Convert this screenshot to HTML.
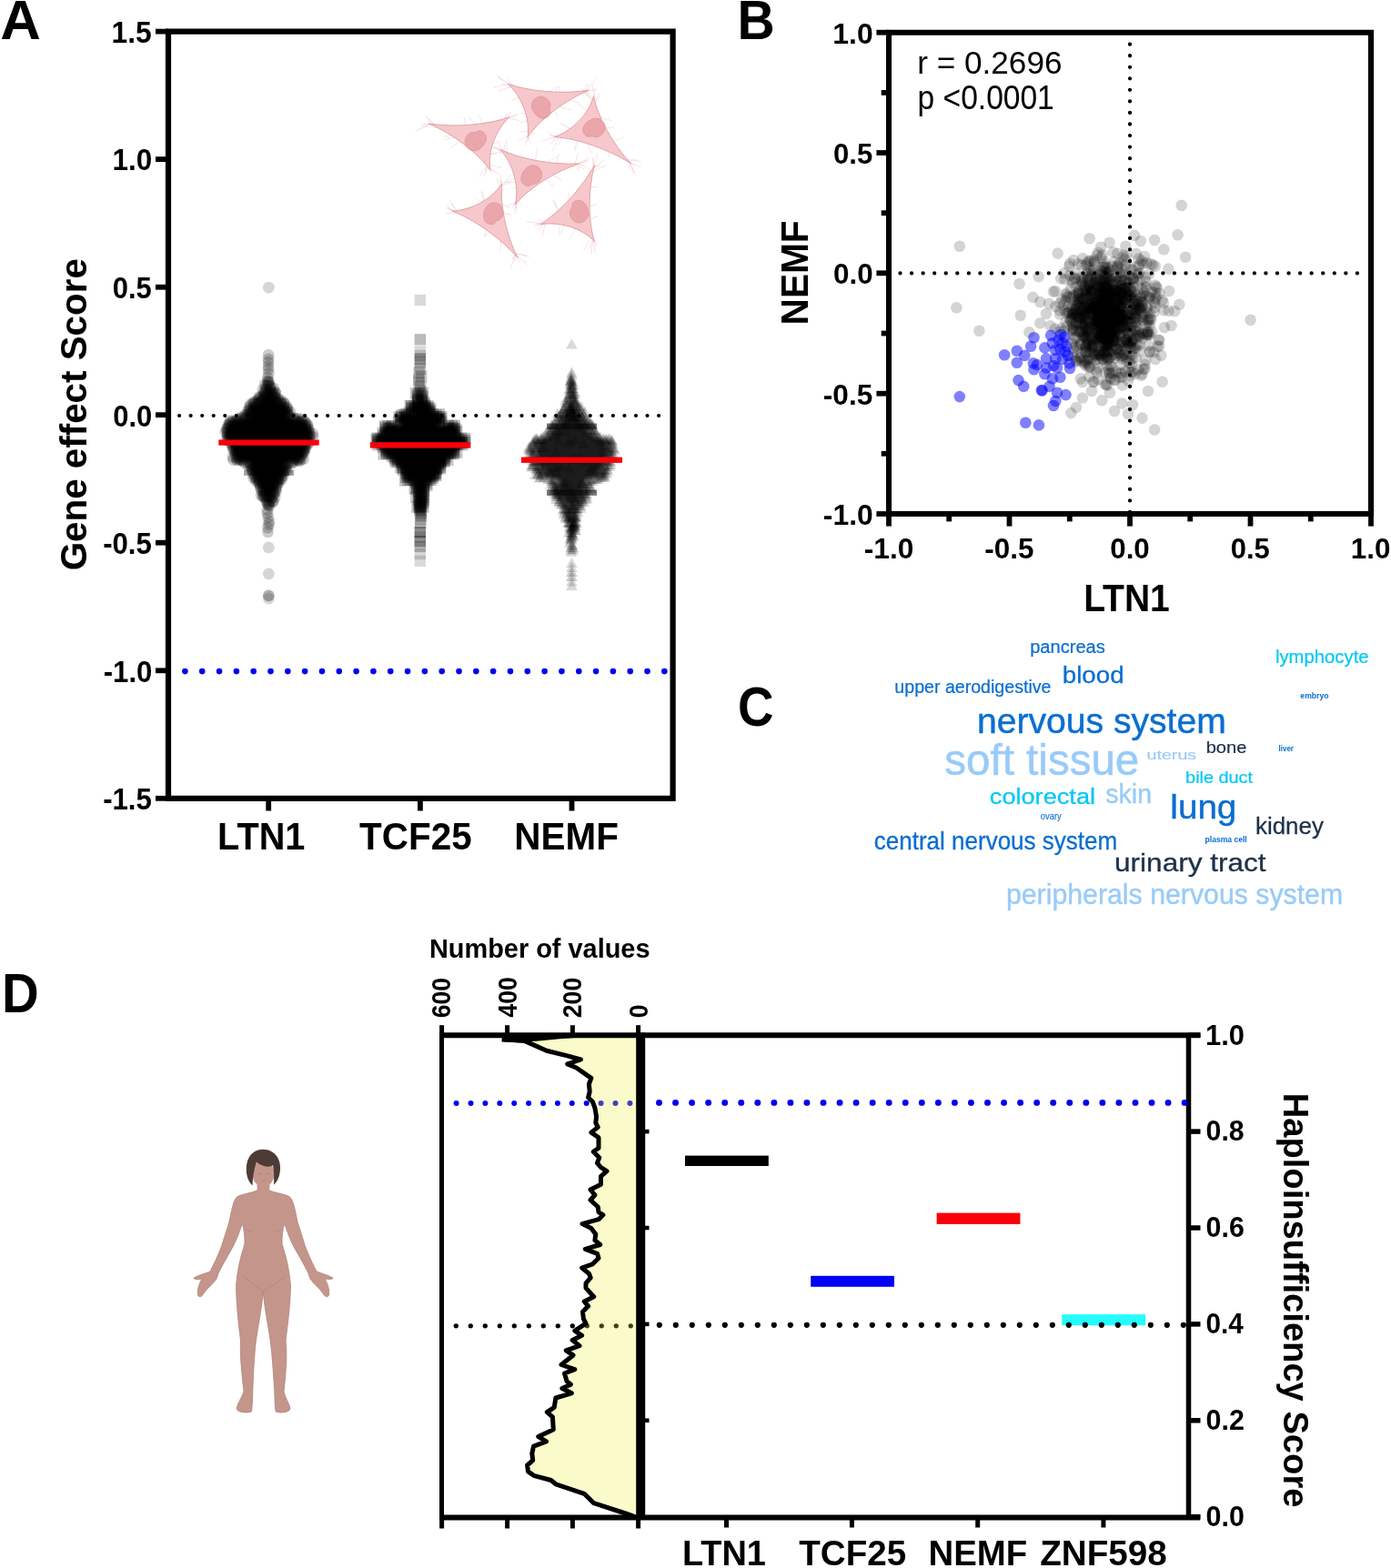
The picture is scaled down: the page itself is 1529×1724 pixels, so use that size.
<!DOCTYPE html>
<html><head><meta charset="utf-8"><title>Figure</title>
<style>html,body{margin:0;padding:0;background:#fff;overflow:hidden}svg{display:block}</style>
</head><body>
<svg width="1529" height="1724" viewBox="0 0 1529 1724" font-family="'Liberation Sans', Arial, sans-serif">
<g>
<path d="M558.3 92.1L547.0 85.4M558.7 92.4L542.1 96.4M563.4 95.2L546.7 100.0M563.8 95.4L552.0 92.4M564.9 96.0L557.2 95.7M565.1 96.2L557.7 86.6M559.9 93.0L545.6 82.4M643.6 100.3L655.3 98.4M639.3 101.5L648.1 100.8M642.5 100.6L649.0 104.4M638.4 101.7L643.4 96.9M640.5 101.1L647.6 97.9M644.9 99.9L655.0 86.4M643.7 100.2L645.9 92.1M582.7 144.1L577.4 160.2M580.7 149.1L580.5 155.3M582.7 144.2L571.2 145.2M583.3 142.8L586.9 148.1M581.3 147.7L576.0 155.8M580.2 150.4L584.2 157.4M580.6 149.4L570.1 154.3M611.3 101.1L611.5 94.6M605.1 100.6L609.8 96.5M614.2 101.3L614.4 94.6M625.1 109.8L636.4 113.2M609.2 122.0L613.6 128.4M615.1 117.5L628.5 120.8M570.7 106.5L562.3 110.8M577.6 124.9L571.3 124.8M580.3 132.1L573.0 135.2M477.5 137.7L468.8 128.6M480.0 138.4L468.2 128.5M472.5 136.3L460.6 142.7M479.7 138.3L464.4 136.0M474.6 136.9L470.3 132.1M472.5 136.3L456.4 144.4M471.7 136.1L461.8 139.0M558.6 129.4L571.8 133.1M554.8 131.7L560.7 128.1M559.0 129.2L561.8 123.3M557.2 130.3L569.7 124.7M558.9 129.3L568.8 127.0M552.2 133.3L558.5 124.6M555.2 131.5L556.5 124.6M536.2 180.8L526.4 194.5M536.2 180.9L551.5 184.3M538.7 186.7L549.4 191.1M535.8 179.8L532.0 193.9M535.8 179.9L534.2 189.0M537.4 183.6L543.6 188.0M536.5 181.6L540.3 190.3M522.1 136.5L514.9 128.2M511.2 137.4L510.2 129.1M530.8 135.7L525.7 126.6M541.1 161.1L548.8 163.5M537.9 170.1L546.3 168.3M542.4 157.5L549.3 155.4M499.4 151.1L488.6 153.3M496.0 148.5L487.8 150.4M504.7 155.1L495.7 163.1M652.4 112.6L641.2 100.5M652.4 113.5L659.1 102.7M652.5 106.3L651.2 93.6M652.4 112.8L654.5 97.1M652.4 114.5L659.9 105.2M652.4 109.4L640.1 98.5M652.4 110.2L642.0 101.7M610.8 150.4L595.2 154.9M614.6 150.0L603.8 148.5M614.5 150.0L606.9 150.9M609.5 150.6L603.2 145.6M619.1 149.4L613.6 159.5M614.7 149.9L607.0 166.1M611.5 150.3L605.1 159.4M691.5 178.1L696.5 189.5M687.8 175.0L704.0 177.5M688.0 175.2L697.3 180.9M692.5 178.9L691.4 185.8M693.1 179.4L704.3 184.0M690.7 177.4L699.0 175.0M693.5 179.7L698.1 192.2M646.0 122.2L635.5 114.6M627.2 141.8L615.9 135.2M626.9 142.1L616.9 135.6M646.0 158.3L650.1 168.1M634.2 154.2L631.6 166.4M669.1 166.4L669.5 173.3M659.5 128.5L672.5 132.9M665.9 140.0L674.8 140.7M674.3 155.2L685.3 150.9M553.5 167.0L547.6 156.5M553.8 167.2L554.6 159.2M553.8 167.2L536.7 169.2M554.7 167.8L546.9 165.7M550.2 164.5L543.3 161.5M554.1 167.4L542.1 162.4M557.4 169.8L556.5 152.9M631.8 180.9L642.2 186.2M636.5 180.0L646.4 175.7M636.6 180.0L644.6 184.0M632.6 180.7L646.7 177.0M635.3 180.2L647.6 173.7M631.7 180.9L635.7 168.4M629.2 181.3L638.1 187.7M569.1 219.5L572.6 224.7M567.0 223.7L567.9 230.4M569.0 219.8L567.0 229.6M567.2 223.2L557.2 225.7M568.2 221.4L564.5 226.2M566.6 224.3L565.9 235.0M569.8 218.1L562.3 229.3M611.0 180.1L614.4 169.3M588.6 176.0L590.3 163.0M601.8 178.4L612.5 171.7M582.6 208.6L588.6 209.7M608.0 192.4L617.9 198.2M599.5 197.8L609.1 205.1M568.3 206.3L561.9 206.1M566.8 200.9L555.4 200.0M565.5 196.2L554.0 201.5M551.6 202.1L545.8 195.3M548.6 211.1L554.9 207.1M549.8 207.4L546.9 198.2M551.4 202.9L550.3 192.4M551.0 204.0L551.5 197.7M550.8 204.5L559.7 201.3M550.8 204.7L561.7 192.2M504.6 233.4L490.1 235.0M498.6 232.4L491.1 229.1M505.6 233.6L494.9 223.9M498.1 232.3L490.3 224.5M502.5 233.0L495.0 220.8M500.2 232.7L491.2 227.0M503.8 233.3L492.6 229.4M566.9 280.2L561.2 295.3M566.9 280.1L580.0 291.1M566.6 279.7L566.1 286.8M564.2 276.1L572.5 289.4M565.6 278.2L578.7 281.0M566.0 278.8L581.7 282.2M566.2 279.0L562.8 286.6M532.8 219.9L528.4 210.0M527.6 222.7L520.4 215.8M531.5 220.6L530.3 211.0M533.6 252.5L533.3 260.5M550.9 264.7L549.6 277.6M537.9 255.5L532.2 260.1M551.3 223.8L560.6 228.8M553.3 233.3L562.0 237.3M553.9 236.3L560.0 235.3M652.4 184.2L657.8 168.2M650.1 190.0L665.8 181.6M652.8 183.2L660.6 181.9M653.0 182.8L650.8 172.7M649.9 190.4L647.6 184.6M651.7 185.9L652.7 172.4M652.0 185.3L664.4 175.7M596.5 245.7L589.6 247.7M596.8 245.5L591.4 253.6M596.8 245.5L587.1 247.6M593.8 246.7L588.1 244.5M599.7 244.4L596.1 260.4M595.8 245.9L578.5 243.7M598.6 244.8L591.0 240.1M652.1 263.0L654.2 278.4M651.9 262.6L655.5 268.1M650.5 260.1L642.0 274.6M651.7 262.2L650.0 279.0M652.6 263.7L646.9 273.6M649.9 259.1L655.8 270.9M650.2 259.6L651.2 266.0M613.5 232.1L609.1 219.1M625.7 218.8L624.6 211.8M614.3 231.3L606.9 220.6M620.7 248.1L614.3 259.1M632.4 251.7L625.5 263.6M613.8 245.9L614.8 256.3M648.4 206.4L656.8 205.1M648.4 241.7L657.4 237.6M648.4 226.7L656.4 224.8" stroke="#efcfd1" stroke-width="0.6" fill="none"/>
<path d="M558.1 92.0C582.1 100.8 617.6 103.7 647.0 99.3C620.3 110.7 593.5 131.3 580.1 150.6C582.8 130.4 574.0 106.9 558.1 92.0Z" fill="#f6c8cb" stroke="#e2a2a7" stroke-width="1" stroke-linejoin="round"/>
<path d="M-12 0C-12 -8 -5 -11 1 -10C7 -9 6 -4 10 -3C13 -2 13 5 10 8C5 12 -3 11 -8 8C-11 5 -12 3 -12 0Z" transform="translate(595.7 117.6) rotate(46)" fill="#eaa6aa" stroke="#e09aa0" stroke-width="0.8"/>
<path d="M471.1 135.9C500.6 140.3 536.1 137.4 560.0 128.6C544.3 143.5 535.8 167.0 538.9 187.2C525.2 167.9 498.0 147.3 471.1 135.9Z" fill="#f6c8cb" stroke="#e2a2a7" stroke-width="1" stroke-linejoin="round"/>
<path d="M-12 0C-12 -8 -5 -11 1 -10C7 -9 6 -4 10 -3C13 -2 13 5 10 8C5 12 -3 11 -8 8C-11 5 -12 3 -12 0Z" transform="translate(522.4 154.2) rotate(304)" fill="#eaa6aa" stroke="#e09aa0" stroke-width="0.8"/>
<path d="M652.5 105.7C647.1 125.4 629.9 143.3 609.4 150.6C634.8 152.2 668.5 164.0 693.7 179.9C673.7 158.6 657.2 128.9 652.5 105.7Z" fill="#f6c8cb" stroke="#e2a2a7" stroke-width="1" stroke-linejoin="round"/>
<path d="M-12 0C-12 -8 -5 -11 1 -10C7 -9 6 -4 10 -3C13 -2 13 5 10 8C5 12 -3 11 -8 8C-11 5 -12 3 -12 0Z" transform="translate(653.4 141.4) rotate(139)" fill="#eaa6aa" stroke="#e09aa0" stroke-width="0.8"/>
<path d="M549.9 164.3C572.8 175.3 607.6 181.5 636.9 179.9C609.5 188.8 581.3 206.8 566.4 224.8C570.9 204.9 564.3 180.7 549.9 164.3Z" fill="#f6c8cb" stroke="#e2a2a7" stroke-width="1" stroke-linejoin="round"/>
<path d="M-12 0C-12 -8 -5 -11 1 -10C7 -9 6 -4 10 -3C13 -2 13 5 10 8C5 12 -3 11 -8 8C-11 5 -12 3 -12 0Z" transform="translate(584.7 193.6) rotate(117)" fill="#eaa6aa" stroke="#e09aa0" stroke-width="0.8"/>
<path d="M551.7 201.9C540.6 218.9 518.7 231.0 496.8 232.1C520.7 240.8 549.7 261.3 569.1 283.4C556.2 257.7 549.3 225.1 551.7 201.9Z" fill="#f6c8cb" stroke="#e2a2a7" stroke-width="1" stroke-linejoin="round"/>
<path d="M-12 0C-12 -8 -5 -11 1 -10C7 -9 6 -4 10 -3C13 -2 13 5 10 8C5 12 -3 11 -8 8C-11 5 -12 3 -12 0Z" transform="translate(542.6 234.8) rotate(99)" fill="#eaa6aa" stroke="#e09aa0" stroke-width="0.8"/>
<path d="M653.4 181.7C639.1 207.3 615.3 233.3 593.8 246.7C615.3 243.3 639.1 250.7 653.4 265.1C646.2 242.9 646.2 209.5 653.4 181.7Z" fill="#f6c8cb" stroke="#e2a2a7" stroke-width="1" stroke-linejoin="round"/>
<path d="M-12 0C-12 -8 -5 -11 1 -10C7 -9 6 -4 10 -3C13 -2 13 5 10 8C5 12 -3 11 -8 8C-11 5 -12 3 -12 0Z" transform="translate(636.0 233.0) rotate(244)" fill="#eaa6aa" stroke="#e09aa0" stroke-width="0.8"/>
</g>
<text x="0.26" y="42.80" font-size="60.58" font-weight="bold" textLength="44.62" lengthAdjust="spacingAndGlyphs" fill="#000">A</text>
<path d="M185.0 34.6H739.6V877.8H185.0Z" fill="none" stroke="#000" stroke-width="6.2"/>
<path d="M171 34.6H185.0" stroke="#000" stroke-width="5.8"/>
<text x="122.59" y="46.90" font-size="33.91" font-weight="bold" textLength="44.21" lengthAdjust="spacingAndGlyphs" fill="#000">1.5</text>
<path d="M171 175.1H185.0" stroke="#000" stroke-width="5.8"/>
<text x="123.62" y="187.43" font-size="33.43" font-weight="bold" textLength="43.64" lengthAdjust="spacingAndGlyphs" fill="#000">1.0</text>
<path d="M171 315.7H185.0" stroke="#000" stroke-width="5.8"/>
<text x="123.76" y="327.97" font-size="33.43" font-weight="bold" textLength="43.02" lengthAdjust="spacingAndGlyphs" fill="#000">0.5</text>
<path d="M171 456.2H185.0" stroke="#000" stroke-width="5.8"/>
<text x="124.26" y="468.50" font-size="33.43" font-weight="bold" textLength="42.98" lengthAdjust="spacingAndGlyphs" fill="#000">0.0</text>
<path d="M171 596.7H185.0" stroke="#000" stroke-width="5.8"/>
<text x="113.15" y="609.03" font-size="33.43" font-weight="bold" textLength="53.73" lengthAdjust="spacingAndGlyphs" fill="#000">-0.5</text>
<path d="M171 737.3H185.0" stroke="#000" stroke-width="5.8"/>
<text x="113.76" y="749.57" font-size="33.43" font-weight="bold" textLength="53.59" lengthAdjust="spacingAndGlyphs" fill="#000">-1.0</text>
<path d="M171 877.8H185.0" stroke="#000" stroke-width="5.8"/>
<text x="113.15" y="890.10" font-size="33.91" font-weight="bold" textLength="53.73" lengthAdjust="spacingAndGlyphs" fill="#000">-1.5</text>
<path d="M295.2 877.8V891.5" stroke="#000" stroke-width="5.8"/>
<path d="M461.9 877.8V891.5" stroke="#000" stroke-width="5.8"/>
<path d="M628.5 877.8V891.5" stroke="#000" stroke-width="5.8"/>
<text x="239.12" y="933.80" font-size="42.17" font-weight="bold" textLength="96.31" lengthAdjust="spacingAndGlyphs" fill="#000">LTN1</text>
<text x="395.10" y="933.80" font-size="41.86" font-weight="bold" textLength="123.57" lengthAdjust="spacingAndGlyphs" fill="#000">TCF25</text>
<text x="565.37" y="933.80" font-size="42.17" font-weight="bold" textLength="114.57" lengthAdjust="spacingAndGlyphs" fill="#000">NEMF</text>
<text x="93.49" y="625.70" font-size="40.97" font-weight="bold" textLength="343.17" lengthAdjust="spacingAndGlyphs" fill="#000" transform="rotate(-90 95.10 625.70)">Gene effect Score</text>
<path d="M197.1 457H736.5" stroke="#000" stroke-width="4.2" stroke-linecap="round" stroke-dasharray="0 12.547"/>
<path d="M203.4 738.1H731" stroke="#0000f0" stroke-width="6.6" stroke-linecap="round" stroke-dasharray="0 18.82"/>
<defs><filter id="blur2" x="-20%" y="-20%" width="140%" height="140%"><feGaussianBlur stdDeviation="2.2"/></filter></defs>
<g>
<path d="M295.4 430.7 L295.7 431.2 L296.1 431.7 L296.4 432.2 L296.8 432.7 L297.1 433.2 L297.5 433.7 L297.8 434.2 L298.1 434.7 L298.5 435.2 L298.8 435.7 L299.2 436.2 L299.5 436.7 L299.9 437.2 L300.2 437.7 L300.6 438.2 L300.9 438.7 L301.3 439.2 L301.8 439.7 L302.3 440.2 L302.9 440.7 L303.6 441.2 L304.3 441.7 L305.0 442.2 L305.7 442.7 L306.3 443.2 L307.0 443.7 L307.7 444.2 L308.4 444.7 L309.1 445.2 L309.7 445.7 L310.4 446.2 L311.0 446.7 L311.7 447.2 L311.8 447.7 L311.8 448.2 L311.9 448.7 L312.0 449.2 L312.0 449.7 L312.1 450.2 L312.1 450.7 L312.2 451.2 L312.3 451.7 L312.3 452.2 L312.4 452.7 L312.5 453.2 L312.7 453.7 L312.9 454.2 L313.1 454.7 L313.3 455.2 L313.5 455.7 L314.0 456.2 L314.5 456.7 L315.2 457.2 L316.1 457.7 L317.4 458.2 L319.0 458.7 L320.5 459.2 L322.1 459.7 L323.7 460.2 L325.3 460.7 L326.8 461.2 L328.4 461.7 L329.5 462.2 L329.9 462.7 L330.4 463.2 L330.8 463.7 L331.3 464.2 L331.8 464.7 L332.2 465.2 L332.7 465.7 L333.1 466.2 L333.6 466.7 L334.0 467.2 L334.5 467.7 L334.9 468.2 L335.0 468.7 L335.2 469.2 L335.3 469.7 L335.4 470.2 L335.6 470.7 L335.7 471.2 L335.8 471.7 L336.0 472.2 L336.1 472.7 L336.2 473.2 L336.4 473.7 L336.5 474.2 L336.6 474.7 L336.7 475.2 L336.8 475.7 L336.8 476.2 L336.9 476.7 L337.0 477.2 L337.0 477.7 L337.1 478.2 L337.2 478.7 L337.2 479.2 L337.3 479.7 L337.4 480.2 L337.2 480.7 L336.8 481.2 L336.5 481.7 L336.1 482.2 L335.7 482.7 L335.4 483.2 L335.0 483.7 L334.7 484.2 L334.3 484.7 L334.0 485.2 L333.6 485.7 L333.3 486.2 L332.9 486.7 L332.5 487.2 L332.2 487.7 L332.0 488.2 L331.7 488.7 L331.5 489.2 L331.4 489.7 L331.2 490.2 L331.0 490.7 L330.9 491.2 L330.7 491.7 L330.5 492.2 L330.4 492.7 L330.2 493.2 L330.0 493.7 L329.9 494.2 L329.7 494.7 L329.5 495.2 L329.4 495.7 L329.2 496.2 L329.0 496.7 L328.9 497.2 L328.7 497.7 L328.6 498.2 L328.4 498.7 L328.2 499.2 L328.1 499.7 L327.9 500.2 L327.8 500.7 L327.6 501.2 L327.5 501.7 L327.3 502.2 L327.1 502.7 L327.0 503.2 L326.8 503.7 L326.7 504.2 L326.5 504.7 L326.4 505.2 L326.2 505.7 L326.1 506.2 L325.9 506.7 L325.4 507.2 L322.6 507.7 L319.5 508.2 L316.3 508.7 L314.0 509.2 L313.2 509.7 L312.6 510.2 L311.9 510.7 L311.4 511.2 L311.0 511.7 L310.6 512.2 L310.4 512.7 L310.2 513.2 L310.0 513.7 L309.9 514.2 L309.8 514.7 L309.7 515.2 L309.6 515.7 L309.5 516.2 L309.4 516.7 L309.3 517.2 L309.2 517.7 L309.1 518.2 L309.0 518.7 L308.9 519.2 L308.8 519.7 L308.6 520.2 L308.2 520.7 L307.9 521.2 L307.5 521.7 L307.2 522.2 L306.8 522.7 L306.5 523.2 L306.1 523.7 L305.8 524.2 L305.4 524.7 L305.1 525.2 L304.7 525.7 L304.3 526.2 L304.0 526.7 L303.6 527.2 L303.3 527.7 L303.1 528.2 L302.8 528.7 L302.6 529.2 L302.4 529.7 L302.2 530.2 L302.0 530.7 L301.8 531.2 L301.6 531.7 L301.4 532.2 L301.2 532.7 L301.0 533.2 L300.8 533.7 L300.6 534.2 L300.4 534.7 L300.2 535.2 L300.0 535.7 L299.8 536.2 L299.6 536.7 L299.4 537.2 L299.2 537.7 L298.9 538.2 L298.7 538.7 L298.5 539.2 L298.3 539.7 L298.0 540.2 L297.8 540.7 L297.6 541.2 L297.4 541.7 L297.2 542.2 L296.9 542.7 L296.7 543.2 L296.5 543.7 L296.3 544.2 L296.0 544.7 L295.8 545.2 L295.6 545.7 L295.4 546.2 L295.2 546.7 L295.0 546.7 L294.8 546.2 L294.6 545.7 L294.4 545.2 L294.2 544.7 L293.9 544.2 L293.7 543.7 L293.5 543.2 L293.3 542.7 L293.0 542.2 L292.8 541.7 L292.6 541.2 L292.4 540.7 L292.2 540.2 L291.9 539.7 L291.7 539.2 L291.5 538.7 L291.3 538.2 L291.0 537.7 L290.8 537.2 L290.6 536.7 L290.4 536.2 L290.2 535.7 L290.0 535.2 L289.8 534.7 L289.6 534.2 L289.4 533.7 L289.2 533.2 L289.0 532.7 L288.8 532.2 L288.6 531.7 L288.4 531.2 L288.2 530.7 L288.0 530.2 L287.8 529.7 L287.6 529.2 L287.4 528.7 L287.1 528.2 L286.9 527.7 L286.6 527.2 L286.2 526.7 L285.9 526.2 L285.5 525.7 L285.1 525.2 L284.8 524.7 L284.4 524.2 L284.1 523.7 L283.7 523.2 L283.4 522.7 L283.0 522.2 L282.7 521.7 L282.3 521.2 L282.0 520.7 L281.6 520.2 L281.4 519.7 L281.3 519.2 L281.2 518.7 L281.1 518.2 L281.0 517.7 L280.9 517.2 L280.8 516.7 L280.7 516.2 L280.6 515.7 L280.5 515.2 L280.4 514.7 L280.3 514.2 L280.2 513.7 L280.0 513.2 L279.8 512.7 L279.6 512.2 L279.2 511.7 L278.8 511.2 L278.3 510.7 L277.6 510.2 L277.0 509.7 L276.2 509.2 L273.9 508.7 L270.7 508.2 L267.6 507.7 L264.8 507.2 L264.3 506.7 L264.1 506.2 L264.0 505.7 L263.8 505.2 L263.7 504.7 L263.5 504.2 L263.4 503.7 L263.2 503.2 L263.1 502.7 L262.9 502.2 L262.7 501.7 L262.6 501.2 L262.4 500.7 L262.3 500.2 L262.1 499.7 L262.0 499.2 L261.8 498.7 L261.6 498.2 L261.5 497.7 L261.3 497.2 L261.2 496.7 L261.0 496.2 L260.8 495.7 L260.7 495.2 L260.5 494.7 L260.3 494.2 L260.2 493.7 L260.0 493.2 L259.8 492.7 L259.7 492.2 L259.5 491.7 L259.3 491.2 L259.2 490.7 L259.0 490.2 L258.8 489.7 L258.7 489.2 L258.5 488.7 L258.2 488.2 L258.0 487.7 L257.7 487.2 L257.3 486.7 L256.9 486.2 L256.6 485.7 L256.2 485.2 L255.9 484.7 L255.5 484.2 L255.2 483.7 L254.8 483.2 L254.5 482.7 L254.1 482.2 L253.7 481.7 L253.4 481.2 L253.0 480.7 L252.8 480.2 L252.9 479.7 L253.0 479.2 L253.0 478.7 L253.1 478.2 L253.2 477.7 L253.2 477.2 L253.3 476.7 L253.4 476.2 L253.4 475.7 L253.5 475.2 L253.6 474.7 L253.7 474.2 L253.8 473.7 L254.0 473.2 L254.1 472.7 L254.2 472.2 L254.4 471.7 L254.5 471.2 L254.6 470.7 L254.8 470.2 L254.9 469.7 L255.0 469.2 L255.2 468.7 L255.3 468.2 L255.7 467.7 L256.2 467.2 L256.6 466.7 L257.1 466.2 L257.5 465.7 L258.0 465.2 L258.4 464.7 L258.9 464.2 L259.4 463.7 L259.8 463.2 L260.3 462.7 L260.7 462.2 L261.8 461.7 L263.4 461.2 L264.9 460.7 L266.5 460.2 L268.1 459.7 L269.7 459.2 L271.2 458.7 L272.8 458.2 L274.1 457.7 L275.0 457.2 L275.7 456.7 L276.2 456.2 L276.7 455.7 L276.9 455.2 L277.1 454.7 L277.3 454.2 L277.5 453.7 L277.7 453.2 L277.8 452.7 L277.9 452.2 L277.9 451.7 L278.0 451.2 L278.1 450.7 L278.1 450.2 L278.2 449.7 L278.2 449.2 L278.3 448.7 L278.4 448.2 L278.4 447.7 L278.5 447.2 L279.2 446.7 L279.8 446.2 L280.5 445.7 L281.1 445.2 L281.8 444.7 L282.5 444.2 L283.2 443.7 L283.9 443.2 L284.5 442.7 L285.2 442.2 L285.9 441.7 L286.6 441.2 L287.3 440.7 L287.9 440.2 L288.4 439.7 L288.9 439.2 L289.3 438.7 L289.6 438.2 L290.0 437.7 L290.3 437.2 L290.7 436.7 L291.0 436.2 L291.4 435.7 L291.7 435.2 L292.1 434.7 L292.4 434.2 L292.7 433.7 L293.1 433.2 L293.4 432.7 L293.8 432.2 L294.1 431.7 L294.5 431.2 L294.8 430.7Z" fill="#050505" filter="url(#blur2)"/>
<circle cx="295.1" cy="390.2" r="6.4" fill-opacity="0.2"/>
<circle cx="295.1" cy="395.0" r="6.4" fill-opacity="0.2"/>
<circle cx="295.1" cy="398.2" r="6.4" fill-opacity="0.2"/>
<circle cx="295.0" cy="402.6" r="6.4" fill-opacity="0.2"/>
<circle cx="295.0" cy="406.2" r="6.4" fill-opacity="0.2"/>
<circle cx="295.3" cy="410.6" r="6.4" fill-opacity="0.2"/>
<circle cx="294.3" cy="415.2" r="6.4" fill-opacity="0.2"/>
<circle cx="294.0" cy="418.9" r="6.4" fill-opacity="0.2"/>
<circle cx="295.0" cy="419.9" r="6.4" fill-opacity="0.2"/>
<circle cx="295.7" cy="420.0" r="6.4" fill-opacity="0.2"/>
<circle cx="291.0" cy="422.9" r="6.4" fill-opacity="0.2"/>
<circle cx="294.8" cy="423.2" r="6.4" fill-opacity="0.2"/>
<circle cx="295.6" cy="423.1" r="6.4" fill-opacity="0.2"/>
<circle cx="293.0" cy="424.1" r="6.4" fill-opacity="0.2"/>
<circle cx="297.1" cy="424.6" r="6.4" fill-opacity="0.2"/>
<circle cx="292.4" cy="427.4" r="6.4" fill-opacity="0.2"/>
<circle cx="300.7" cy="426.9" r="6.4" fill-opacity="0.2"/>
<circle cx="297.3" cy="426.7" r="6.4" fill-opacity="0.2"/>
<circle cx="288.8" cy="428.7" r="6.4" fill-opacity="0.2"/>
<circle cx="292.1" cy="428.8" r="6.4" fill-opacity="0.2"/>
<circle cx="297.4" cy="428.6" r="6.4" fill-opacity="0.2"/>
<circle cx="291.1" cy="431.4" r="6.4" fill-opacity="0.2"/>
<circle cx="294.9" cy="431.3" r="6.4" fill-opacity="0.2"/>
<circle cx="302.6" cy="431.1" r="6.4" fill-opacity="0.2"/>
<circle cx="299.2" cy="431.4" r="6.4" fill-opacity="0.2"/>
<circle cx="296.3" cy="431.3" r="6.4" fill-opacity="0.2"/>
<circle cx="290.5" cy="431.8" r="6.4" fill-opacity="0.2"/>
<circle cx="293.5" cy="432.5" r="6.4" fill-opacity="0.2"/>
<circle cx="302.7" cy="432.1" r="6.4" fill-opacity="0.2"/>
<circle cx="301.0" cy="432.6" r="6.4" fill-opacity="0.2"/>
<circle cx="297.6" cy="431.8" r="6.4" fill-opacity="0.2"/>
<circle cx="289.2" cy="434.9" r="6.4" fill-opacity="0.2"/>
<circle cx="291.8" cy="434.8" r="6.4" fill-opacity="0.2"/>
<circle cx="302.1" cy="434.7" r="6.4" fill-opacity="0.2"/>
<circle cx="298.7" cy="434.4" r="6.4" fill-opacity="0.2"/>
<circle cx="284.4" cy="436.7" r="6.4" fill-opacity="0.2"/>
<circle cx="286.5" cy="436.6" r="6.4" fill-opacity="0.2"/>
<circle cx="291.1" cy="436.7" r="6.4" fill-opacity="0.2"/>
<circle cx="293.9" cy="436.9" r="6.4" fill-opacity="0.2"/>
<circle cx="303.0" cy="437.1" r="6.4" fill-opacity="0.2"/>
<circle cx="299.8" cy="436.5" r="6.4" fill-opacity="0.2"/>
<circle cx="296.5" cy="436.6" r="6.4" fill-opacity="0.2"/>
<circle cx="284.9" cy="438.2" r="6.4" fill-opacity="0.2"/>
<circle cx="288.4" cy="438.6" r="6.4" fill-opacity="0.2"/>
<circle cx="291.4" cy="438.4" r="6.4" fill-opacity="0.2"/>
<circle cx="305.1" cy="437.9" r="6.4" fill-opacity="0.2"/>
<circle cx="301.3" cy="438.0" r="6.4" fill-opacity="0.2"/>
<circle cx="297.7" cy="438.3" r="6.4" fill-opacity="0.2"/>
<circle cx="283.5" cy="440.1" r="6.4" fill-opacity="0.2"/>
<circle cx="286.9" cy="440.3" r="6.4" fill-opacity="0.2"/>
<circle cx="289.6" cy="440.0" r="6.4" fill-opacity="0.2"/>
<circle cx="309.3" cy="440.4" r="6.4" fill-opacity="0.2"/>
<circle cx="306.9" cy="440.3" r="6.4" fill-opacity="0.2"/>
<circle cx="302.8" cy="440.9" r="6.4" fill-opacity="0.2"/>
<circle cx="299.7" cy="440.1" r="6.4" fill-opacity="0.2"/>
<circle cx="278.7" cy="442.4" r="6.4" fill-opacity="0.2"/>
<circle cx="280.1" cy="442.0" r="6.4" fill-opacity="0.2"/>
<circle cx="284.2" cy="442.6" r="6.4" fill-opacity="0.2"/>
<circle cx="286.6" cy="442.9" r="6.4" fill-opacity="0.2"/>
<circle cx="312.1" cy="442.8" r="6.4" fill-opacity="0.2"/>
<circle cx="308.5" cy="442.5" r="6.4" fill-opacity="0.2"/>
<circle cx="305.5" cy="442.7" r="6.4" fill-opacity="0.2"/>
<circle cx="303.7" cy="442.4" r="6.4" fill-opacity="0.2"/>
<circle cx="275.6" cy="444.4" r="6.4" fill-opacity="0.2"/>
<circle cx="278.6" cy="444.2" r="6.4" fill-opacity="0.2"/>
<circle cx="281.5" cy="443.8" r="6.4" fill-opacity="0.2"/>
<circle cx="284.2" cy="443.9" r="6.4" fill-opacity="0.2"/>
<circle cx="312.5" cy="444.1" r="6.4" fill-opacity="0.2"/>
<circle cx="309.3" cy="444.1" r="6.4" fill-opacity="0.2"/>
<circle cx="305.0" cy="444.0" r="6.4" fill-opacity="0.2"/>
<circle cx="274.7" cy="446.6" r="6.4" fill-opacity="0.2"/>
<circle cx="279.0" cy="447.4" r="6.4" fill-opacity="0.2"/>
<circle cx="281.6" cy="447.2" r="6.4" fill-opacity="0.2"/>
<circle cx="315.4" cy="447.3" r="6.4" fill-opacity="0.2"/>
<circle cx="311.6" cy="447.2" r="6.4" fill-opacity="0.2"/>
<circle cx="308.6" cy="446.9" r="6.4" fill-opacity="0.2"/>
<circle cx="274.1" cy="448.9" r="6.4" fill-opacity="0.2"/>
<circle cx="278.7" cy="448.9" r="6.4" fill-opacity="0.2"/>
<circle cx="280.4" cy="449.0" r="6.4" fill-opacity="0.2"/>
<circle cx="315.4" cy="448.7" r="6.4" fill-opacity="0.2"/>
<circle cx="312.7" cy="448.5" r="6.4" fill-opacity="0.2"/>
<circle cx="309.8" cy="449.2" r="6.4" fill-opacity="0.2"/>
<circle cx="272.4" cy="451.6" r="6.4" fill-opacity="0.2"/>
<circle cx="274.6" cy="451.0" r="6.4" fill-opacity="0.2"/>
<circle cx="277.8" cy="451.4" r="6.4" fill-opacity="0.2"/>
<circle cx="281.4" cy="451.2" r="6.4" fill-opacity="0.2"/>
<circle cx="316.2" cy="450.7" r="6.4" fill-opacity="0.2"/>
<circle cx="313.2" cy="451.2" r="6.4" fill-opacity="0.2"/>
<circle cx="309.3" cy="451.3" r="6.4" fill-opacity="0.2"/>
<circle cx="274.7" cy="452.4" r="6.4" fill-opacity="0.2"/>
<circle cx="278.0" cy="452.5" r="6.4" fill-opacity="0.2"/>
<circle cx="279.8" cy="452.8" r="6.4" fill-opacity="0.2"/>
<circle cx="319.0" cy="452.8" r="6.4" fill-opacity="0.2"/>
<circle cx="315.5" cy="452.3" r="6.4" fill-opacity="0.2"/>
<circle cx="313.2" cy="452.6" r="6.4" fill-opacity="0.2"/>
<circle cx="309.6" cy="452.5" r="6.4" fill-opacity="0.2"/>
<circle cx="273.2" cy="455.0" r="6.4" fill-opacity="0.2"/>
<circle cx="276.3" cy="454.9" r="6.4" fill-opacity="0.2"/>
<circle cx="280.2" cy="454.8" r="6.4" fill-opacity="0.2"/>
<circle cx="316.2" cy="454.5" r="6.4" fill-opacity="0.2"/>
<circle cx="312.6" cy="455.2" r="6.4" fill-opacity="0.2"/>
<circle cx="311.2" cy="454.6" r="6.4" fill-opacity="0.2"/>
<circle cx="269.2" cy="456.4" r="6.4" fill-opacity="0.2"/>
<circle cx="271.5" cy="456.1" r="6.4" fill-opacity="0.2"/>
<circle cx="274.6" cy="456.4" r="6.4" fill-opacity="0.2"/>
<circle cx="277.9" cy="456.7" r="6.4" fill-opacity="0.2"/>
<circle cx="318.1" cy="456.5" r="6.4" fill-opacity="0.2"/>
<circle cx="315.0" cy="456.1" r="6.4" fill-opacity="0.2"/>
<circle cx="311.7" cy="456.8" r="6.4" fill-opacity="0.2"/>
<circle cx="264.6" cy="459.0" r="6.4" fill-opacity="0.2"/>
<circle cx="268.2" cy="458.8" r="6.4" fill-opacity="0.2"/>
<circle cx="270.3" cy="459.6" r="6.4" fill-opacity="0.2"/>
<circle cx="274.0" cy="459.0" r="6.4" fill-opacity="0.2"/>
<circle cx="323.2" cy="459.4" r="6.4" fill-opacity="0.2"/>
<circle cx="318.6" cy="458.9" r="6.4" fill-opacity="0.2"/>
<circle cx="316.9" cy="459.2" r="6.4" fill-opacity="0.2"/>
<circle cx="261.0" cy="461.1" r="6.4" fill-opacity="0.2"/>
<circle cx="264.4" cy="460.6" r="6.4" fill-opacity="0.2"/>
<circle cx="268.2" cy="461.4" r="6.4" fill-opacity="0.2"/>
<circle cx="332.0" cy="461.2" r="6.4" fill-opacity="0.2"/>
<circle cx="328.4" cy="460.4" r="6.4" fill-opacity="0.2"/>
<circle cx="325.5" cy="460.7" r="6.4" fill-opacity="0.2"/>
<circle cx="322.4" cy="460.8" r="6.4" fill-opacity="0.2"/>
<circle cx="253.1" cy="462.7" r="6.4" fill-opacity="0.2"/>
<circle cx="255.8" cy="463.0" r="6.4" fill-opacity="0.2"/>
<circle cx="259.4" cy="462.7" r="6.4" fill-opacity="0.2"/>
<circle cx="263.1" cy="463.4" r="6.4" fill-opacity="0.2"/>
<circle cx="334.1" cy="462.9" r="6.4" fill-opacity="0.2"/>
<circle cx="330.2" cy="463.3" r="6.4" fill-opacity="0.2"/>
<circle cx="326.3" cy="463.5" r="6.4" fill-opacity="0.2"/>
<circle cx="252.6" cy="464.7" r="6.4" fill-opacity="0.2"/>
<circle cx="255.6" cy="464.3" r="6.4" fill-opacity="0.2"/>
<circle cx="258.4" cy="464.3" r="6.4" fill-opacity="0.2"/>
<circle cx="260.8" cy="464.7" r="6.4" fill-opacity="0.2"/>
<circle cx="335.8" cy="464.4" r="6.4" fill-opacity="0.2"/>
<circle cx="331.9" cy="464.2" r="6.4" fill-opacity="0.2"/>
<circle cx="328.5" cy="464.7" r="6.4" fill-opacity="0.2"/>
<circle cx="250.6" cy="467.3" r="6.4" fill-opacity="0.2"/>
<circle cx="252.2" cy="466.5" r="6.4" fill-opacity="0.2"/>
<circle cx="257.0" cy="467.2" r="6.4" fill-opacity="0.2"/>
<circle cx="259.4" cy="466.9" r="6.4" fill-opacity="0.2"/>
<circle cx="337.7" cy="466.5" r="6.4" fill-opacity="0.2"/>
<circle cx="334.8" cy="467.4" r="6.4" fill-opacity="0.2"/>
<circle cx="330.7" cy="466.9" r="6.4" fill-opacity="0.2"/>
<circle cx="252.1" cy="468.4" r="6.4" fill-opacity="0.2"/>
<circle cx="254.0" cy="468.4" r="6.4" fill-opacity="0.2"/>
<circle cx="257.3" cy="468.1" r="6.4" fill-opacity="0.2"/>
<circle cx="338.0" cy="468.1" r="6.4" fill-opacity="0.2"/>
<circle cx="335.9" cy="468.2" r="6.4" fill-opacity="0.2"/>
<circle cx="331.6" cy="468.0" r="6.4" fill-opacity="0.2"/>
<circle cx="249.1" cy="471.5" r="6.4" fill-opacity="0.2"/>
<circle cx="250.5" cy="470.9" r="6.4" fill-opacity="0.2"/>
<circle cx="254.7" cy="471.4" r="6.4" fill-opacity="0.2"/>
<circle cx="256.9" cy="471.2" r="6.4" fill-opacity="0.2"/>
<circle cx="339.3" cy="471.5" r="6.4" fill-opacity="0.2"/>
<circle cx="336.0" cy="470.6" r="6.4" fill-opacity="0.2"/>
<circle cx="332.0" cy="471.1" r="6.4" fill-opacity="0.2"/>
<circle cx="250.0" cy="472.7" r="6.4" fill-opacity="0.2"/>
<circle cx="253.9" cy="472.7" r="6.4" fill-opacity="0.2"/>
<circle cx="257.1" cy="472.7" r="6.4" fill-opacity="0.2"/>
<circle cx="339.1" cy="472.7" r="6.4" fill-opacity="0.2"/>
<circle cx="336.9" cy="472.8" r="6.4" fill-opacity="0.2"/>
<circle cx="333.1" cy="473.4" r="6.4" fill-opacity="0.2"/>
<circle cx="247.8" cy="475.1" r="6.4" fill-opacity="0.2"/>
<circle cx="249.8" cy="475.0" r="6.4" fill-opacity="0.2"/>
<circle cx="252.9" cy="475.3" r="6.4" fill-opacity="0.2"/>
<circle cx="255.7" cy="474.9" r="6.4" fill-opacity="0.2"/>
<circle cx="339.5" cy="474.7" r="6.4" fill-opacity="0.2"/>
<circle cx="336.3" cy="474.8" r="6.4" fill-opacity="0.2"/>
<circle cx="334.4" cy="475.0" r="6.4" fill-opacity="0.2"/>
<circle cx="250.2" cy="476.2" r="6.4" fill-opacity="0.2"/>
<circle cx="253.4" cy="477.0" r="6.4" fill-opacity="0.2"/>
<circle cx="256.3" cy="476.6" r="6.4" fill-opacity="0.2"/>
<circle cx="343.7" cy="476.9" r="6.4" fill-opacity="0.2"/>
<circle cx="340.4" cy="476.7" r="6.4" fill-opacity="0.2"/>
<circle cx="337.2" cy="476.7" r="6.4" fill-opacity="0.2"/>
<circle cx="334.3" cy="476.7" r="6.4" fill-opacity="0.2"/>
<circle cx="250.2" cy="479.0" r="6.4" fill-opacity="0.2"/>
<circle cx="253.4" cy="479.0" r="6.4" fill-opacity="0.2"/>
<circle cx="255.2" cy="479.3" r="6.4" fill-opacity="0.2"/>
<circle cx="340.1" cy="479.5" r="6.4" fill-opacity="0.2"/>
<circle cx="337.8" cy="479.0" r="6.4" fill-opacity="0.2"/>
<circle cx="334.9" cy="478.7" r="6.4" fill-opacity="0.2"/>
<circle cx="250.2" cy="479.9" r="6.4" fill-opacity="0.2"/>
<circle cx="252.6" cy="480.5" r="6.4" fill-opacity="0.2"/>
<circle cx="255.6" cy="479.8" r="6.4" fill-opacity="0.2"/>
<circle cx="343.9" cy="480.1" r="6.4" fill-opacity="0.2"/>
<circle cx="340.3" cy="479.8" r="6.4" fill-opacity="0.2"/>
<circle cx="337.2" cy="480.7" r="6.4" fill-opacity="0.2"/>
<circle cx="333.6" cy="480.3" r="6.4" fill-opacity="0.2"/>
<circle cx="251.2" cy="483.3" r="6.4" fill-opacity="0.2"/>
<circle cx="254.7" cy="483.2" r="6.4" fill-opacity="0.2"/>
<circle cx="257.6" cy="483.5" r="6.4" fill-opacity="0.2"/>
<circle cx="339.9" cy="483.0" r="6.4" fill-opacity="0.2"/>
<circle cx="336.7" cy="483.6" r="6.4" fill-opacity="0.2"/>
<circle cx="332.8" cy="483.2" r="6.4" fill-opacity="0.2"/>
<circle cx="249.1" cy="483.8" r="6.4" fill-opacity="0.2"/>
<circle cx="252.0" cy="483.9" r="6.4" fill-opacity="0.2"/>
<circle cx="255.1" cy="484.5" r="6.4" fill-opacity="0.2"/>
<circle cx="257.8" cy="484.2" r="6.4" fill-opacity="0.2"/>
<circle cx="337.8" cy="484.5" r="6.4" fill-opacity="0.2"/>
<circle cx="335.3" cy="483.9" r="6.4" fill-opacity="0.2"/>
<circle cx="331.3" cy="483.8" r="6.4" fill-opacity="0.2"/>
<circle cx="252.9" cy="486.8" r="6.4" fill-opacity="0.2"/>
<circle cx="257.6" cy="486.3" r="6.4" fill-opacity="0.2"/>
<circle cx="259.4" cy="486.4" r="6.4" fill-opacity="0.2"/>
<circle cx="339.8" cy="486.7" r="6.4" fill-opacity="0.2"/>
<circle cx="335.9" cy="486.4" r="6.4" fill-opacity="0.2"/>
<circle cx="332.7" cy="486.0" r="6.4" fill-opacity="0.2"/>
<circle cx="330.2" cy="486.1" r="6.4" fill-opacity="0.2"/>
<circle cx="255.4" cy="489.2" r="6.4" fill-opacity="0.2"/>
<circle cx="258.5" cy="488.6" r="6.4" fill-opacity="0.2"/>
<circle cx="260.3" cy="488.7" r="6.4" fill-opacity="0.2"/>
<circle cx="338.0" cy="488.5" r="6.4" fill-opacity="0.2"/>
<circle cx="335.9" cy="488.6" r="6.4" fill-opacity="0.2"/>
<circle cx="331.3" cy="489.5" r="6.4" fill-opacity="0.2"/>
<circle cx="329.0" cy="489.5" r="6.4" fill-opacity="0.2"/>
<circle cx="256.4" cy="491.3" r="6.4" fill-opacity="0.2"/>
<circle cx="259.5" cy="490.7" r="6.4" fill-opacity="0.2"/>
<circle cx="261.3" cy="491.0" r="6.4" fill-opacity="0.2"/>
<circle cx="334.7" cy="491.4" r="6.4" fill-opacity="0.2"/>
<circle cx="331.7" cy="491.6" r="6.4" fill-opacity="0.2"/>
<circle cx="328.2" cy="491.5" r="6.4" fill-opacity="0.2"/>
<circle cx="256.2" cy="493.0" r="6.4" fill-opacity="0.2"/>
<circle cx="259.1" cy="492.8" r="6.4" fill-opacity="0.2"/>
<circle cx="262.7" cy="493.2" r="6.4" fill-opacity="0.2"/>
<circle cx="336.2" cy="492.7" r="6.4" fill-opacity="0.2"/>
<circle cx="334.6" cy="493.4" r="6.4" fill-opacity="0.2"/>
<circle cx="331.4" cy="493.3" r="6.4" fill-opacity="0.2"/>
<circle cx="327.8" cy="492.6" r="6.4" fill-opacity="0.2"/>
<circle cx="256.5" cy="494.7" r="6.4" fill-opacity="0.2"/>
<circle cx="259.6" cy="494.8" r="6.4" fill-opacity="0.2"/>
<circle cx="262.4" cy="495.3" r="6.4" fill-opacity="0.2"/>
<circle cx="333.6" cy="494.9" r="6.4" fill-opacity="0.2"/>
<circle cx="330.2" cy="494.7" r="6.4" fill-opacity="0.2"/>
<circle cx="326.6" cy="494.9" r="6.4" fill-opacity="0.2"/>
<circle cx="258.3" cy="495.8" r="6.4" fill-opacity="0.2"/>
<circle cx="261.0" cy="496.8" r="6.4" fill-opacity="0.2"/>
<circle cx="263.5" cy="496.2" r="6.4" fill-opacity="0.2"/>
<circle cx="334.7" cy="496.2" r="6.4" fill-opacity="0.2"/>
<circle cx="333.0" cy="496.6" r="6.4" fill-opacity="0.2"/>
<circle cx="329.4" cy="496.6" r="6.4" fill-opacity="0.2"/>
<circle cx="326.9" cy="496.6" r="6.4" fill-opacity="0.2"/>
<circle cx="258.8" cy="498.6" r="6.4" fill-opacity="0.2"/>
<circle cx="262.2" cy="498.4" r="6.4" fill-opacity="0.2"/>
<circle cx="265.2" cy="498.4" r="6.4" fill-opacity="0.2"/>
<circle cx="333.8" cy="498.4" r="6.4" fill-opacity="0.2"/>
<circle cx="331.9" cy="498.5" r="6.4" fill-opacity="0.2"/>
<circle cx="328.2" cy="498.5" r="6.4" fill-opacity="0.2"/>
<circle cx="325.3" cy="498.0" r="6.4" fill-opacity="0.2"/>
<circle cx="259.1" cy="500.8" r="6.4" fill-opacity="0.2"/>
<circle cx="261.5" cy="500.1" r="6.4" fill-opacity="0.2"/>
<circle cx="265.7" cy="500.3" r="6.4" fill-opacity="0.2"/>
<circle cx="331.4" cy="500.6" r="6.4" fill-opacity="0.2"/>
<circle cx="327.4" cy="500.3" r="6.4" fill-opacity="0.2"/>
<circle cx="324.4" cy="500.8" r="6.4" fill-opacity="0.2"/>
<circle cx="256.0" cy="502.5" r="6.4" fill-opacity="0.2"/>
<circle cx="260.3" cy="502.8" r="6.4" fill-opacity="0.2"/>
<circle cx="262.3" cy="503.3" r="6.4" fill-opacity="0.2"/>
<circle cx="265.8" cy="502.5" r="6.4" fill-opacity="0.2"/>
<circle cx="329.9" cy="503.2" r="6.4" fill-opacity="0.2"/>
<circle cx="327.3" cy="502.5" r="6.4" fill-opacity="0.2"/>
<circle cx="323.8" cy="503.2" r="6.4" fill-opacity="0.2"/>
<circle cx="256.4" cy="505.5" r="6.4" fill-opacity="0.2"/>
<circle cx="260.3" cy="504.7" r="6.4" fill-opacity="0.2"/>
<circle cx="263.8" cy="505.1" r="6.4" fill-opacity="0.2"/>
<circle cx="266.9" cy="504.8" r="6.4" fill-opacity="0.2"/>
<circle cx="333.6" cy="504.7" r="6.4" fill-opacity="0.2"/>
<circle cx="330.9" cy="505.1" r="6.4" fill-opacity="0.2"/>
<circle cx="327.4" cy="505.2" r="6.4" fill-opacity="0.2"/>
<circle cx="324.6" cy="504.8" r="6.4" fill-opacity="0.2"/>
<circle cx="260.7" cy="506.2" r="6.4" fill-opacity="0.2"/>
<circle cx="264.2" cy="506.0" r="6.4" fill-opacity="0.2"/>
<circle cx="267.1" cy="506.7" r="6.4" fill-opacity="0.2"/>
<circle cx="329.4" cy="506.9" r="6.4" fill-opacity="0.2"/>
<circle cx="327.2" cy="506.2" r="6.4" fill-opacity="0.2"/>
<circle cx="322.4" cy="506.7" r="6.4" fill-opacity="0.2"/>
<circle cx="269.4" cy="509.2" r="6.4" fill-opacity="0.2"/>
<circle cx="273.4" cy="508.8" r="6.4" fill-opacity="0.2"/>
<circle cx="276.8" cy="509.6" r="6.4" fill-opacity="0.2"/>
<circle cx="322.0" cy="508.7" r="6.4" fill-opacity="0.2"/>
<circle cx="320.0" cy="509.3" r="6.4" fill-opacity="0.2"/>
<circle cx="316.8" cy="509.6" r="6.4" fill-opacity="0.2"/>
<circle cx="313.9" cy="509.3" r="6.4" fill-opacity="0.2"/>
<circle cx="275.4" cy="510.4" r="6.4" fill-opacity="0.2"/>
<circle cx="277.6" cy="510.5" r="6.4" fill-opacity="0.2"/>
<circle cx="281.2" cy="510.9" r="6.4" fill-opacity="0.2"/>
<circle cx="315.1" cy="510.6" r="6.4" fill-opacity="0.2"/>
<circle cx="311.7" cy="511.0" r="6.4" fill-opacity="0.2"/>
<circle cx="309.5" cy="510.4" r="6.4" fill-opacity="0.2"/>
<circle cx="273.3" cy="512.2" r="6.4" fill-opacity="0.2"/>
<circle cx="275.5" cy="512.2" r="6.4" fill-opacity="0.2"/>
<circle cx="279.1" cy="512.5" r="6.4" fill-opacity="0.2"/>
<circle cx="281.8" cy="512.6" r="6.4" fill-opacity="0.2"/>
<circle cx="314.2" cy="511.9" r="6.4" fill-opacity="0.2"/>
<circle cx="310.5" cy="512.6" r="6.4" fill-opacity="0.2"/>
<circle cx="307.3" cy="512.6" r="6.4" fill-opacity="0.2"/>
<circle cx="277.0" cy="514.7" r="6.4" fill-opacity="0.2"/>
<circle cx="280.7" cy="514.1" r="6.4" fill-opacity="0.2"/>
<circle cx="282.7" cy="514.1" r="6.4" fill-opacity="0.2"/>
<circle cx="313.1" cy="513.8" r="6.4" fill-opacity="0.2"/>
<circle cx="309.9" cy="514.6" r="6.4" fill-opacity="0.2"/>
<circle cx="307.5" cy="514.0" r="6.4" fill-opacity="0.2"/>
<circle cx="276.6" cy="516.4" r="6.4" fill-opacity="0.2"/>
<circle cx="281.0" cy="517.3" r="6.4" fill-opacity="0.2"/>
<circle cx="284.0" cy="517.2" r="6.4" fill-opacity="0.2"/>
<circle cx="313.7" cy="516.5" r="6.4" fill-opacity="0.2"/>
<circle cx="310.6" cy="517.2" r="6.4" fill-opacity="0.2"/>
<circle cx="306.2" cy="517.1" r="6.4" fill-opacity="0.2"/>
<circle cx="277.7" cy="518.3" r="6.4" fill-opacity="0.2"/>
<circle cx="280.2" cy="517.6" r="6.4" fill-opacity="0.2"/>
<circle cx="283.3" cy="517.7" r="6.4" fill-opacity="0.2"/>
<circle cx="315.3" cy="517.8" r="6.4" fill-opacity="0.2"/>
<circle cx="312.9" cy="517.8" r="6.4" fill-opacity="0.2"/>
<circle cx="309.7" cy="518.3" r="6.4" fill-opacity="0.2"/>
<circle cx="307.1" cy="518.0" r="6.4" fill-opacity="0.2"/>
<circle cx="278.0" cy="520.8" r="6.4" fill-opacity="0.2"/>
<circle cx="281.4" cy="520.4" r="6.4" fill-opacity="0.2"/>
<circle cx="285.1" cy="520.6" r="6.4" fill-opacity="0.2"/>
<circle cx="311.1" cy="520.2" r="6.4" fill-opacity="0.2"/>
<circle cx="308.1" cy="520.4" r="6.4" fill-opacity="0.2"/>
<circle cx="305.3" cy="520.1" r="6.4" fill-opacity="0.2"/>
<circle cx="280.0" cy="523.0" r="6.4" fill-opacity="0.2"/>
<circle cx="283.6" cy="522.3" r="6.4" fill-opacity="0.2"/>
<circle cx="285.8" cy="522.8" r="6.4" fill-opacity="0.2"/>
<circle cx="311.3" cy="522.7" r="6.4" fill-opacity="0.2"/>
<circle cx="307.8" cy="522.9" r="6.4" fill-opacity="0.2"/>
<circle cx="304.1" cy="522.7" r="6.4" fill-opacity="0.2"/>
<circle cx="278.6" cy="525.2" r="6.4" fill-opacity="0.2"/>
<circle cx="280.9" cy="524.8" r="6.4" fill-opacity="0.2"/>
<circle cx="284.1" cy="524.8" r="6.4" fill-opacity="0.2"/>
<circle cx="287.8" cy="525.2" r="6.4" fill-opacity="0.2"/>
<circle cx="309.2" cy="525.4" r="6.4" fill-opacity="0.2"/>
<circle cx="305.0" cy="525.1" r="6.4" fill-opacity="0.2"/>
<circle cx="303.1" cy="525.2" r="6.4" fill-opacity="0.2"/>
<circle cx="282.4" cy="527.2" r="6.4" fill-opacity="0.2"/>
<circle cx="284.9" cy="526.6" r="6.4" fill-opacity="0.2"/>
<circle cx="289.6" cy="526.7" r="6.4" fill-opacity="0.2"/>
<circle cx="309.5" cy="527.5" r="6.4" fill-opacity="0.2"/>
<circle cx="307.0" cy="527.0" r="6.4" fill-opacity="0.2"/>
<circle cx="305.1" cy="527.0" r="6.4" fill-opacity="0.2"/>
<circle cx="300.8" cy="526.9" r="6.4" fill-opacity="0.2"/>
<circle cx="281.1" cy="528.5" r="6.4" fill-opacity="0.2"/>
<circle cx="284.5" cy="529.0" r="6.4" fill-opacity="0.2"/>
<circle cx="286.1" cy="528.6" r="6.4" fill-opacity="0.2"/>
<circle cx="290.9" cy="529.0" r="6.4" fill-opacity="0.2"/>
<circle cx="306.2" cy="528.3" r="6.4" fill-opacity="0.2"/>
<circle cx="304.0" cy="528.8" r="6.4" fill-opacity="0.2"/>
<circle cx="299.7" cy="528.4" r="6.4" fill-opacity="0.2"/>
<circle cx="284.2" cy="531.0" r="6.4" fill-opacity="0.2"/>
<circle cx="288.6" cy="530.9" r="6.4" fill-opacity="0.2"/>
<circle cx="290.3" cy="530.3" r="6.4" fill-opacity="0.2"/>
<circle cx="306.3" cy="530.8" r="6.4" fill-opacity="0.2"/>
<circle cx="301.7" cy="530.5" r="6.4" fill-opacity="0.2"/>
<circle cx="299.7" cy="530.6" r="6.4" fill-opacity="0.2"/>
<circle cx="285.5" cy="531.9" r="6.4" fill-opacity="0.2"/>
<circle cx="288.8" cy="531.7" r="6.4" fill-opacity="0.2"/>
<circle cx="292.0" cy="531.7" r="6.4" fill-opacity="0.2"/>
<circle cx="304.2" cy="532.0" r="6.4" fill-opacity="0.2"/>
<circle cx="301.3" cy="532.1" r="6.4" fill-opacity="0.2"/>
<circle cx="298.2" cy="532.5" r="6.4" fill-opacity="0.2"/>
<circle cx="286.3" cy="534.8" r="6.4" fill-opacity="0.2"/>
<circle cx="289.6" cy="533.9" r="6.4" fill-opacity="0.2"/>
<circle cx="291.9" cy="534.0" r="6.4" fill-opacity="0.2"/>
<circle cx="304.7" cy="534.0" r="6.4" fill-opacity="0.2"/>
<circle cx="300.5" cy="534.4" r="6.4" fill-opacity="0.2"/>
<circle cx="298.3" cy="534.6" r="6.4" fill-opacity="0.2"/>
<circle cx="286.4" cy="536.3" r="6.4" fill-opacity="0.2"/>
<circle cx="289.4" cy="537.0" r="6.4" fill-opacity="0.2"/>
<circle cx="293.8" cy="536.8" r="6.4" fill-opacity="0.2"/>
<circle cx="303.5" cy="536.2" r="6.4" fill-opacity="0.2"/>
<circle cx="299.3" cy="536.4" r="6.4" fill-opacity="0.2"/>
<circle cx="296.1" cy="536.6" r="6.4" fill-opacity="0.2"/>
<circle cx="287.1" cy="538.9" r="6.4" fill-opacity="0.2"/>
<circle cx="291.1" cy="538.6" r="6.4" fill-opacity="0.2"/>
<circle cx="293.4" cy="539.1" r="6.4" fill-opacity="0.2"/>
<circle cx="303.2" cy="538.5" r="6.4" fill-opacity="0.2"/>
<circle cx="299.4" cy="538.9" r="6.4" fill-opacity="0.2"/>
<circle cx="296.4" cy="538.5" r="6.4" fill-opacity="0.2"/>
<circle cx="289.0" cy="540.5" r="6.4" fill-opacity="0.2"/>
<circle cx="291.6" cy="540.4" r="6.4" fill-opacity="0.2"/>
<circle cx="303.3" cy="540.7" r="6.4" fill-opacity="0.2"/>
<circle cx="301.0" cy="541.0" r="6.4" fill-opacity="0.2"/>
<circle cx="298.6" cy="541.1" r="6.4" fill-opacity="0.2"/>
<circle cx="289.3" cy="542.6" r="6.4" fill-opacity="0.2"/>
<circle cx="292.3" cy="543.0" r="6.4" fill-opacity="0.2"/>
<circle cx="301.4" cy="542.7" r="6.4" fill-opacity="0.2"/>
<circle cx="297.2" cy="542.5" r="6.4" fill-opacity="0.2"/>
<circle cx="287.1" cy="544.7" r="6.4" fill-opacity="0.2"/>
<circle cx="290.3" cy="545.2" r="6.4" fill-opacity="0.2"/>
<circle cx="293.1" cy="545.0" r="6.4" fill-opacity="0.2"/>
<circle cx="300.2" cy="544.9" r="6.4" fill-opacity="0.2"/>
<circle cx="296.4" cy="545.3" r="6.4" fill-opacity="0.2"/>
<circle cx="289.0" cy="546.0" r="6.4" fill-opacity="0.2"/>
<circle cx="290.5" cy="546.3" r="6.4" fill-opacity="0.2"/>
<circle cx="293.9" cy="546.3" r="6.4" fill-opacity="0.2"/>
<circle cx="302.2" cy="546.6" r="6.4" fill-opacity="0.2"/>
<circle cx="298.2" cy="546.5" r="6.4" fill-opacity="0.2"/>
<circle cx="295.8" cy="545.9" r="6.4" fill-opacity="0.2"/>
<circle cx="292.7" cy="548.6" r="6.4" fill-opacity="0.2"/>
<circle cx="298.1" cy="548.2" r="6.4" fill-opacity="0.2"/>
<circle cx="292.6" cy="551.2" r="6.4" fill-opacity="0.2"/>
<circle cx="300.4" cy="551.0" r="6.4" fill-opacity="0.2"/>
<circle cx="298.0" cy="551.0" r="6.4" fill-opacity="0.2"/>
<circle cx="293.9" cy="552.8" r="6.4" fill-opacity="0.2"/>
<circle cx="299.9" cy="551.8" r="6.4" fill-opacity="0.2"/>
<circle cx="295.8" cy="552.1" r="6.4" fill-opacity="0.2"/>
<circle cx="294.6" cy="554.9" r="6.4" fill-opacity="0.2"/>
<circle cx="295.2" cy="555.2" r="6.4" fill-opacity="0.2"/>
<circle cx="296.2" cy="556.5" r="6.4" fill-opacity="0.2"/>
<circle cx="293.8" cy="560.6" r="6.4" fill-opacity="0.2"/>
<circle cx="294.0" cy="564.4" r="6.4" fill-opacity="0.2"/>
<circle cx="294.8" cy="568.8" r="6.4" fill-opacity="0.2"/>
<circle cx="295.7" cy="573.2" r="6.4" fill-opacity="0.2"/>
<circle cx="295.6" cy="576.4" r="6.4" fill-opacity="0.2"/>
<circle cx="294.4" cy="580.1" r="6.4" fill-opacity="0.2"/>
<circle cx="294.5" cy="584.9" r="6.4" fill-opacity="0.2"/>
<circle cx="295.3" cy="316.1" r="6.4" fill-opacity="0.16"/>
<circle cx="295.3" cy="602.0" r="6.4" fill-opacity="0.16"/>
<circle cx="295.3" cy="631.0" r="6.4" fill-opacity="0.16"/>
<circle cx="295.3" cy="654.8" r="6.4" fill-opacity="0.3"/>
<circle cx="295.3" cy="658.0" r="6.4" fill-opacity="0.16"/>
<path d="M464.1 444.2 L467.1 444.7 L467.1 445.2 L467.1 445.7 L467.1 446.2 L467.1 446.7 L467.1 447.2 L467.1 447.7 L467.1 448.2 L467.1 448.7 L467.1 449.2 L467.1 449.7 L467.1 450.2 L467.1 450.7 L467.1 451.2 L467.1 451.7 L467.1 452.2 L467.1 452.7 L467.1 453.2 L467.1 453.7 L467.1 454.2 L471.2 454.7 L479.1 455.2 L479.1 455.7 L479.1 456.2 L479.1 456.7 L479.1 457.2 L479.1 457.7 L479.1 458.2 L479.1 458.7 L479.1 459.2 L479.1 459.7 L479.1 460.2 L479.1 460.7 L479.1 461.2 L479.1 461.7 L479.1 462.2 L479.1 462.7 L479.1 463.2 L479.1 463.7 L479.1 464.2 L479.1 464.7 L479.1 465.2 L479.1 465.7 L479.1 466.2 L479.1 466.7 L490.4 467.2 L495.9 467.7 L495.9 468.2 L495.9 468.7 L495.9 469.2 L495.9 469.7 L495.9 470.2 L495.9 470.7 L495.9 471.2 L495.9 471.7 L495.9 472.2 L495.9 472.7 L495.9 473.2 L495.9 473.7 L495.9 474.2 L495.9 474.7 L495.9 475.2 L495.9 475.7 L495.9 476.2 L495.9 476.7 L495.9 477.2 L495.9 477.7 L495.9 478.2 L495.9 478.7 L495.9 479.2 L495.9 479.7 L501.5 480.2 L504.1 480.7 L504.1 481.2 L504.1 481.7 L504.1 482.2 L504.1 482.7 L504.1 483.2 L504.1 483.7 L504.1 484.2 L504.1 484.7 L504.1 485.2 L504.1 485.7 L504.1 486.2 L504.1 486.7 L504.1 487.2 L504.1 487.7 L504.1 488.2 L504.1 488.7 L504.1 489.2 L504.1 489.7 L504.1 490.2 L504.1 490.7 L504.1 491.2 L496.4 491.7 L495.7 492.2 L495.7 492.7 L495.6 493.2 L495.6 493.7 L495.5 494.2 L495.5 494.7 L495.4 495.2 L495.4 495.7 L495.4 496.2 L495.3 496.7 L495.3 497.2 L495.2 497.7 L495.2 498.2 L495.1 498.7 L495.1 499.2 L495.1 499.7 L487.5 500.2 L486.9 500.7 L486.8 501.2 L486.7 501.7 L486.6 502.2 L486.4 502.7 L486.3 503.2 L486.2 503.7 L486.0 504.2 L485.9 504.7 L485.8 505.2 L485.7 505.7 L485.5 506.2 L485.4 506.7 L485.3 507.2 L485.2 507.7 L484.3 508.2 L479.3 508.7 L478.9 509.2 L478.7 509.7 L478.6 510.2 L478.4 510.7 L478.3 511.2 L478.1 511.7 L478.0 512.2 L477.8 512.7 L477.6 513.2 L477.5 513.7 L477.3 514.2 L477.2 514.7 L477.0 515.2 L476.8 515.7 L476.7 516.2 L476.5 516.7 L476.4 517.2 L476.2 517.7 L476.1 518.2 L473.4 518.7 L473.1 519.2 L473.0 519.7 L472.9 520.2 L472.8 520.7 L472.7 521.2 L472.6 521.7 L472.5 522.2 L472.3 522.7 L472.2 523.2 L472.1 523.7 L472.0 524.2 L471.9 524.7 L471.8 525.2 L471.7 525.7 L471.5 526.2 L471.4 526.7 L471.3 527.2 L471.2 527.7 L471.1 528.2 L463.6 528.7 L462.9 529.2 L462.8 529.7 L462.7 530.2 L462.7 530.7 L462.6 531.2 L462.5 531.7 L462.4 532.2 L462.4 532.7 L462.3 533.2 L462.2 533.7 L462.2 534.2 L462.1 534.7 L462.0 535.2 L461.9 535.7 L461.9 536.2 L461.7 536.2 L461.7 535.7 L461.6 535.2 L461.5 534.7 L461.4 534.2 L461.4 533.7 L461.3 533.2 L461.2 532.7 L461.2 532.2 L461.1 531.7 L461.0 531.2 L460.9 530.7 L460.9 530.2 L460.8 529.7 L460.7 529.2 L460.0 528.7 L452.5 528.2 L452.4 527.7 L452.3 527.2 L452.2 526.7 L452.1 526.2 L451.9 525.7 L451.8 525.2 L451.7 524.7 L451.6 524.2 L451.5 523.7 L451.4 523.2 L451.3 522.7 L451.1 522.2 L451.0 521.7 L450.9 521.2 L450.8 520.7 L450.7 520.2 L450.6 519.7 L450.5 519.2 L450.2 518.7 L447.5 518.2 L447.4 517.7 L447.2 517.2 L447.1 516.7 L446.9 516.2 L446.8 515.7 L446.6 515.2 L446.4 514.7 L446.3 514.2 L446.1 513.7 L446.0 513.2 L445.8 512.7 L445.6 512.2 L445.5 511.7 L445.3 511.2 L445.2 510.7 L445.0 510.2 L444.9 509.7 L444.7 509.2 L444.3 508.7 L439.3 508.2 L438.4 507.7 L438.3 507.2 L438.2 506.7 L438.1 506.2 L437.9 505.7 L437.8 505.2 L437.7 504.7 L437.6 504.2 L437.4 503.7 L437.3 503.2 L437.2 502.7 L437.0 502.2 L436.9 501.7 L436.8 501.2 L436.7 500.7 L436.1 500.2 L428.5 499.7 L428.5 499.2 L428.5 498.7 L428.4 498.2 L428.4 497.7 L428.3 497.2 L428.3 496.7 L428.2 496.2 L428.2 495.7 L428.2 495.2 L428.1 494.7 L428.1 494.2 L428.0 493.7 L428.0 493.2 L427.9 492.7 L427.9 492.2 L427.2 491.7 L419.5 491.2 L419.5 490.7 L419.5 490.2 L419.5 489.7 L419.5 489.2 L419.5 488.7 L419.5 488.2 L419.5 487.7 L419.5 487.2 L419.5 486.7 L419.5 486.2 L419.5 485.7 L419.5 485.2 L419.5 484.7 L419.5 484.2 L419.5 483.7 L419.5 483.2 L419.5 482.7 L419.5 482.2 L419.5 481.7 L419.5 481.2 L419.5 480.7 L422.1 480.2 L427.8 479.7 L427.8 479.2 L427.8 478.7 L427.8 478.2 L427.8 477.7 L427.8 477.2 L427.8 476.7 L427.8 476.2 L427.8 475.7 L427.8 475.2 L427.8 474.7 L427.8 474.2 L427.8 473.7 L427.8 473.2 L427.8 472.7 L427.8 472.2 L427.8 471.7 L427.8 471.2 L427.8 470.7 L427.8 470.2 L427.8 469.7 L427.8 469.2 L427.8 468.7 L427.8 468.2 L427.8 467.7 L433.2 467.2 L444.6 466.7 L444.6 466.2 L444.6 465.7 L444.6 465.2 L444.6 464.7 L444.6 464.2 L444.6 463.7 L444.6 463.2 L444.6 462.7 L444.6 462.2 L444.6 461.7 L444.6 461.2 L444.6 460.7 L444.6 460.2 L444.6 459.7 L444.6 459.2 L444.6 458.7 L444.6 458.2 L444.6 457.7 L444.6 457.2 L444.6 456.7 L444.6 456.2 L444.6 455.7 L444.6 455.2 L452.4 454.7 L456.6 454.2 L456.6 453.7 L456.6 453.2 L456.6 452.7 L456.6 452.2 L456.6 451.7 L456.6 451.2 L456.6 450.7 L456.6 450.2 L456.6 449.7 L456.6 449.2 L456.6 448.7 L456.6 448.2 L456.6 447.7 L456.6 447.2 L456.6 446.7 L456.6 446.2 L456.6 445.7 L456.6 445.2 L456.6 444.7 L459.5 444.2Z" fill="#030303" filter="url(#blur2)"/>
<rect x="455.6" y="399.6" width="12.4" height="12.4" fill-opacity="0.22"/>
<rect x="454.4" y="403.5" width="12.4" height="12.4" fill-opacity="0.22"/>
<rect x="457.0" y="407.5" width="12.4" height="12.4" fill-opacity="0.22"/>
<rect x="454.1" y="411.6" width="12.4" height="12.4" fill-opacity="0.22"/>
<rect x="454.5" y="414.9" width="12.4" height="12.4" fill-opacity="0.22"/>
<rect x="456.2" y="419.0" width="12.4" height="12.4" fill-opacity="0.22"/>
<rect x="455.7" y="423.8" width="12.4" height="12.4" fill-opacity="0.22"/>
<rect x="450.7" y="426.2" width="12.4" height="12.4" fill-opacity="0.22"/>
<rect x="454.4" y="426.2" width="12.4" height="12.4" fill-opacity="0.22"/>
<rect x="458.6" y="425.6" width="12.4" height="12.4" fill-opacity="0.22"/>
<rect x="453.3" y="427.6" width="12.4" height="12.4" fill-opacity="0.22"/>
<rect x="457.1" y="427.7" width="12.4" height="12.4" fill-opacity="0.22"/>
<rect x="452.7" y="429.3" width="12.4" height="12.4" fill-opacity="0.22"/>
<rect x="458.4" y="429.8" width="12.4" height="12.4" fill-opacity="0.22"/>
<rect x="452.7" y="431.8" width="12.4" height="12.4" fill-opacity="0.22"/>
<rect x="456.9" y="431.7" width="12.4" height="12.4" fill-opacity="0.22"/>
<rect x="453.3" y="433.6" width="12.4" height="12.4" fill-opacity="0.22"/>
<rect x="457.3" y="433.0" width="12.4" height="12.4" fill-opacity="0.22"/>
<rect x="452.7" y="435.6" width="12.4" height="12.4" fill-opacity="0.22"/>
<rect x="460.0" y="435.5" width="12.4" height="12.4" fill-opacity="0.22"/>
<rect x="457.0" y="435.4" width="12.4" height="12.4" fill-opacity="0.22"/>
<rect x="453.4" y="438.0" width="12.4" height="12.4" fill-opacity="0.22"/>
<rect x="460.6" y="437.9" width="12.4" height="12.4" fill-opacity="0.22"/>
<rect x="458.0" y="438.4" width="12.4" height="12.4" fill-opacity="0.22"/>
<rect x="444.6" y="440.0" width="12.4" height="12.4" fill-opacity="0.22"/>
<rect x="445.8" y="439.9" width="12.4" height="12.4" fill-opacity="0.22"/>
<rect x="449.3" y="439.6" width="12.4" height="12.4" fill-opacity="0.22"/>
<rect x="453.6" y="440.3" width="12.4" height="12.4" fill-opacity="0.22"/>
<rect x="464.4" y="440.1" width="12.4" height="12.4" fill-opacity="0.22"/>
<rect x="461.6" y="440.1" width="12.4" height="12.4" fill-opacity="0.22"/>
<rect x="458.3" y="440.0" width="12.4" height="12.4" fill-opacity="0.22"/>
<rect x="446.3" y="442.5" width="12.4" height="12.4" fill-opacity="0.22"/>
<rect x="450.7" y="441.8" width="12.4" height="12.4" fill-opacity="0.22"/>
<rect x="453.4" y="442.1" width="12.4" height="12.4" fill-opacity="0.22"/>
<rect x="465.3" y="441.7" width="12.4" height="12.4" fill-opacity="0.22"/>
<rect x="461.0" y="441.6" width="12.4" height="12.4" fill-opacity="0.22"/>
<rect x="457.5" y="442.1" width="12.4" height="12.4" fill-opacity="0.22"/>
<rect x="446.2" y="442.5" width="12.4" height="12.4" fill-opacity="0.22"/>
<rect x="449.4" y="442.6" width="12.4" height="12.4" fill-opacity="0.22"/>
<rect x="453.1" y="442.6" width="12.4" height="12.4" fill-opacity="0.22"/>
<rect x="467.3" y="443.3" width="12.4" height="12.4" fill-opacity="0.22"/>
<rect x="463.8" y="442.6" width="12.4" height="12.4" fill-opacity="0.22"/>
<rect x="461.3" y="443.4" width="12.4" height="12.4" fill-opacity="0.22"/>
<rect x="457.9" y="443.3" width="12.4" height="12.4" fill-opacity="0.22"/>
<rect x="446.2" y="445.2" width="12.4" height="12.4" fill-opacity="0.22"/>
<rect x="449.9" y="445.1" width="12.4" height="12.4" fill-opacity="0.22"/>
<rect x="453.1" y="446.0" width="12.4" height="12.4" fill-opacity="0.22"/>
<rect x="466.5" y="445.6" width="12.4" height="12.4" fill-opacity="0.22"/>
<rect x="465.3" y="445.6" width="12.4" height="12.4" fill-opacity="0.22"/>
<rect x="462.1" y="445.3" width="12.4" height="12.4" fill-opacity="0.22"/>
<rect x="459.0" y="445.2" width="12.4" height="12.4" fill-opacity="0.22"/>
<rect x="443.4" y="447.3" width="12.4" height="12.4" fill-opacity="0.22"/>
<rect x="447.0" y="448.2" width="12.4" height="12.4" fill-opacity="0.22"/>
<rect x="449.4" y="447.8" width="12.4" height="12.4" fill-opacity="0.22"/>
<rect x="453.3" y="448.2" width="12.4" height="12.4" fill-opacity="0.22"/>
<rect x="466.6" y="447.4" width="12.4" height="12.4" fill-opacity="0.22"/>
<rect x="464.8" y="448.2" width="12.4" height="12.4" fill-opacity="0.22"/>
<rect x="460.6" y="448.1" width="12.4" height="12.4" fill-opacity="0.22"/>
<rect x="458.6" y="447.5" width="12.4" height="12.4" fill-opacity="0.22"/>
<rect x="435.5" y="449.9" width="12.4" height="12.4" fill-opacity="0.22"/>
<rect x="438.6" y="449.1" width="12.4" height="12.4" fill-opacity="0.22"/>
<rect x="440.7" y="449.5" width="12.4" height="12.4" fill-opacity="0.22"/>
<rect x="476.8" y="449.1" width="12.4" height="12.4" fill-opacity="0.22"/>
<rect x="473.2" y="450.0" width="12.4" height="12.4" fill-opacity="0.22"/>
<rect x="469.8" y="449.2" width="12.4" height="12.4" fill-opacity="0.22"/>
<rect x="432.2" y="452.4" width="12.4" height="12.4" fill-opacity="0.22"/>
<rect x="434.1" y="451.6" width="12.4" height="12.4" fill-opacity="0.22"/>
<rect x="438.6" y="451.9" width="12.4" height="12.4" fill-opacity="0.22"/>
<rect x="440.8" y="452.2" width="12.4" height="12.4" fill-opacity="0.22"/>
<rect x="479.1" y="451.9" width="12.4" height="12.4" fill-opacity="0.22"/>
<rect x="476.1" y="452.1" width="12.4" height="12.4" fill-opacity="0.22"/>
<rect x="473.4" y="451.9" width="12.4" height="12.4" fill-opacity="0.22"/>
<rect x="470.6" y="451.7" width="12.4" height="12.4" fill-opacity="0.22"/>
<rect x="435.0" y="453.1" width="12.4" height="12.4" fill-opacity="0.22"/>
<rect x="438.8" y="453.9" width="12.4" height="12.4" fill-opacity="0.22"/>
<rect x="440.5" y="453.8" width="12.4" height="12.4" fill-opacity="0.22"/>
<rect x="478.8" y="454.0" width="12.4" height="12.4" fill-opacity="0.22"/>
<rect x="476.6" y="453.5" width="12.4" height="12.4" fill-opacity="0.22"/>
<rect x="474.1" y="454.1" width="12.4" height="12.4" fill-opacity="0.22"/>
<rect x="469.7" y="453.8" width="12.4" height="12.4" fill-opacity="0.22"/>
<rect x="434.0" y="456.1" width="12.4" height="12.4" fill-opacity="0.22"/>
<rect x="438.7" y="455.7" width="12.4" height="12.4" fill-opacity="0.22"/>
<rect x="441.6" y="456.0" width="12.4" height="12.4" fill-opacity="0.22"/>
<rect x="477.3" y="455.6" width="12.4" height="12.4" fill-opacity="0.22"/>
<rect x="472.6" y="455.4" width="12.4" height="12.4" fill-opacity="0.22"/>
<rect x="469.6" y="456.2" width="12.4" height="12.4" fill-opacity="0.22"/>
<rect x="431.9" y="457.8" width="12.4" height="12.4" fill-opacity="0.22"/>
<rect x="435.0" y="457.1" width="12.4" height="12.4" fill-opacity="0.22"/>
<rect x="437.5" y="457.7" width="12.4" height="12.4" fill-opacity="0.22"/>
<rect x="441.9" y="457.6" width="12.4" height="12.4" fill-opacity="0.22"/>
<rect x="479.0" y="457.8" width="12.4" height="12.4" fill-opacity="0.22"/>
<rect x="476.7" y="457.4" width="12.4" height="12.4" fill-opacity="0.22"/>
<rect x="473.8" y="457.4" width="12.4" height="12.4" fill-opacity="0.22"/>
<rect x="470.4" y="457.4" width="12.4" height="12.4" fill-opacity="0.22"/>
<rect x="434.5" y="460.0" width="12.4" height="12.4" fill-opacity="0.22"/>
<rect x="437.3" y="460.1" width="12.4" height="12.4" fill-opacity="0.22"/>
<rect x="441.6" y="460.1" width="12.4" height="12.4" fill-opacity="0.22"/>
<rect x="475.9" y="459.1" width="12.4" height="12.4" fill-opacity="0.22"/>
<rect x="472.8" y="459.6" width="12.4" height="12.4" fill-opacity="0.22"/>
<rect x="470.3" y="460.0" width="12.4" height="12.4" fill-opacity="0.22"/>
<rect x="417.2" y="462.2" width="12.4" height="12.4" fill-opacity="0.22"/>
<rect x="420.2" y="462.1" width="12.4" height="12.4" fill-opacity="0.22"/>
<rect x="424.9" y="462.0" width="12.4" height="12.4" fill-opacity="0.22"/>
<rect x="493.6" y="461.7" width="12.4" height="12.4" fill-opacity="0.22"/>
<rect x="490.9" y="461.7" width="12.4" height="12.4" fill-opacity="0.22"/>
<rect x="486.8" y="461.5" width="12.4" height="12.4" fill-opacity="0.22"/>
<rect x="417.1" y="463.7" width="12.4" height="12.4" fill-opacity="0.22"/>
<rect x="421.4" y="464.4" width="12.4" height="12.4" fill-opacity="0.22"/>
<rect x="423.6" y="463.6" width="12.4" height="12.4" fill-opacity="0.22"/>
<rect x="492.5" y="464.3" width="12.4" height="12.4" fill-opacity="0.22"/>
<rect x="490.7" y="464.4" width="12.4" height="12.4" fill-opacity="0.22"/>
<rect x="487.5" y="463.9" width="12.4" height="12.4" fill-opacity="0.22"/>
<rect x="418.0" y="465.8" width="12.4" height="12.4" fill-opacity="0.22"/>
<rect x="421.2" y="465.3" width="12.4" height="12.4" fill-opacity="0.22"/>
<rect x="423.4" y="465.1" width="12.4" height="12.4" fill-opacity="0.22"/>
<rect x="495.2" y="465.7" width="12.4" height="12.4" fill-opacity="0.22"/>
<rect x="493.3" y="465.3" width="12.4" height="12.4" fill-opacity="0.22"/>
<rect x="490.8" y="465.7" width="12.4" height="12.4" fill-opacity="0.22"/>
<rect x="486.4" y="464.9" width="12.4" height="12.4" fill-opacity="0.22"/>
<rect x="417.8" y="468.2" width="12.4" height="12.4" fill-opacity="0.22"/>
<rect x="422.0" y="467.9" width="12.4" height="12.4" fill-opacity="0.22"/>
<rect x="425.1" y="467.6" width="12.4" height="12.4" fill-opacity="0.22"/>
<rect x="496.1" y="468.0" width="12.4" height="12.4" fill-opacity="0.22"/>
<rect x="493.2" y="468.1" width="12.4" height="12.4" fill-opacity="0.22"/>
<rect x="489.3" y="467.7" width="12.4" height="12.4" fill-opacity="0.22"/>
<rect x="486.3" y="467.9" width="12.4" height="12.4" fill-opacity="0.22"/>
<rect x="414.5" y="469.7" width="12.4" height="12.4" fill-opacity="0.22"/>
<rect x="418.4" y="469.6" width="12.4" height="12.4" fill-opacity="0.22"/>
<rect x="420.6" y="469.3" width="12.4" height="12.4" fill-opacity="0.22"/>
<rect x="424.4" y="469.6" width="12.4" height="12.4" fill-opacity="0.22"/>
<rect x="493.1" y="469.4" width="12.4" height="12.4" fill-opacity="0.22"/>
<rect x="489.5" y="470.3" width="12.4" height="12.4" fill-opacity="0.22"/>
<rect x="487.0" y="470.2" width="12.4" height="12.4" fill-opacity="0.22"/>
<rect x="417.2" y="471.9" width="12.4" height="12.4" fill-opacity="0.22"/>
<rect x="421.5" y="472.3" width="12.4" height="12.4" fill-opacity="0.22"/>
<rect x="424.6" y="471.8" width="12.4" height="12.4" fill-opacity="0.22"/>
<rect x="493.1" y="472.5" width="12.4" height="12.4" fill-opacity="0.22"/>
<rect x="490.8" y="472.2" width="12.4" height="12.4" fill-opacity="0.22"/>
<rect x="487.6" y="471.8" width="12.4" height="12.4" fill-opacity="0.22"/>
<rect x="415.0" y="472.7" width="12.4" height="12.4" fill-opacity="0.22"/>
<rect x="418.6" y="472.9" width="12.4" height="12.4" fill-opacity="0.22"/>
<rect x="421.8" y="472.9" width="12.4" height="12.4" fill-opacity="0.22"/>
<rect x="425.0" y="473.0" width="12.4" height="12.4" fill-opacity="0.22"/>
<rect x="493.4" y="473.5" width="12.4" height="12.4" fill-opacity="0.22"/>
<rect x="489.7" y="473.1" width="12.4" height="12.4" fill-opacity="0.22"/>
<rect x="487.6" y="472.7" width="12.4" height="12.4" fill-opacity="0.22"/>
<rect x="407.8" y="475.9" width="12.4" height="12.4" fill-opacity="0.22"/>
<rect x="409.3" y="475.5" width="12.4" height="12.4" fill-opacity="0.22"/>
<rect x="412.3" y="475.9" width="12.4" height="12.4" fill-opacity="0.22"/>
<rect x="415.9" y="475.4" width="12.4" height="12.4" fill-opacity="0.22"/>
<rect x="505.1" y="475.8" width="12.4" height="12.4" fill-opacity="0.22"/>
<rect x="500.9" y="475.4" width="12.4" height="12.4" fill-opacity="0.22"/>
<rect x="497.9" y="475.9" width="12.4" height="12.4" fill-opacity="0.22"/>
<rect x="494.8" y="475.1" width="12.4" height="12.4" fill-opacity="0.22"/>
<rect x="407.6" y="477.5" width="12.4" height="12.4" fill-opacity="0.22"/>
<rect x="410.2" y="477.9" width="12.4" height="12.4" fill-opacity="0.22"/>
<rect x="413.3" y="478.1" width="12.4" height="12.4" fill-opacity="0.22"/>
<rect x="415.3" y="477.6" width="12.4" height="12.4" fill-opacity="0.22"/>
<rect x="504.7" y="478.1" width="12.4" height="12.4" fill-opacity="0.22"/>
<rect x="502.2" y="477.6" width="12.4" height="12.4" fill-opacity="0.22"/>
<rect x="498.7" y="477.7" width="12.4" height="12.4" fill-opacity="0.22"/>
<rect x="494.6" y="477.8" width="12.4" height="12.4" fill-opacity="0.22"/>
<rect x="409.0" y="479.6" width="12.4" height="12.4" fill-opacity="0.22"/>
<rect x="412.9" y="479.6" width="12.4" height="12.4" fill-opacity="0.22"/>
<rect x="416.6" y="480.2" width="12.4" height="12.4" fill-opacity="0.22"/>
<rect x="505.0" y="480.4" width="12.4" height="12.4" fill-opacity="0.22"/>
<rect x="501.4" y="480.0" width="12.4" height="12.4" fill-opacity="0.22"/>
<rect x="499.2" y="480.1" width="12.4" height="12.4" fill-opacity="0.22"/>
<rect x="495.7" y="480.1" width="12.4" height="12.4" fill-opacity="0.22"/>
<rect x="409.3" y="480.8" width="12.4" height="12.4" fill-opacity="0.22"/>
<rect x="413.7" y="480.8" width="12.4" height="12.4" fill-opacity="0.22"/>
<rect x="416.0" y="480.8" width="12.4" height="12.4" fill-opacity="0.22"/>
<rect x="501.3" y="481.1" width="12.4" height="12.4" fill-opacity="0.22"/>
<rect x="499.1" y="480.5" width="12.4" height="12.4" fill-opacity="0.22"/>
<rect x="495.3" y="481.2" width="12.4" height="12.4" fill-opacity="0.22"/>
<rect x="409.1" y="483.1" width="12.4" height="12.4" fill-opacity="0.22"/>
<rect x="413.1" y="482.7" width="12.4" height="12.4" fill-opacity="0.22"/>
<rect x="416.9" y="482.9" width="12.4" height="12.4" fill-opacity="0.22"/>
<rect x="502.1" y="483.1" width="12.4" height="12.4" fill-opacity="0.22"/>
<rect x="498.3" y="482.6" width="12.4" height="12.4" fill-opacity="0.22"/>
<rect x="494.7" y="482.6" width="12.4" height="12.4" fill-opacity="0.22"/>
<rect x="414.8" y="485.5" width="12.4" height="12.4" fill-opacity="0.22"/>
<rect x="417.7" y="485.6" width="12.4" height="12.4" fill-opacity="0.22"/>
<rect x="420.5" y="485.5" width="12.4" height="12.4" fill-opacity="0.22"/>
<rect x="422.9" y="484.9" width="12.4" height="12.4" fill-opacity="0.22"/>
<rect x="493.2" y="484.9" width="12.4" height="12.4" fill-opacity="0.22"/>
<rect x="491.0" y="484.8" width="12.4" height="12.4" fill-opacity="0.22"/>
<rect x="487.6" y="485.7" width="12.4" height="12.4" fill-opacity="0.22"/>
<rect x="418.8" y="487.6" width="12.4" height="12.4" fill-opacity="0.22"/>
<rect x="420.9" y="487.5" width="12.4" height="12.4" fill-opacity="0.22"/>
<rect x="423.8" y="487.4" width="12.4" height="12.4" fill-opacity="0.22"/>
<rect x="492.2" y="487.7" width="12.4" height="12.4" fill-opacity="0.22"/>
<rect x="489.5" y="487.6" width="12.4" height="12.4" fill-opacity="0.22"/>
<rect x="486.6" y="487.0" width="12.4" height="12.4" fill-opacity="0.22"/>
<rect x="418.1" y="489.1" width="12.4" height="12.4" fill-opacity="0.22"/>
<rect x="421.5" y="489.8" width="12.4" height="12.4" fill-opacity="0.22"/>
<rect x="425.6" y="488.9" width="12.4" height="12.4" fill-opacity="0.22"/>
<rect x="493.0" y="489.7" width="12.4" height="12.4" fill-opacity="0.22"/>
<rect x="489.3" y="489.5" width="12.4" height="12.4" fill-opacity="0.22"/>
<rect x="485.8" y="489.1" width="12.4" height="12.4" fill-opacity="0.22"/>
<rect x="418.4" y="491.1" width="12.4" height="12.4" fill-opacity="0.22"/>
<rect x="422.6" y="491.8" width="12.4" height="12.4" fill-opacity="0.22"/>
<rect x="425.2" y="491.2" width="12.4" height="12.4" fill-opacity="0.22"/>
<rect x="496.1" y="491.5" width="12.4" height="12.4" fill-opacity="0.22"/>
<rect x="492.0" y="491.2" width="12.4" height="12.4" fill-opacity="0.22"/>
<rect x="488.7" y="492.0" width="12.4" height="12.4" fill-opacity="0.22"/>
<rect x="486.2" y="491.5" width="12.4" height="12.4" fill-opacity="0.22"/>
<rect x="415.4" y="493.3" width="12.4" height="12.4" fill-opacity="0.22"/>
<rect x="418.8" y="492.7" width="12.4" height="12.4" fill-opacity="0.22"/>
<rect x="421.1" y="492.8" width="12.4" height="12.4" fill-opacity="0.22"/>
<rect x="425.5" y="492.6" width="12.4" height="12.4" fill-opacity="0.22"/>
<rect x="493.1" y="493.0" width="12.4" height="12.4" fill-opacity="0.22"/>
<rect x="489.9" y="492.8" width="12.4" height="12.4" fill-opacity="0.22"/>
<rect x="486.4" y="492.6" width="12.4" height="12.4" fill-opacity="0.22"/>
<rect x="424.7" y="495.7" width="12.4" height="12.4" fill-opacity="0.22"/>
<rect x="427.6" y="495.4" width="12.4" height="12.4" fill-opacity="0.22"/>
<rect x="430.5" y="495.8" width="12.4" height="12.4" fill-opacity="0.22"/>
<rect x="434.0" y="495.3" width="12.4" height="12.4" fill-opacity="0.22"/>
<rect x="483.8" y="495.7" width="12.4" height="12.4" fill-opacity="0.22"/>
<rect x="481.8" y="495.3" width="12.4" height="12.4" fill-opacity="0.22"/>
<rect x="477.8" y="494.9" width="12.4" height="12.4" fill-opacity="0.22"/>
<rect x="427.4" y="497.5" width="12.4" height="12.4" fill-opacity="0.22"/>
<rect x="430.5" y="497.8" width="12.4" height="12.4" fill-opacity="0.22"/>
<rect x="433.1" y="498.3" width="12.4" height="12.4" fill-opacity="0.22"/>
<rect x="483.0" y="497.6" width="12.4" height="12.4" fill-opacity="0.22"/>
<rect x="480.5" y="498.1" width="12.4" height="12.4" fill-opacity="0.22"/>
<rect x="477.9" y="498.2" width="12.4" height="12.4" fill-opacity="0.22"/>
<rect x="428.0" y="499.6" width="12.4" height="12.4" fill-opacity="0.22"/>
<rect x="431.2" y="499.7" width="12.4" height="12.4" fill-opacity="0.22"/>
<rect x="434.4" y="499.3" width="12.4" height="12.4" fill-opacity="0.22"/>
<rect x="486.1" y="499.7" width="12.4" height="12.4" fill-opacity="0.22"/>
<rect x="482.6" y="500.3" width="12.4" height="12.4" fill-opacity="0.22"/>
<rect x="479.0" y="500.2" width="12.4" height="12.4" fill-opacity="0.22"/>
<rect x="477.3" y="499.3" width="12.4" height="12.4" fill-opacity="0.22"/>
<rect x="429.1" y="502.1" width="12.4" height="12.4" fill-opacity="0.22"/>
<rect x="431.0" y="501.5" width="12.4" height="12.4" fill-opacity="0.22"/>
<rect x="435.4" y="501.5" width="12.4" height="12.4" fill-opacity="0.22"/>
<rect x="481.9" y="501.5" width="12.4" height="12.4" fill-opacity="0.22"/>
<rect x="478.7" y="502.3" width="12.4" height="12.4" fill-opacity="0.22"/>
<rect x="475.7" y="502.4" width="12.4" height="12.4" fill-opacity="0.22"/>
<rect x="435.7" y="502.6" width="12.4" height="12.4" fill-opacity="0.22"/>
<rect x="438.8" y="503.0" width="12.4" height="12.4" fill-opacity="0.22"/>
<rect x="441.9" y="502.8" width="12.4" height="12.4" fill-opacity="0.22"/>
<rect x="476.4" y="502.4" width="12.4" height="12.4" fill-opacity="0.22"/>
<rect x="472.6" y="503.0" width="12.4" height="12.4" fill-opacity="0.22"/>
<rect x="469.5" y="502.5" width="12.4" height="12.4" fill-opacity="0.22"/>
<rect x="435.4" y="505.0" width="12.4" height="12.4" fill-opacity="0.22"/>
<rect x="439.3" y="504.6" width="12.4" height="12.4" fill-opacity="0.22"/>
<rect x="442.4" y="505.4" width="12.4" height="12.4" fill-opacity="0.22"/>
<rect x="477.5" y="504.6" width="12.4" height="12.4" fill-opacity="0.22"/>
<rect x="475.7" y="504.5" width="12.4" height="12.4" fill-opacity="0.22"/>
<rect x="472.0" y="504.8" width="12.4" height="12.4" fill-opacity="0.22"/>
<rect x="469.0" y="504.9" width="12.4" height="12.4" fill-opacity="0.22"/>
<rect x="434.2" y="508.2" width="12.4" height="12.4" fill-opacity="0.22"/>
<rect x="436.8" y="507.5" width="12.4" height="12.4" fill-opacity="0.22"/>
<rect x="440.3" y="508.3" width="12.4" height="12.4" fill-opacity="0.22"/>
<rect x="442.4" y="508.0" width="12.4" height="12.4" fill-opacity="0.22"/>
<rect x="478.2" y="507.4" width="12.4" height="12.4" fill-opacity="0.22"/>
<rect x="475.3" y="508.2" width="12.4" height="12.4" fill-opacity="0.22"/>
<rect x="471.7" y="507.6" width="12.4" height="12.4" fill-opacity="0.22"/>
<rect x="469.4" y="507.4" width="12.4" height="12.4" fill-opacity="0.22"/>
<rect x="436.7" y="508.9" width="12.4" height="12.4" fill-opacity="0.22"/>
<rect x="440.5" y="509.1" width="12.4" height="12.4" fill-opacity="0.22"/>
<rect x="442.4" y="509.7" width="12.4" height="12.4" fill-opacity="0.22"/>
<rect x="477.6" y="509.1" width="12.4" height="12.4" fill-opacity="0.22"/>
<rect x="473.8" y="509.1" width="12.4" height="12.4" fill-opacity="0.22"/>
<rect x="470.3" y="509.4" width="12.4" height="12.4" fill-opacity="0.22"/>
<rect x="468.3" y="508.9" width="12.4" height="12.4" fill-opacity="0.22"/>
<rect x="436.7" y="510.5" width="12.4" height="12.4" fill-opacity="0.22"/>
<rect x="439.9" y="511.0" width="12.4" height="12.4" fill-opacity="0.22"/>
<rect x="444.4" y="511.2" width="12.4" height="12.4" fill-opacity="0.22"/>
<rect x="473.4" y="511.0" width="12.4" height="12.4" fill-opacity="0.22"/>
<rect x="470.0" y="511.0" width="12.4" height="12.4" fill-opacity="0.22"/>
<rect x="466.7" y="510.8" width="12.4" height="12.4" fill-opacity="0.22"/>
<rect x="440.4" y="514.2" width="12.4" height="12.4" fill-opacity="0.22"/>
<rect x="443.4" y="513.9" width="12.4" height="12.4" fill-opacity="0.22"/>
<rect x="446.8" y="513.5" width="12.4" height="12.4" fill-opacity="0.22"/>
<rect x="472.7" y="514.1" width="12.4" height="12.4" fill-opacity="0.22"/>
<rect x="471.4" y="513.5" width="12.4" height="12.4" fill-opacity="0.22"/>
<rect x="468.1" y="514.1" width="12.4" height="12.4" fill-opacity="0.22"/>
<rect x="463.5" y="513.9" width="12.4" height="12.4" fill-opacity="0.22"/>
<rect x="441.4" y="515.1" width="12.4" height="12.4" fill-opacity="0.22"/>
<rect x="444.3" y="515.0" width="12.4" height="12.4" fill-opacity="0.22"/>
<rect x="447.1" y="515.3" width="12.4" height="12.4" fill-opacity="0.22"/>
<rect x="472.8" y="515.1" width="12.4" height="12.4" fill-opacity="0.22"/>
<rect x="470.8" y="515.6" width="12.4" height="12.4" fill-opacity="0.22"/>
<rect x="466.0" y="515.5" width="12.4" height="12.4" fill-opacity="0.22"/>
<rect x="463.8" y="515.2" width="12.4" height="12.4" fill-opacity="0.22"/>
<rect x="441.4" y="517.1" width="12.4" height="12.4" fill-opacity="0.22"/>
<rect x="444.0" y="516.6" width="12.4" height="12.4" fill-opacity="0.22"/>
<rect x="448.2" y="516.5" width="12.4" height="12.4" fill-opacity="0.22"/>
<rect x="473.2" y="516.9" width="12.4" height="12.4" fill-opacity="0.22"/>
<rect x="470.1" y="517.4" width="12.4" height="12.4" fill-opacity="0.22"/>
<rect x="466.4" y="517.3" width="12.4" height="12.4" fill-opacity="0.22"/>
<rect x="462.6" y="516.6" width="12.4" height="12.4" fill-opacity="0.22"/>
<rect x="440.1" y="518.7" width="12.4" height="12.4" fill-opacity="0.22"/>
<rect x="442.9" y="518.7" width="12.4" height="12.4" fill-opacity="0.22"/>
<rect x="445.2" y="518.9" width="12.4" height="12.4" fill-opacity="0.22"/>
<rect x="447.6" y="519.2" width="12.4" height="12.4" fill-opacity="0.22"/>
<rect x="469.5" y="519.5" width="12.4" height="12.4" fill-opacity="0.22"/>
<rect x="466.7" y="519.0" width="12.4" height="12.4" fill-opacity="0.22"/>
<rect x="462.2" y="518.7" width="12.4" height="12.4" fill-opacity="0.22"/>
<rect x="439.0" y="522.3" width="12.4" height="12.4" fill-opacity="0.22"/>
<rect x="442.0" y="521.6" width="12.4" height="12.4" fill-opacity="0.22"/>
<rect x="445.0" y="521.6" width="12.4" height="12.4" fill-opacity="0.22"/>
<rect x="448.4" y="521.6" width="12.4" height="12.4" fill-opacity="0.22"/>
<rect x="467.8" y="521.7" width="12.4" height="12.4" fill-opacity="0.22"/>
<rect x="465.4" y="521.7" width="12.4" height="12.4" fill-opacity="0.22"/>
<rect x="461.5" y="521.9" width="12.4" height="12.4" fill-opacity="0.22"/>
<rect x="450.5" y="522.9" width="12.4" height="12.4" fill-opacity="0.22"/>
<rect x="454.0" y="522.7" width="12.4" height="12.4" fill-opacity="0.22"/>
<rect x="460.5" y="523.4" width="12.4" height="12.4" fill-opacity="0.22"/>
<rect x="457.1" y="523.4" width="12.4" height="12.4" fill-opacity="0.22"/>
<rect x="450.8" y="525.0" width="12.4" height="12.4" fill-opacity="0.22"/>
<rect x="453.8" y="525.7" width="12.4" height="12.4" fill-opacity="0.22"/>
<rect x="463.0" y="525.3" width="12.4" height="12.4" fill-opacity="0.22"/>
<rect x="459.4" y="525.1" width="12.4" height="12.4" fill-opacity="0.22"/>
<rect x="456.1" y="525.8" width="12.4" height="12.4" fill-opacity="0.22"/>
<rect x="452.1" y="528.1" width="12.4" height="12.4" fill-opacity="0.22"/>
<rect x="455.1" y="527.9" width="12.4" height="12.4" fill-opacity="0.22"/>
<rect x="463.1" y="527.7" width="12.4" height="12.4" fill-opacity="0.22"/>
<rect x="460.0" y="527.5" width="12.4" height="12.4" fill-opacity="0.22"/>
<rect x="455.9" y="528.1" width="12.4" height="12.4" fill-opacity="0.22"/>
<rect x="452.0" y="529.8" width="12.4" height="12.4" fill-opacity="0.22"/>
<rect x="454.3" y="530.0" width="12.4" height="12.4" fill-opacity="0.22"/>
<rect x="459.3" y="529.7" width="12.4" height="12.4" fill-opacity="0.22"/>
<rect x="456.9" y="529.5" width="12.4" height="12.4" fill-opacity="0.22"/>
<rect x="449.5" y="531.2" width="12.4" height="12.4" fill-opacity="0.22"/>
<rect x="451.4" y="531.9" width="12.4" height="12.4" fill-opacity="0.22"/>
<rect x="459.6" y="531.8" width="12.4" height="12.4" fill-opacity="0.22"/>
<rect x="454.7" y="534.1" width="12.4" height="12.4" fill-opacity="0.22"/>
<rect x="459.6" y="533.5" width="12.4" height="12.4" fill-opacity="0.22"/>
<rect x="456.1" y="534.3" width="12.4" height="12.4" fill-opacity="0.22"/>
<rect x="454.0" y="535.0" width="12.4" height="12.4" fill-opacity="0.22"/>
<rect x="457.3" y="535.0" width="12.4" height="12.4" fill-opacity="0.22"/>
<rect x="454.3" y="537.7" width="12.4" height="12.4" fill-opacity="0.22"/>
<rect x="459.1" y="537.5" width="12.4" height="12.4" fill-opacity="0.22"/>
<rect x="457.4" y="538.0" width="12.4" height="12.4" fill-opacity="0.22"/>
<rect x="451.1" y="540.2" width="12.4" height="12.4" fill-opacity="0.22"/>
<rect x="454.4" y="540.2" width="12.4" height="12.4" fill-opacity="0.22"/>
<rect x="460.0" y="539.8" width="12.4" height="12.4" fill-opacity="0.22"/>
<rect x="456.9" y="540.2" width="12.4" height="12.4" fill-opacity="0.22"/>
<rect x="455.1" y="541.5" width="12.4" height="12.4" fill-opacity="0.22"/>
<rect x="457.4" y="541.1" width="12.4" height="12.4" fill-opacity="0.22"/>
<rect x="453.6" y="544.0" width="12.4" height="12.4" fill-opacity="0.22"/>
<rect x="459.6" y="543.4" width="12.4" height="12.4" fill-opacity="0.22"/>
<rect x="456.8" y="543.4" width="12.4" height="12.4" fill-opacity="0.22"/>
<rect x="455.3" y="545.3" width="12.4" height="12.4" fill-opacity="0.22"/>
<rect x="459.1" y="545.3" width="12.4" height="12.4" fill-opacity="0.22"/>
<rect x="455.9" y="545.3" width="12.4" height="12.4" fill-opacity="0.22"/>
<rect x="455.2" y="547.6" width="12.4" height="12.4" fill-opacity="0.22"/>
<rect x="458.7" y="547.6" width="12.4" height="12.4" fill-opacity="0.22"/>
<rect x="456.1" y="547.7" width="12.4" height="12.4" fill-opacity="0.22"/>
<rect x="453.9" y="549.3" width="12.4" height="12.4" fill-opacity="0.22"/>
<rect x="456.8" y="549.4" width="12.4" height="12.4" fill-opacity="0.22"/>
<rect x="452.2" y="551.5" width="12.4" height="12.4" fill-opacity="0.22"/>
<rect x="454.7" y="551.1" width="12.4" height="12.4" fill-opacity="0.22"/>
<rect x="459.4" y="551.3" width="12.4" height="12.4" fill-opacity="0.22"/>
<rect x="456.7" y="550.6" width="12.4" height="12.4" fill-opacity="0.22"/>
<rect x="455.3" y="552.8" width="12.4" height="12.4" fill-opacity="0.22"/>
<rect x="455.7" y="553.1" width="12.4" height="12.4" fill-opacity="0.22"/>
<rect x="455.1" y="555.2" width="12.4" height="12.4" fill-opacity="0.22"/>
<rect x="456.8" y="555.9" width="12.4" height="12.4" fill-opacity="0.22"/>
<rect x="456.3" y="557.7" width="12.4" height="12.4" fill-opacity="0.22"/>
<rect x="456.8" y="561.0" width="12.4" height="12.4" fill-opacity="0.22"/>
<rect x="456.2" y="565.6" width="12.4" height="12.4" fill-opacity="0.22"/>
<rect x="455.8" y="568.9" width="12.4" height="12.4" fill-opacity="0.22"/>
<rect x="455.6" y="323.8" width="12.4" height="12.4" fill-opacity="0.15"/>
<rect x="455.6" y="367.1" width="12.4" height="12.4" fill-opacity="0.27"/>
<rect x="455.6" y="380.3" width="12.4" height="12.4" fill-opacity="0.15"/>
<rect x="455.6" y="384.8" width="12.4" height="12.4" fill-opacity="0.15"/>
<rect x="455.6" y="388.3" width="12.4" height="12.4" fill-opacity="0.3"/>
<rect x="455.6" y="391.8" width="12.4" height="12.4" fill-opacity="0.2"/>
<rect x="455.6" y="578.9" width="12.4" height="12.4" fill-opacity="0.45"/>
<rect x="455.6" y="584.4" width="12.4" height="12.4" fill-opacity="0.15"/>
<rect x="455.6" y="589.0" width="12.4" height="12.4" fill-opacity="0.35"/>
<rect x="455.6" y="594.8" width="12.4" height="12.4" fill-opacity="0.25"/>
<rect x="455.6" y="602.8" width="12.4" height="12.4" fill-opacity="0.15"/>
<rect x="455.6" y="610.6" width="12.4" height="12.4" fill-opacity="0.15"/>
<path d="M628.6 444.2 L628.9 444.7 L629.1 445.2 L629.4 445.7 L629.7 446.2 L630.0 446.7 L630.2 447.2 L630.5 447.7 L630.8 448.2 L631.1 448.7 L631.4 449.2 L631.6 449.7 L631.9 450.2 L632.2 450.7 L632.5 451.2 L632.8 451.7 L633.0 452.2 L633.3 452.7 L633.6 453.2 L633.9 453.7 L634.2 454.2 L634.5 454.7 L634.7 455.2 L635.0 455.7 L635.3 456.2 L635.6 456.7 L635.9 457.2 L636.1 457.7 L636.4 458.2 L636.7 458.7 L637.1 459.2 L637.5 459.7 L637.8 460.2 L638.2 460.7 L638.6 461.2 L639.0 461.7 L639.3 462.2 L639.7 462.7 L640.1 463.2 L640.4 463.7 L640.8 464.2 L641.1 464.7 L641.4 465.2 L641.6 465.7 L641.9 466.2 L642.2 466.7 L642.5 467.2 L642.8 467.7 L643.0 468.2 L643.3 468.7 L643.6 469.2 L643.9 469.7 L644.1 470.2 L644.4 470.7 L644.7 471.2 L645.0 471.7 L645.3 472.2 L645.6 472.7 L645.8 473.2 L646.1 473.7 L646.4 474.2 L646.7 474.7 L647.2 475.2 L647.8 475.7 L648.5 476.2 L649.2 476.7 L649.9 477.2 L650.5 477.7 L651.2 478.2 L652.3 478.7 L653.5 479.2 L654.7 479.7 L656.0 480.2 L657.2 480.7 L658.4 481.2 L659.6 481.7 L660.8 482.2 L662.1 482.7 L663.2 483.2 L663.6 483.7 L664.0 484.2 L664.4 484.7 L664.8 485.2 L664.9 485.7 L665.1 486.2 L665.2 486.7 L665.3 487.2 L665.5 487.7 L665.6 488.2 L665.7 488.7 L665.8 489.2 L666.0 489.7 L666.1 490.2 L666.2 490.7 L666.4 491.2 L666.5 491.7 L666.6 492.2 L666.7 492.7 L666.6 493.2 L666.6 493.7 L666.5 494.2 L666.4 494.7 L666.4 495.2 L666.3 495.7 L666.2 496.2 L666.2 496.7 L666.1 497.2 L666.0 497.7 L666.0 498.2 L665.9 498.7 L665.8 499.2 L665.8 499.7 L665.7 500.2 L665.6 500.7 L665.6 501.2 L665.5 501.7 L665.4 502.2 L665.4 502.7 L665.3 503.2 L665.3 503.7 L665.2 504.2 L665.1 504.7 L665.0 505.2 L664.9 505.7 L664.8 506.2 L664.7 506.7 L664.7 507.2 L664.6 507.7 L664.5 508.2 L664.4 508.7 L664.3 509.2 L664.2 509.7 L664.1 510.2 L664.1 510.7 L664.0 511.2 L663.9 511.7 L663.8 512.2 L663.7 512.7 L663.2 513.2 L662.7 513.7 L662.1 514.2 L661.6 514.7 L661.1 515.2 L660.6 515.7 L660.1 516.2 L659.5 516.7 L659.2 517.2 L659.1 517.7 L659.1 518.2 L659.0 518.7 L659.0 519.2 L658.9 519.7 L658.8 520.2 L658.8 520.7 L658.7 521.2 L658.7 521.7 L658.6 522.2 L658.6 522.7 L658.5 523.2 L658.4 523.7 L658.4 524.2 L658.3 524.7 L657.8 525.2 L654.7 525.7 L651.7 526.2 L648.6 526.7 L648.3 527.2 L645.9 527.7 L642.9 528.2 L642.2 528.7 L642.1 529.2 L642.0 529.7 L642.0 530.2 L641.9 530.7 L641.9 531.2 L641.8 531.7 L641.8 532.2 L641.7 532.7 L641.6 533.2 L641.6 533.7 L641.5 534.2 L641.4 534.7 L641.4 535.2 L641.3 535.7 L641.2 536.2 L641.1 536.7 L641.0 537.2 L640.9 537.7 L640.9 538.2 L640.8 538.7 L640.7 539.2 L640.6 539.7 L640.2 540.2 L639.8 540.7 L639.3 541.2 L638.9 541.7 L638.5 542.2 L638.1 542.7 L637.7 543.2 L637.6 543.7 L637.5 544.2 L637.3 544.7 L637.2 545.2 L637.1 545.7 L637.0 546.2 L636.9 546.7 L636.8 547.2 L636.7 547.7 L636.5 548.2 L636.4 548.7 L636.3 549.2 L636.2 549.7 L636.1 550.2 L636.0 550.7 L635.8 551.2 L635.7 551.7 L635.2 552.2 L634.5 552.7 L633.8 553.2 L633.1 553.7 L632.4 554.2 L631.8 554.7 L631.1 555.2 L630.4 555.7 L629.7 556.2 L629.6 556.7 L629.5 557.2 L629.4 557.7 L629.3 558.2 L629.2 558.7 L629.1 559.2 L629.0 559.7 L628.8 560.2 L628.7 560.7 L628.6 561.2 L628.5 561.7 L628.4 562.2 L628.4 562.2 L628.3 561.7 L628.2 561.2 L628.1 560.7 L628.0 560.2 L627.8 559.7 L627.7 559.2 L627.6 558.7 L627.5 558.2 L627.4 557.7 L627.3 557.2 L627.2 556.7 L627.1 556.2 L626.4 555.7 L625.7 555.2 L625.0 554.7 L624.4 554.2 L623.7 553.7 L623.0 553.2 L622.3 552.7 L621.6 552.2 L621.1 551.7 L621.0 551.2 L620.8 550.7 L620.7 550.2 L620.6 549.7 L620.5 549.2 L620.4 548.7 L620.3 548.2 L620.1 547.7 L620.0 547.2 L619.9 546.7 L619.8 546.2 L619.7 545.7 L619.6 545.2 L619.5 544.7 L619.3 544.2 L619.2 543.7 L619.1 543.2 L618.7 542.7 L618.3 542.2 L617.9 541.7 L617.5 541.2 L617.0 540.7 L616.6 540.2 L616.2 539.7 L616.1 539.2 L616.0 538.7 L615.9 538.2 L615.9 537.7 L615.8 537.2 L615.7 536.7 L615.6 536.2 L615.5 535.7 L615.4 535.2 L615.4 534.7 L615.3 534.2 L615.2 533.7 L615.2 533.2 L615.1 532.7 L615.0 532.2 L615.0 531.7 L614.9 531.2 L614.9 530.7 L614.8 530.2 L614.8 529.7 L614.7 529.2 L614.6 528.7 L613.9 528.2 L610.9 527.7 L608.5 527.2 L608.2 526.7 L605.1 526.2 L602.1 525.7 L599.0 525.2 L598.5 524.7 L598.4 524.2 L598.4 523.7 L598.3 523.2 L598.2 522.7 L598.2 522.2 L598.1 521.7 L598.1 521.2 L598.0 520.7 L598.0 520.2 L597.9 519.7 L597.8 519.2 L597.8 518.7 L597.7 518.2 L597.7 517.7 L597.6 517.2 L597.3 516.7 L596.7 516.2 L596.2 515.7 L595.7 515.2 L595.2 514.7 L594.7 514.2 L594.1 513.7 L593.6 513.2 L593.1 512.7 L593.0 512.2 L592.9 511.7 L592.8 511.2 L592.7 510.7 L592.7 510.2 L592.6 509.7 L592.5 509.2 L592.4 508.7 L592.3 508.2 L592.2 507.7 L592.1 507.2 L592.1 506.7 L592.0 506.2 L591.9 505.7 L591.8 505.2 L591.7 504.7 L591.6 504.2 L591.5 503.7 L591.5 503.2 L591.4 502.7 L591.4 502.2 L591.3 501.7 L591.2 501.2 L591.2 500.7 L591.1 500.2 L591.0 499.7 L591.0 499.2 L590.9 498.7 L590.8 498.2 L590.8 497.7 L590.7 497.2 L590.6 496.7 L590.6 496.2 L590.5 495.7 L590.4 495.2 L590.4 494.7 L590.3 494.2 L590.2 493.7 L590.2 493.2 L590.1 492.7 L590.2 492.2 L590.3 491.7 L590.4 491.2 L590.6 490.7 L590.7 490.2 L590.8 489.7 L591.0 489.2 L591.1 488.7 L591.2 488.2 L591.3 487.7 L591.5 487.2 L591.6 486.7 L591.7 486.2 L591.9 485.7 L592.0 485.2 L592.4 484.7 L592.8 484.2 L593.2 483.7 L593.6 483.2 L594.7 482.7 L596.0 482.2 L597.2 481.7 L598.4 481.2 L599.6 480.7 L600.8 480.2 L602.1 479.7 L603.3 479.2 L604.5 478.7 L605.6 478.2 L606.3 477.7 L606.9 477.2 L607.6 476.7 L608.3 476.2 L609.0 475.7 L609.6 475.2 L610.1 474.7 L610.4 474.2 L610.7 473.7 L611.0 473.2 L611.2 472.7 L611.5 472.2 L611.8 471.7 L612.1 471.2 L612.4 470.7 L612.7 470.2 L612.9 469.7 L613.2 469.2 L613.5 468.7 L613.8 468.2 L614.0 467.7 L614.3 467.2 L614.6 466.7 L614.9 466.2 L615.2 465.7 L615.4 465.2 L615.7 464.7 L616.0 464.2 L616.4 463.7 L616.7 463.2 L617.1 462.7 L617.5 462.2 L617.8 461.7 L618.2 461.2 L618.6 460.7 L619.0 460.2 L619.3 459.7 L619.7 459.2 L620.1 458.7 L620.4 458.2 L620.7 457.7 L620.9 457.2 L621.2 456.7 L621.5 456.2 L621.8 455.7 L622.1 455.2 L622.3 454.7 L622.6 454.2 L622.9 453.7 L623.2 453.2 L623.5 452.7 L623.8 452.2 L624.0 451.7 L624.3 451.2 L624.6 450.7 L624.9 450.2 L625.2 449.7 L625.4 449.2 L625.7 448.7 L626.0 448.2 L626.3 447.7 L626.6 447.2 L626.8 446.7 L627.1 446.2 L627.4 445.7 L627.7 445.2 L627.9 444.7 L628.2 444.2Z" fill="#1a1a1a" filter="url(#blur2)"/>
<path d="M628.4 403.3l6.4 11.4h-12.8z" fill-opacity="0.15"/>
<path d="M628.4 405.5l6.4 11.4h-12.8z" fill-opacity="0.15"/>
<path d="M627.9 408.3l6.4 11.4h-12.8z" fill-opacity="0.15"/>
<path d="M627.9 410.4l6.4 11.4h-12.8z" fill-opacity="0.15"/>
<path d="M627.5 413.0l6.4 11.4h-12.8z" fill-opacity="0.15"/>
<path d="M628.3 415.3l6.4 11.4h-12.8z" fill-opacity="0.15"/>
<path d="M627.2 417.4l6.4 11.4h-12.8z" fill-opacity="0.15"/>
<path d="M627.4 420.4l6.4 11.4h-12.8z" fill-opacity="0.15"/>
<path d="M629.5 420.7l6.4 11.4h-12.8z" fill-opacity="0.15"/>
<path d="M626.7 422.5l6.4 11.4h-12.8z" fill-opacity="0.15"/>
<path d="M628.8 422.3l6.4 11.4h-12.8z" fill-opacity="0.15"/>
<path d="M627.0 424.4l6.4 11.4h-12.8z" fill-opacity="0.15"/>
<path d="M632.0 425.1l6.4 11.4h-12.8z" fill-opacity="0.15"/>
<path d="M630.6 425.0l6.4 11.4h-12.8z" fill-opacity="0.15"/>
<path d="M626.2 427.7l6.4 11.4h-12.8z" fill-opacity="0.15"/>
<path d="M631.3 427.3l6.4 11.4h-12.8z" fill-opacity="0.15"/>
<path d="M625.4 430.0l6.4 11.4h-12.8z" fill-opacity="0.15"/>
<path d="M631.1 429.6l6.4 11.4h-12.8z" fill-opacity="0.15"/>
<path d="M624.1 431.2l6.4 11.4h-12.8z" fill-opacity="0.15"/>
<path d="M627.1 432.0l6.4 11.4h-12.8z" fill-opacity="0.15"/>
<path d="M631.3 432.0l6.4 11.4h-12.8z" fill-opacity="0.15"/>
<path d="M629.8 431.5l6.4 11.4h-12.8z" fill-opacity="0.15"/>
<path d="M621.5 433.9l6.4 11.4h-12.8z" fill-opacity="0.15"/>
<path d="M624.6 433.9l6.4 11.4h-12.8z" fill-opacity="0.15"/>
<path d="M627.1 434.4l6.4 11.4h-12.8z" fill-opacity="0.15"/>
<path d="M632.1 434.5l6.4 11.4h-12.8z" fill-opacity="0.15"/>
<path d="M630.7 434.6l6.4 11.4h-12.8z" fill-opacity="0.15"/>
<path d="M623.0 436.8l6.4 11.4h-12.8z" fill-opacity="0.15"/>
<path d="M625.9 436.7l6.4 11.4h-12.8z" fill-opacity="0.15"/>
<path d="M633.5 436.6l6.4 11.4h-12.8z" fill-opacity="0.15"/>
<path d="M631.2 436.5l6.4 11.4h-12.8z" fill-opacity="0.15"/>
<path d="M621.6 440.0l6.4 11.4h-12.8z" fill-opacity="0.15"/>
<path d="M623.3 440.1l6.4 11.4h-12.8z" fill-opacity="0.15"/>
<path d="M627.6 439.9l6.4 11.4h-12.8z" fill-opacity="0.15"/>
<path d="M636.2 439.7l6.4 11.4h-12.8z" fill-opacity="0.15"/>
<path d="M632.2 439.7l6.4 11.4h-12.8z" fill-opacity="0.15"/>
<path d="M628.8 440.1l6.4 11.4h-12.8z" fill-opacity="0.15"/>
<path d="M619.8 442.4l6.4 11.4h-12.8z" fill-opacity="0.15"/>
<path d="M623.7 442.4l6.4 11.4h-12.8z" fill-opacity="0.15"/>
<path d="M626.2 442.0l6.4 11.4h-12.8z" fill-opacity="0.15"/>
<path d="M636.6 441.9l6.4 11.4h-12.8z" fill-opacity="0.15"/>
<path d="M634.1 441.8l6.4 11.4h-12.8z" fill-opacity="0.15"/>
<path d="M630.5 441.5l6.4 11.4h-12.8z" fill-opacity="0.15"/>
<path d="M619.3 443.5l6.4 11.4h-12.8z" fill-opacity="0.15"/>
<path d="M620.8 443.5l6.4 11.4h-12.8z" fill-opacity="0.15"/>
<path d="M625.2 443.8l6.4 11.4h-12.8z" fill-opacity="0.15"/>
<path d="M638.6 444.0l6.4 11.4h-12.8z" fill-opacity="0.15"/>
<path d="M635.2 443.9l6.4 11.4h-12.8z" fill-opacity="0.15"/>
<path d="M631.5 444.2l6.4 11.4h-12.8z" fill-opacity="0.15"/>
<path d="M617.6 447.0l6.4 11.4h-12.8z" fill-opacity="0.15"/>
<path d="M620.6 447.2l6.4 11.4h-12.8z" fill-opacity="0.15"/>
<path d="M622.7 446.7l6.4 11.4h-12.8z" fill-opacity="0.15"/>
<path d="M643.1 447.1l6.4 11.4h-12.8z" fill-opacity="0.15"/>
<path d="M639.1 446.9l6.4 11.4h-12.8z" fill-opacity="0.15"/>
<path d="M636.5 447.2l6.4 11.4h-12.8z" fill-opacity="0.15"/>
<path d="M634.2 447.3l6.4 11.4h-12.8z" fill-opacity="0.15"/>
<path d="M612.8 448.7l6.4 11.4h-12.8z" fill-opacity="0.15"/>
<path d="M616.6 448.5l6.4 11.4h-12.8z" fill-opacity="0.15"/>
<path d="M618.2 448.8l6.4 11.4h-12.8z" fill-opacity="0.15"/>
<path d="M621.2 448.6l6.4 11.4h-12.8z" fill-opacity="0.15"/>
<path d="M641.2 448.7l6.4 11.4h-12.8z" fill-opacity="0.15"/>
<path d="M637.5 448.8l6.4 11.4h-12.8z" fill-opacity="0.15"/>
<path d="M634.7 449.0l6.4 11.4h-12.8z" fill-opacity="0.15"/>
<path d="M613.8 451.4l6.4 11.4h-12.8z" fill-opacity="0.15"/>
<path d="M617.2 451.5l6.4 11.4h-12.8z" fill-opacity="0.15"/>
<path d="M621.3 450.9l6.4 11.4h-12.8z" fill-opacity="0.15"/>
<path d="M642.4 450.9l6.4 11.4h-12.8z" fill-opacity="0.15"/>
<path d="M638.9 450.9l6.4 11.4h-12.8z" fill-opacity="0.15"/>
<path d="M635.5 451.3l6.4 11.4h-12.8z" fill-opacity="0.15"/>
<path d="M613.7 452.8l6.4 11.4h-12.8z" fill-opacity="0.15"/>
<path d="M615.9 452.8l6.4 11.4h-12.8z" fill-opacity="0.15"/>
<path d="M619.6 453.7l6.4 11.4h-12.8z" fill-opacity="0.15"/>
<path d="M644.3 453.4l6.4 11.4h-12.8z" fill-opacity="0.15"/>
<path d="M640.3 452.7l6.4 11.4h-12.8z" fill-opacity="0.15"/>
<path d="M637.5 453.2l6.4 11.4h-12.8z" fill-opacity="0.15"/>
<path d="M611.3 456.1l6.4 11.4h-12.8z" fill-opacity="0.15"/>
<path d="M614.6 456.4l6.4 11.4h-12.8z" fill-opacity="0.15"/>
<path d="M617.5 456.4l6.4 11.4h-12.8z" fill-opacity="0.15"/>
<path d="M645.3 456.9l6.4 11.4h-12.8z" fill-opacity="0.15"/>
<path d="M642.8 457.0l6.4 11.4h-12.8z" fill-opacity="0.15"/>
<path d="M639.7 456.6l6.4 11.4h-12.8z" fill-opacity="0.15"/>
<path d="M609.0 459.4l6.4 11.4h-12.8z" fill-opacity="0.15"/>
<path d="M612.9 459.0l6.4 11.4h-12.8z" fill-opacity="0.15"/>
<path d="M615.7 458.8l6.4 11.4h-12.8z" fill-opacity="0.15"/>
<path d="M649.7 459.4l6.4 11.4h-12.8z" fill-opacity="0.15"/>
<path d="M648.2 458.7l6.4 11.4h-12.8z" fill-opacity="0.15"/>
<path d="M644.6 459.3l6.4 11.4h-12.8z" fill-opacity="0.15"/>
<path d="M641.0 459.5l6.4 11.4h-12.8z" fill-opacity="0.15"/>
<path d="M606.2 461.0l6.4 11.4h-12.8z" fill-opacity="0.15"/>
<path d="M607.2 460.9l6.4 11.4h-12.8z" fill-opacity="0.15"/>
<path d="M610.2 460.6l6.4 11.4h-12.8z" fill-opacity="0.15"/>
<path d="M614.6 461.2l6.4 11.4h-12.8z" fill-opacity="0.15"/>
<path d="M651.8 460.9l6.4 11.4h-12.8z" fill-opacity="0.15"/>
<path d="M648.6 461.1l6.4 11.4h-12.8z" fill-opacity="0.15"/>
<path d="M646.0 461.3l6.4 11.4h-12.8z" fill-opacity="0.15"/>
<path d="M643.4 461.1l6.4 11.4h-12.8z" fill-opacity="0.15"/>
<path d="M607.2 463.6l6.4 11.4h-12.8z" fill-opacity="0.15"/>
<path d="M609.4 462.9l6.4 11.4h-12.8z" fill-opacity="0.15"/>
<path d="M612.2 463.4l6.4 11.4h-12.8z" fill-opacity="0.15"/>
<path d="M651.0 463.2l6.4 11.4h-12.8z" fill-opacity="0.15"/>
<path d="M646.4 462.8l6.4 11.4h-12.8z" fill-opacity="0.15"/>
<path d="M643.2 462.8l6.4 11.4h-12.8z" fill-opacity="0.15"/>
<path d="M602.8 466.2l6.4 11.4h-12.8z" fill-opacity="0.15"/>
<path d="M605.9 466.2l6.4 11.4h-12.8z" fill-opacity="0.15"/>
<path d="M608.1 466.1l6.4 11.4h-12.8z" fill-opacity="0.15"/>
<path d="M612.2 466.2l6.4 11.4h-12.8z" fill-opacity="0.15"/>
<path d="M653.3 466.4l6.4 11.4h-12.8z" fill-opacity="0.15"/>
<path d="M652.0 466.5l6.4 11.4h-12.8z" fill-opacity="0.15"/>
<path d="M647.7 465.9l6.4 11.4h-12.8z" fill-opacity="0.15"/>
<path d="M644.9 465.9l6.4 11.4h-12.8z" fill-opacity="0.15"/>
<path d="M603.5 468.2l6.4 11.4h-12.8z" fill-opacity="0.15"/>
<path d="M606.5 467.7l6.4 11.4h-12.8z" fill-opacity="0.15"/>
<path d="M610.3 467.6l6.4 11.4h-12.8z" fill-opacity="0.15"/>
<path d="M653.1 467.6l6.4 11.4h-12.8z" fill-opacity="0.15"/>
<path d="M650.0 467.4l6.4 11.4h-12.8z" fill-opacity="0.15"/>
<path d="M646.0 468.0l6.4 11.4h-12.8z" fill-opacity="0.15"/>
<path d="M600.3 469.9l6.4 11.4h-12.8z" fill-opacity="0.15"/>
<path d="M604.5 470.3l6.4 11.4h-12.8z" fill-opacity="0.15"/>
<path d="M607.5 469.8l6.4 11.4h-12.8z" fill-opacity="0.15"/>
<path d="M655.0 470.3l6.4 11.4h-12.8z" fill-opacity="0.15"/>
<path d="M652.1 470.3l6.4 11.4h-12.8z" fill-opacity="0.15"/>
<path d="M650.2 469.8l6.4 11.4h-12.8z" fill-opacity="0.15"/>
<path d="M596.5 473.6l6.4 11.4h-12.8z" fill-opacity="0.15"/>
<path d="M600.2 473.1l6.4 11.4h-12.8z" fill-opacity="0.15"/>
<path d="M602.5 473.4l6.4 11.4h-12.8z" fill-opacity="0.15"/>
<path d="M659.5 473.7l6.4 11.4h-12.8z" fill-opacity="0.15"/>
<path d="M657.4 473.7l6.4 11.4h-12.8z" fill-opacity="0.15"/>
<path d="M654.2 473.3l6.4 11.4h-12.8z" fill-opacity="0.15"/>
<path d="M588.7 476.3l6.4 11.4h-12.8z" fill-opacity="0.15"/>
<path d="M590.2 475.9l6.4 11.4h-12.8z" fill-opacity="0.15"/>
<path d="M594.8 476.0l6.4 11.4h-12.8z" fill-opacity="0.15"/>
<path d="M596.3 476.4l6.4 11.4h-12.8z" fill-opacity="0.15"/>
<path d="M669.1 476.2l6.4 11.4h-12.8z" fill-opacity="0.15"/>
<path d="M666.5 476.2l6.4 11.4h-12.8z" fill-opacity="0.15"/>
<path d="M663.1 475.9l6.4 11.4h-12.8z" fill-opacity="0.15"/>
<path d="M659.6 476.1l6.4 11.4h-12.8z" fill-opacity="0.15"/>
<path d="M587.5 477.3l6.4 11.4h-12.8z" fill-opacity="0.15"/>
<path d="M590.6 477.0l6.4 11.4h-12.8z" fill-opacity="0.15"/>
<path d="M593.5 477.0l6.4 11.4h-12.8z" fill-opacity="0.15"/>
<path d="M672.2 477.8l6.4 11.4h-12.8z" fill-opacity="0.15"/>
<path d="M670.1 477.0l6.4 11.4h-12.8z" fill-opacity="0.15"/>
<path d="M666.5 477.8l6.4 11.4h-12.8z" fill-opacity="0.15"/>
<path d="M664.3 477.3l6.4 11.4h-12.8z" fill-opacity="0.15"/>
<path d="M585.8 479.4l6.4 11.4h-12.8z" fill-opacity="0.15"/>
<path d="M587.6 479.9l6.4 11.4h-12.8z" fill-opacity="0.15"/>
<path d="M591.0 479.7l6.4 11.4h-12.8z" fill-opacity="0.15"/>
<path d="M672.0 479.7l6.4 11.4h-12.8z" fill-opacity="0.15"/>
<path d="M668.2 479.4l6.4 11.4h-12.8z" fill-opacity="0.15"/>
<path d="M665.4 479.3l6.4 11.4h-12.8z" fill-opacity="0.15"/>
<path d="M585.5 482.0l6.4 11.4h-12.8z" fill-opacity="0.15"/>
<path d="M587.1 482.4l6.4 11.4h-12.8z" fill-opacity="0.15"/>
<path d="M590.7 481.8l6.4 11.4h-12.8z" fill-opacity="0.15"/>
<path d="M673.9 481.9l6.4 11.4h-12.8z" fill-opacity="0.15"/>
<path d="M671.4 481.8l6.4 11.4h-12.8z" fill-opacity="0.15"/>
<path d="M668.2 482.6l6.4 11.4h-12.8z" fill-opacity="0.15"/>
<path d="M666.8 482.4l6.4 11.4h-12.8z" fill-opacity="0.15"/>
<path d="M581.6 485.1l6.4 11.4h-12.8z" fill-opacity="0.15"/>
<path d="M583.9 485.0l6.4 11.4h-12.8z" fill-opacity="0.15"/>
<path d="M587.6 484.9l6.4 11.4h-12.8z" fill-opacity="0.15"/>
<path d="M590.0 485.7l6.4 11.4h-12.8z" fill-opacity="0.15"/>
<path d="M672.0 485.0l6.4 11.4h-12.8z" fill-opacity="0.15"/>
<path d="M669.8 485.3l6.4 11.4h-12.8z" fill-opacity="0.15"/>
<path d="M666.4 484.7l6.4 11.4h-12.8z" fill-opacity="0.15"/>
<path d="M581.2 487.1l6.4 11.4h-12.8z" fill-opacity="0.15"/>
<path d="M583.5 487.2l6.4 11.4h-12.8z" fill-opacity="0.15"/>
<path d="M587.5 487.3l6.4 11.4h-12.8z" fill-opacity="0.15"/>
<path d="M590.6 486.7l6.4 11.4h-12.8z" fill-opacity="0.15"/>
<path d="M675.1 486.8l6.4 11.4h-12.8z" fill-opacity="0.15"/>
<path d="M673.1 486.6l6.4 11.4h-12.8z" fill-opacity="0.15"/>
<path d="M669.2 487.0l6.4 11.4h-12.8z" fill-opacity="0.15"/>
<path d="M666.6 487.4l6.4 11.4h-12.8z" fill-opacity="0.15"/>
<path d="M581.7 488.9l6.4 11.4h-12.8z" fill-opacity="0.15"/>
<path d="M583.9 489.2l6.4 11.4h-12.8z" fill-opacity="0.15"/>
<path d="M587.3 489.3l6.4 11.4h-12.8z" fill-opacity="0.15"/>
<path d="M590.0 489.2l6.4 11.4h-12.8z" fill-opacity="0.15"/>
<path d="M675.5 488.8l6.4 11.4h-12.8z" fill-opacity="0.15"/>
<path d="M672.1 489.3l6.4 11.4h-12.8z" fill-opacity="0.15"/>
<path d="M669.2 489.4l6.4 11.4h-12.8z" fill-opacity="0.15"/>
<path d="M666.9 489.5l6.4 11.4h-12.8z" fill-opacity="0.15"/>
<path d="M582.1 492.5l6.4 11.4h-12.8z" fill-opacity="0.15"/>
<path d="M583.9 492.6l6.4 11.4h-12.8z" fill-opacity="0.15"/>
<path d="M587.4 492.5l6.4 11.4h-12.8z" fill-opacity="0.15"/>
<path d="M591.5 492.2l6.4 11.4h-12.8z" fill-opacity="0.15"/>
<path d="M672.5 492.5l6.4 11.4h-12.8z" fill-opacity="0.15"/>
<path d="M669.8 492.1l6.4 11.4h-12.8z" fill-opacity="0.15"/>
<path d="M665.3 492.5l6.4 11.4h-12.8z" fill-opacity="0.15"/>
<path d="M585.7 494.2l6.4 11.4h-12.8z" fill-opacity="0.15"/>
<path d="M587.5 494.9l6.4 11.4h-12.8z" fill-opacity="0.15"/>
<path d="M591.8 494.6l6.4 11.4h-12.8z" fill-opacity="0.15"/>
<path d="M674.7 494.2l6.4 11.4h-12.8z" fill-opacity="0.15"/>
<path d="M672.6 494.3l6.4 11.4h-12.8z" fill-opacity="0.15"/>
<path d="M669.1 494.4l6.4 11.4h-12.8z" fill-opacity="0.15"/>
<path d="M666.2 494.7l6.4 11.4h-12.8z" fill-opacity="0.15"/>
<path d="M583.5 496.5l6.4 11.4h-12.8z" fill-opacity="0.15"/>
<path d="M584.8 496.8l6.4 11.4h-12.8z" fill-opacity="0.15"/>
<path d="M588.4 496.3l6.4 11.4h-12.8z" fill-opacity="0.15"/>
<path d="M591.6 496.8l6.4 11.4h-12.8z" fill-opacity="0.15"/>
<path d="M671.9 496.6l6.4 11.4h-12.8z" fill-opacity="0.15"/>
<path d="M668.9 496.3l6.4 11.4h-12.8z" fill-opacity="0.15"/>
<path d="M665.4 496.9l6.4 11.4h-12.8z" fill-opacity="0.15"/>
<path d="M585.3 500.0l6.4 11.4h-12.8z" fill-opacity="0.15"/>
<path d="M588.8 499.7l6.4 11.4h-12.8z" fill-opacity="0.15"/>
<path d="M592.0 500.2l6.4 11.4h-12.8z" fill-opacity="0.15"/>
<path d="M670.7 500.1l6.4 11.4h-12.8z" fill-opacity="0.15"/>
<path d="M668.1 499.7l6.4 11.4h-12.8z" fill-opacity="0.15"/>
<path d="M665.9 499.3l6.4 11.4h-12.8z" fill-opacity="0.15"/>
<path d="M586.9 501.7l6.4 11.4h-12.8z" fill-opacity="0.15"/>
<path d="M588.3 501.1l6.4 11.4h-12.8z" fill-opacity="0.15"/>
<path d="M591.4 501.2l6.4 11.4h-12.8z" fill-opacity="0.15"/>
<path d="M670.6 501.7l6.4 11.4h-12.8z" fill-opacity="0.15"/>
<path d="M667.4 501.7l6.4 11.4h-12.8z" fill-opacity="0.15"/>
<path d="M664.4 501.0l6.4 11.4h-12.8z" fill-opacity="0.15"/>
<path d="M584.5 504.9l6.4 11.4h-12.8z" fill-opacity="0.15"/>
<path d="M585.7 505.1l6.4 11.4h-12.8z" fill-opacity="0.15"/>
<path d="M589.1 504.3l6.4 11.4h-12.8z" fill-opacity="0.15"/>
<path d="M593.3 505.1l6.4 11.4h-12.8z" fill-opacity="0.15"/>
<path d="M671.2 504.6l6.4 11.4h-12.8z" fill-opacity="0.15"/>
<path d="M667.4 504.5l6.4 11.4h-12.8z" fill-opacity="0.15"/>
<path d="M663.6 505.0l6.4 11.4h-12.8z" fill-opacity="0.15"/>
<path d="M584.3 507.2l6.4 11.4h-12.8z" fill-opacity="0.15"/>
<path d="M586.6 506.6l6.4 11.4h-12.8z" fill-opacity="0.15"/>
<path d="M591.0 506.5l6.4 11.4h-12.8z" fill-opacity="0.15"/>
<path d="M593.7 506.7l6.4 11.4h-12.8z" fill-opacity="0.15"/>
<path d="M669.7 506.5l6.4 11.4h-12.8z" fill-opacity="0.15"/>
<path d="M666.4 506.5l6.4 11.4h-12.8z" fill-opacity="0.15"/>
<path d="M664.3 507.1l6.4 11.4h-12.8z" fill-opacity="0.15"/>
<path d="M589.1 509.2l6.4 11.4h-12.8z" fill-opacity="0.15"/>
<path d="M592.9 509.4l6.4 11.4h-12.8z" fill-opacity="0.15"/>
<path d="M596.0 509.2l6.4 11.4h-12.8z" fill-opacity="0.15"/>
<path d="M667.1 509.7l6.4 11.4h-12.8z" fill-opacity="0.15"/>
<path d="M663.7 509.7l6.4 11.4h-12.8z" fill-opacity="0.15"/>
<path d="M661.5 509.9l6.4 11.4h-12.8z" fill-opacity="0.15"/>
<path d="M590.8 510.7l6.4 11.4h-12.8z" fill-opacity="0.15"/>
<path d="M594.6 511.0l6.4 11.4h-12.8z" fill-opacity="0.15"/>
<path d="M596.6 511.3l6.4 11.4h-12.8z" fill-opacity="0.15"/>
<path d="M668.0 511.4l6.4 11.4h-12.8z" fill-opacity="0.15"/>
<path d="M664.5 511.3l6.4 11.4h-12.8z" fill-opacity="0.15"/>
<path d="M662.6 511.3l6.4 11.4h-12.8z" fill-opacity="0.15"/>
<path d="M658.7 511.5l6.4 11.4h-12.8z" fill-opacity="0.15"/>
<path d="M592.2 513.2l6.4 11.4h-12.8z" fill-opacity="0.15"/>
<path d="M595.5 513.7l6.4 11.4h-12.8z" fill-opacity="0.15"/>
<path d="M597.0 513.8l6.4 11.4h-12.8z" fill-opacity="0.15"/>
<path d="M666.9 514.1l6.4 11.4h-12.8z" fill-opacity="0.15"/>
<path d="M664.9 514.0l6.4 11.4h-12.8z" fill-opacity="0.15"/>
<path d="M662.5 513.9l6.4 11.4h-12.8z" fill-opacity="0.15"/>
<path d="M659.7 513.5l6.4 11.4h-12.8z" fill-opacity="0.15"/>
<path d="M588.5 515.5l6.4 11.4h-12.8z" fill-opacity="0.15"/>
<path d="M591.4 515.5l6.4 11.4h-12.8z" fill-opacity="0.15"/>
<path d="M594.8 516.3l6.4 11.4h-12.8z" fill-opacity="0.15"/>
<path d="M597.9 516.0l6.4 11.4h-12.8z" fill-opacity="0.15"/>
<path d="M664.0 516.4l6.4 11.4h-12.8z" fill-opacity="0.15"/>
<path d="M662.1 516.4l6.4 11.4h-12.8z" fill-opacity="0.15"/>
<path d="M659.4 515.7l6.4 11.4h-12.8z" fill-opacity="0.15"/>
<path d="M592.8 519.0l6.4 11.4h-12.8z" fill-opacity="0.15"/>
<path d="M594.4 518.4l6.4 11.4h-12.8z" fill-opacity="0.15"/>
<path d="M598.0 518.8l6.4 11.4h-12.8z" fill-opacity="0.15"/>
<path d="M664.8 518.6l6.4 11.4h-12.8z" fill-opacity="0.15"/>
<path d="M660.7 518.5l6.4 11.4h-12.8z" fill-opacity="0.15"/>
<path d="M658.3 519.0l6.4 11.4h-12.8z" fill-opacity="0.15"/>
<path d="M602.7 520.6l6.4 11.4h-12.8z" fill-opacity="0.15"/>
<path d="M605.1 521.2l6.4 11.4h-12.8z" fill-opacity="0.15"/>
<path d="M608.3 520.5l6.4 11.4h-12.8z" fill-opacity="0.15"/>
<path d="M654.9 520.8l6.4 11.4h-12.8z" fill-opacity="0.15"/>
<path d="M652.1 520.7l6.4 11.4h-12.8z" fill-opacity="0.15"/>
<path d="M648.8 520.8l6.4 11.4h-12.8z" fill-opacity="0.15"/>
<path d="M606.5 522.9l6.4 11.4h-12.8z" fill-opacity="0.15"/>
<path d="M607.9 523.2l6.4 11.4h-12.8z" fill-opacity="0.15"/>
<path d="M611.3 522.4l6.4 11.4h-12.8z" fill-opacity="0.15"/>
<path d="M614.4 523.2l6.4 11.4h-12.8z" fill-opacity="0.15"/>
<path d="M650.9 522.8l6.4 11.4h-12.8z" fill-opacity="0.15"/>
<path d="M648.2 522.5l6.4 11.4h-12.8z" fill-opacity="0.15"/>
<path d="M645.3 522.7l6.4 11.4h-12.8z" fill-opacity="0.15"/>
<path d="M642.3 522.5l6.4 11.4h-12.8z" fill-opacity="0.15"/>
<path d="M605.7 526.0l6.4 11.4h-12.8z" fill-opacity="0.15"/>
<path d="M608.4 525.4l6.4 11.4h-12.8z" fill-opacity="0.15"/>
<path d="M611.9 525.6l6.4 11.4h-12.8z" fill-opacity="0.15"/>
<path d="M615.4 525.1l6.4 11.4h-12.8z" fill-opacity="0.15"/>
<path d="M647.9 525.8l6.4 11.4h-12.8z" fill-opacity="0.15"/>
<path d="M644.9 525.3l6.4 11.4h-12.8z" fill-opacity="0.15"/>
<path d="M641.1 525.6l6.4 11.4h-12.8z" fill-opacity="0.15"/>
<path d="M607.1 528.6l6.4 11.4h-12.8z" fill-opacity="0.15"/>
<path d="M608.7 527.9l6.4 11.4h-12.8z" fill-opacity="0.15"/>
<path d="M612.3 528.4l6.4 11.4h-12.8z" fill-opacity="0.15"/>
<path d="M614.5 527.8l6.4 11.4h-12.8z" fill-opacity="0.15"/>
<path d="M647.8 528.4l6.4 11.4h-12.8z" fill-opacity="0.15"/>
<path d="M644.0 528.1l6.4 11.4h-12.8z" fill-opacity="0.15"/>
<path d="M641.9 528.0l6.4 11.4h-12.8z" fill-opacity="0.15"/>
<path d="M609.4 531.0l6.4 11.4h-12.8z" fill-opacity="0.15"/>
<path d="M612.1 530.2l6.4 11.4h-12.8z" fill-opacity="0.15"/>
<path d="M615.2 530.2l6.4 11.4h-12.8z" fill-opacity="0.15"/>
<path d="M650.4 530.9l6.4 11.4h-12.8z" fill-opacity="0.15"/>
<path d="M648.2 530.4l6.4 11.4h-12.8z" fill-opacity="0.15"/>
<path d="M644.3 530.8l6.4 11.4h-12.8z" fill-opacity="0.15"/>
<path d="M641.8 531.0l6.4 11.4h-12.8z" fill-opacity="0.15"/>
<path d="M607.7 533.0l6.4 11.4h-12.8z" fill-opacity="0.15"/>
<path d="M610.7 532.5l6.4 11.4h-12.8z" fill-opacity="0.15"/>
<path d="M612.3 533.2l6.4 11.4h-12.8z" fill-opacity="0.15"/>
<path d="M616.0 533.0l6.4 11.4h-12.8z" fill-opacity="0.15"/>
<path d="M646.5 532.8l6.4 11.4h-12.8z" fill-opacity="0.15"/>
<path d="M643.2 532.7l6.4 11.4h-12.8z" fill-opacity="0.15"/>
<path d="M641.2 533.2l6.4 11.4h-12.8z" fill-opacity="0.15"/>
<path d="M609.1 535.4l6.4 11.4h-12.8z" fill-opacity="0.15"/>
<path d="M612.5 536.3l6.4 11.4h-12.8z" fill-opacity="0.15"/>
<path d="M615.3 535.7l6.4 11.4h-12.8z" fill-opacity="0.15"/>
<path d="M617.3 535.6l6.4 11.4h-12.8z" fill-opacity="0.15"/>
<path d="M644.4 536.1l6.4 11.4h-12.8z" fill-opacity="0.15"/>
<path d="M641.8 535.5l6.4 11.4h-12.8z" fill-opacity="0.15"/>
<path d="M638.7 535.9l6.4 11.4h-12.8z" fill-opacity="0.15"/>
<path d="M610.8 537.5l6.4 11.4h-12.8z" fill-opacity="0.15"/>
<path d="M613.2 537.6l6.4 11.4h-12.8z" fill-opacity="0.15"/>
<path d="M615.8 537.5l6.4 11.4h-12.8z" fill-opacity="0.15"/>
<path d="M619.8 537.3l6.4 11.4h-12.8z" fill-opacity="0.15"/>
<path d="M644.5 537.6l6.4 11.4h-12.8z" fill-opacity="0.15"/>
<path d="M640.5 537.2l6.4 11.4h-12.8z" fill-opacity="0.15"/>
<path d="M637.7 537.2l6.4 11.4h-12.8z" fill-opacity="0.15"/>
<path d="M611.3 539.5l6.4 11.4h-12.8z" fill-opacity="0.15"/>
<path d="M614.2 539.4l6.4 11.4h-12.8z" fill-opacity="0.15"/>
<path d="M616.7 539.6l6.4 11.4h-12.8z" fill-opacity="0.15"/>
<path d="M619.1 540.1l6.4 11.4h-12.8z" fill-opacity="0.15"/>
<path d="M643.8 539.7l6.4 11.4h-12.8z" fill-opacity="0.15"/>
<path d="M639.3 540.2l6.4 11.4h-12.8z" fill-opacity="0.15"/>
<path d="M638.0 539.4l6.4 11.4h-12.8z" fill-opacity="0.15"/>
<path d="M611.2 542.8l6.4 11.4h-12.8z" fill-opacity="0.15"/>
<path d="M615.0 542.7l6.4 11.4h-12.8z" fill-opacity="0.15"/>
<path d="M617.2 542.1l6.4 11.4h-12.8z" fill-opacity="0.15"/>
<path d="M620.7 542.2l6.4 11.4h-12.8z" fill-opacity="0.15"/>
<path d="M645.3 542.0l6.4 11.4h-12.8z" fill-opacity="0.15"/>
<path d="M643.3 542.3l6.4 11.4h-12.8z" fill-opacity="0.15"/>
<path d="M639.4 542.7l6.4 11.4h-12.8z" fill-opacity="0.15"/>
<path d="M635.8 542.1l6.4 11.4h-12.8z" fill-opacity="0.15"/>
<path d="M614.8 545.4l6.4 11.4h-12.8z" fill-opacity="0.15"/>
<path d="M617.5 545.4l6.4 11.4h-12.8z" fill-opacity="0.15"/>
<path d="M620.2 545.4l6.4 11.4h-12.8z" fill-opacity="0.15"/>
<path d="M641.9 545.5l6.4 11.4h-12.8z" fill-opacity="0.15"/>
<path d="M639.5 544.7l6.4 11.4h-12.8z" fill-opacity="0.15"/>
<path d="M636.1 545.6l6.4 11.4h-12.8z" fill-opacity="0.15"/>
<path d="M617.7 547.6l6.4 11.4h-12.8z" fill-opacity="0.15"/>
<path d="M620.7 547.0l6.4 11.4h-12.8z" fill-opacity="0.15"/>
<path d="M623.1 547.8l6.4 11.4h-12.8z" fill-opacity="0.15"/>
<path d="M638.5 546.9l6.4 11.4h-12.8z" fill-opacity="0.15"/>
<path d="M636.0 547.5l6.4 11.4h-12.8z" fill-opacity="0.15"/>
<path d="M634.1 547.6l6.4 11.4h-12.8z" fill-opacity="0.15"/>
<path d="M620.2 549.3l6.4 11.4h-12.8z" fill-opacity="0.15"/>
<path d="M624.3 549.3l6.4 11.4h-12.8z" fill-opacity="0.15"/>
<path d="M626.8 549.1l6.4 11.4h-12.8z" fill-opacity="0.15"/>
<path d="M638.3 549.5l6.4 11.4h-12.8z" fill-opacity="0.15"/>
<path d="M635.7 549.5l6.4 11.4h-12.8z" fill-opacity="0.15"/>
<path d="M632.9 549.0l6.4 11.4h-12.8z" fill-opacity="0.15"/>
<path d="M630.5 549.7l6.4 11.4h-12.8z" fill-opacity="0.15"/>
<path d="M621.6 552.8l6.4 11.4h-12.8z" fill-opacity="0.15"/>
<path d="M623.5 552.5l6.4 11.4h-12.8z" fill-opacity="0.15"/>
<path d="M627.0 552.0l6.4 11.4h-12.8z" fill-opacity="0.15"/>
<path d="M638.4 552.3l6.4 11.4h-12.8z" fill-opacity="0.15"/>
<path d="M635.0 552.5l6.4 11.4h-12.8z" fill-opacity="0.15"/>
<path d="M631.6 552.5l6.4 11.4h-12.8z" fill-opacity="0.15"/>
<path d="M629.8 552.7l6.4 11.4h-12.8z" fill-opacity="0.15"/>
<path d="M618.7 554.4l6.4 11.4h-12.8z" fill-opacity="0.15"/>
<path d="M621.2 554.0l6.4 11.4h-12.8z" fill-opacity="0.15"/>
<path d="M625.2 554.3l6.4 11.4h-12.8z" fill-opacity="0.15"/>
<path d="M628.2 554.4l6.4 11.4h-12.8z" fill-opacity="0.15"/>
<path d="M634.0 553.5l6.4 11.4h-12.8z" fill-opacity="0.15"/>
<path d="M632.6 553.8l6.4 11.4h-12.8z" fill-opacity="0.15"/>
<path d="M628.4 553.6l6.4 11.4h-12.8z" fill-opacity="0.15"/>
<path d="M623.4 557.1l6.4 11.4h-12.8z" fill-opacity="0.15"/>
<path d="M625.7 557.0l6.4 11.4h-12.8z" fill-opacity="0.15"/>
<path d="M635.0 556.5l6.4 11.4h-12.8z" fill-opacity="0.15"/>
<path d="M631.7 556.4l6.4 11.4h-12.8z" fill-opacity="0.15"/>
<path d="M620.1 559.4l6.4 11.4h-12.8z" fill-opacity="0.15"/>
<path d="M623.2 558.7l6.4 11.4h-12.8z" fill-opacity="0.15"/>
<path d="M627.4 559.3l6.4 11.4h-12.8z" fill-opacity="0.15"/>
<path d="M633.7 559.2l6.4 11.4h-12.8z" fill-opacity="0.15"/>
<path d="M629.9 559.1l6.4 11.4h-12.8z" fill-opacity="0.15"/>
<path d="M624.8 562.1l6.4 11.4h-12.8z" fill-opacity="0.15"/>
<path d="M626.5 562.2l6.4 11.4h-12.8z" fill-opacity="0.15"/>
<path d="M633.3 562.2l6.4 11.4h-12.8z" fill-opacity="0.15"/>
<path d="M630.2 561.9l6.4 11.4h-12.8z" fill-opacity="0.15"/>
<path d="M621.7 563.7l6.4 11.4h-12.8z" fill-opacity="0.15"/>
<path d="M624.7 564.1l6.4 11.4h-12.8z" fill-opacity="0.15"/>
<path d="M627.7 563.3l6.4 11.4h-12.8z" fill-opacity="0.15"/>
<path d="M632.3 563.3l6.4 11.4h-12.8z" fill-opacity="0.15"/>
<path d="M629.5 563.7l6.4 11.4h-12.8z" fill-opacity="0.15"/>
<path d="M625.9 567.5l6.4 11.4h-12.8z" fill-opacity="0.15"/>
<path d="M632.0 566.9l6.4 11.4h-12.8z" fill-opacity="0.15"/>
<path d="M625.7 568.8l6.4 11.4h-12.8z" fill-opacity="0.15"/>
<path d="M633.0 568.3l6.4 11.4h-12.8z" fill-opacity="0.15"/>
<path d="M631.3 568.4l6.4 11.4h-12.8z" fill-opacity="0.15"/>
<path d="M626.4 572.0l6.4 11.4h-12.8z" fill-opacity="0.15"/>
<path d="M632.2 572.1l6.4 11.4h-12.8z" fill-opacity="0.15"/>
<path d="M630.2 571.4l6.4 11.4h-12.8z" fill-opacity="0.15"/>
<path d="M626.1 574.0l6.4 11.4h-12.8z" fill-opacity="0.15"/>
<path d="M632.0 574.1l6.4 11.4h-12.8z" fill-opacity="0.15"/>
<path d="M630.1 573.4l6.4 11.4h-12.8z" fill-opacity="0.15"/>
<path d="M627.6 576.0l6.4 11.4h-12.8z" fill-opacity="0.15"/>
<path d="M629.4 576.1l6.4 11.4h-12.8z" fill-opacity="0.15"/>
<path d="M625.4 579.1l6.4 11.4h-12.8z" fill-opacity="0.15"/>
<path d="M628.2 579.5l6.4 11.4h-12.8z" fill-opacity="0.15"/>
<path d="M629.1 579.5l6.4 11.4h-12.8z" fill-opacity="0.15"/>
<path d="M628.9 581.4l6.4 11.4h-12.8z" fill-opacity="0.15"/>
<path d="M628.2 583.9l6.4 11.4h-12.8z" fill-opacity="0.15"/>
<path d="M626.5 586.1l6.4 11.4h-12.8z" fill-opacity="0.15"/>
<path d="M627.7 588.0l6.4 11.4h-12.8z" fill-opacity="0.15"/>
<path d="M626.6 590.7l6.4 11.4h-12.8z" fill-opacity="0.15"/>
<path d="M628.5 592.5l6.4 11.4h-12.8z" fill-opacity="0.15"/>
<path d="M630.0 595.9l6.4 11.4h-12.8z" fill-opacity="0.15"/>
<path d="M627.4 597.8l6.4 11.4h-12.8z" fill-opacity="0.15"/>
<path d="M628.1 600.4l6.4 11.4h-12.8z" fill-opacity="0.15"/>
<path d="M628.3 443.8l6.4 11.4h-12.8z" fill-opacity="0.15"/>
<path d="M627.5 412.1l6.4 11.4h-12.8z" fill-opacity="0.15"/>
<path d="M625.4 561.9l6.4 11.4h-12.8z" fill-opacity="0.15"/>
<path d="M628.3 420.5l6.4 11.4h-12.8z" fill-opacity="0.15"/>
<path d="M638.8 440.4l6.4 11.4h-12.8z" fill-opacity="0.15"/>
<path d="M643.8 500.4l6.4 11.4h-12.8z" fill-opacity="0.15"/>
<path d="M628.3 585.3l6.4 11.4h-12.8z" fill-opacity="0.15"/>
<path d="M626.6 544.9l6.4 11.4h-12.8z" fill-opacity="0.15"/>
<path d="M628.4 573.3l6.4 11.4h-12.8z" fill-opacity="0.15"/>
<path d="M667.4 490.0l6.4 11.4h-12.8z" fill-opacity="0.15"/>
<path d="M611.5 491.1l6.4 11.4h-12.8z" fill-opacity="0.15"/>
<path d="M628.8 581.6l6.4 11.4h-12.8z" fill-opacity="0.15"/>
<path d="M627.5 536.9l6.4 11.4h-12.8z" fill-opacity="0.15"/>
<path d="M660.5 496.1l6.4 11.4h-12.8z" fill-opacity="0.15"/>
<path d="M630.3 416.9l6.4 11.4h-12.8z" fill-opacity="0.15"/>
<path d="M639.2 524.7l6.4 11.4h-12.8z" fill-opacity="0.15"/>
<path d="M620.1 556.8l6.4 11.4h-12.8z" fill-opacity="0.15"/>
<path d="M631.2 568.4l6.4 11.4h-12.8z" fill-opacity="0.15"/>
<path d="M627.5 595.7l6.4 11.4h-12.8z" fill-opacity="0.15"/>
<path d="M631.0 569.8l6.4 11.4h-12.8z" fill-opacity="0.15"/>
<path d="M640.8 525.7l6.4 11.4h-12.8z" fill-opacity="0.15"/>
<path d="M626.9 450.2l6.4 11.4h-12.8z" fill-opacity="0.15"/>
<path d="M662.3 517.5l6.4 11.4h-12.8z" fill-opacity="0.15"/>
<path d="M617.3 548.2l6.4 11.4h-12.8z" fill-opacity="0.15"/>
<path d="M630.7 573.1l6.4 11.4h-12.8z" fill-opacity="0.15"/>
<path d="M631.2 570.2l6.4 11.4h-12.8z" fill-opacity="0.15"/>
<path d="M630.9 541.9l6.4 11.4h-12.8z" fill-opacity="0.15"/>
<path d="M628.7 426.8l6.4 11.4h-12.8z" fill-opacity="0.15"/>
<path d="M632.0 577.1l6.4 11.4h-12.8z" fill-opacity="0.15"/>
<path d="M631.8 437.2l6.4 11.4h-12.8z" fill-opacity="0.15"/>
<path d="M633.2 463.9l6.4 11.4h-12.8z" fill-opacity="0.15"/>
<path d="M612.5 468.2l6.4 11.4h-12.8z" fill-opacity="0.15"/>
<path d="M622.1 523.1l6.4 11.4h-12.8z" fill-opacity="0.15"/>
<path d="M664.2 485.6l6.4 11.4h-12.8z" fill-opacity="0.15"/>
<path d="M617.7 533.1l6.4 11.4h-12.8z" fill-opacity="0.15"/>
<path d="M629.8 454.8l6.4 11.4h-12.8z" fill-opacity="0.15"/>
<path d="M629.4 413.8l6.4 11.4h-12.8z" fill-opacity="0.15"/>
<path d="M620.1 552.5l6.4 11.4h-12.8z" fill-opacity="0.15"/>
<path d="M626.8 415.3l6.4 11.4h-12.8z" fill-opacity="0.15"/>
<path d="M605.2 499.4l6.4 11.4h-12.8z" fill-opacity="0.15"/>
<path d="M629.4 497.1l6.4 11.4h-12.8z" fill-opacity="0.15"/>
<path d="M628.6 573.0l6.4 11.4h-12.8z" fill-opacity="0.15"/>
<path d="M641.7 458.4l6.4 11.4h-12.8z" fill-opacity="0.15"/>
<path d="M632.8 561.2l6.4 11.4h-12.8z" fill-opacity="0.15"/>
<path d="M620.9 548.1l6.4 11.4h-12.8z" fill-opacity="0.15"/>
<path d="M623.2 451.3l6.4 11.4h-12.8z" fill-opacity="0.15"/>
<path d="M630.5 447.4l6.4 11.4h-12.8z" fill-opacity="0.15"/>
<path d="M638.1 456.0l6.4 11.4h-12.8z" fill-opacity="0.15"/>
<path d="M619.2 539.0l6.4 11.4h-12.8z" fill-opacity="0.15"/>
<path d="M632.1 571.5l6.4 11.4h-12.8z" fill-opacity="0.15"/>
<path d="M591.7 514.6l6.4 11.4h-12.8z" fill-opacity="0.15"/>
<path d="M623.7 554.2l6.4 11.4h-12.8z" fill-opacity="0.15"/>
<path d="M655.0 508.5l6.4 11.4h-12.8z" fill-opacity="0.15"/>
<path d="M633.3 568.4l6.4 11.4h-12.8z" fill-opacity="0.15"/>
<path d="M622.2 529.8l6.4 11.4h-12.8z" fill-opacity="0.15"/>
<path d="M625.8 508.4l6.4 11.4h-12.8z" fill-opacity="0.15"/>
<path d="M672.9 477.9l6.4 11.4h-12.8z" fill-opacity="0.15"/>
<path d="M627.9 583.2l6.4 11.4h-12.8z" fill-opacity="0.15"/>
<path d="M629.9 598.1l6.4 11.4h-12.8z" fill-opacity="0.15"/>
<path d="M637.2 496.9l6.4 11.4h-12.8z" fill-opacity="0.15"/>
<path d="M632.7 498.6l6.4 11.4h-12.8z" fill-opacity="0.15"/>
<path d="M631.8 562.1l6.4 11.4h-12.8z" fill-opacity="0.15"/>
<path d="M627.1 412.6l6.4 11.4h-12.8z" fill-opacity="0.15"/>
<path d="M619.0 525.1l6.4 11.4h-12.8z" fill-opacity="0.15"/>
<path d="M621.6 561.9l6.4 11.4h-12.8z" fill-opacity="0.15"/>
<path d="M631.3 452.1l6.4 11.4h-12.8z" fill-opacity="0.15"/>
<path d="M626.3 556.1l6.4 11.4h-12.8z" fill-opacity="0.15"/>
<path d="M616.5 506.3l6.4 11.4h-12.8z" fill-opacity="0.15"/>
<path d="M622.7 460.1l6.4 11.4h-12.8z" fill-opacity="0.15"/>
<path d="M632.1 545.2l6.4 11.4h-12.8z" fill-opacity="0.15"/>
<path d="M628.9 417.7l6.4 11.4h-12.8z" fill-opacity="0.15"/>
<path d="M627.8 579.0l6.4 11.4h-12.8z" fill-opacity="0.15"/>
<path d="M630.7 570.6l6.4 11.4h-12.8z" fill-opacity="0.15"/>
<path d="M590.6 500.2l6.4 11.4h-12.8z" fill-opacity="0.15"/>
<path d="M612.3 513.0l6.4 11.4h-12.8z" fill-opacity="0.15"/>
<path d="M628.8 575.9l6.4 11.4h-12.8z" fill-opacity="0.15"/>
<path d="M638.0 544.0l6.4 11.4h-12.8z" fill-opacity="0.15"/>
<path d="M629.1 593.6l6.4 11.4h-12.8z" fill-opacity="0.15"/>
<path d="M597.3 485.6l6.4 11.4h-12.8z" fill-opacity="0.15"/>
<path d="M624.5 568.4l6.4 11.4h-12.8z" fill-opacity="0.15"/>
<path d="M631.8 562.3l6.4 11.4h-12.8z" fill-opacity="0.15"/>
<path d="M659.6 480.2l6.4 11.4h-12.8z" fill-opacity="0.15"/>
<path d="M628.0 586.4l6.4 11.4h-12.8z" fill-opacity="0.15"/>
<path d="M627.7 427.5l6.4 11.4h-12.8z" fill-opacity="0.15"/>
<path d="M616.0 450.0l6.4 11.4h-12.8z" fill-opacity="0.15"/>
<path d="M623.9 480.4l6.4 11.4h-12.8z" fill-opacity="0.15"/>
<path d="M639.3 540.9l6.4 11.4h-12.8z" fill-opacity="0.15"/>
<path d="M656.8 520.6l6.4 11.4h-12.8z" fill-opacity="0.15"/>
<path d="M628.6 446.5l6.4 11.4h-12.8z" fill-opacity="0.15"/>
<path d="M622.1 467.8l6.4 11.4h-12.8z" fill-opacity="0.15"/>
<path d="M628.6 417.7l6.4 11.4h-12.8z" fill-opacity="0.15"/>
<path d="M614.3 531.8l6.4 11.4h-12.8z" fill-opacity="0.15"/>
<path d="M625.5 421.8l6.4 11.4h-12.8z" fill-opacity="0.15"/>
<path d="M666.0 496.6l6.4 11.4h-12.8z" fill-opacity="0.15"/>
<path d="M626.7 568.1l6.4 11.4h-12.8z" fill-opacity="0.15"/>
<path d="M649.8 507.7l6.4 11.4h-12.8z" fill-opacity="0.15"/>
<path d="M647.3 455.6l6.4 11.4h-12.8z" fill-opacity="0.15"/>
<path d="M627.2 478.5l6.4 11.4h-12.8z" fill-opacity="0.15"/>
<path d="M605.0 512.3l6.4 11.4h-12.8z" fill-opacity="0.15"/>
<path d="M640.2 452.6l6.4 11.4h-12.8z" fill-opacity="0.15"/>
<path d="M614.1 477.3l6.4 11.4h-12.8z" fill-opacity="0.15"/>
<path d="M626.4 425.9l6.4 11.4h-12.8z" fill-opacity="0.15"/>
<path d="M589.8 508.5l6.4 11.4h-12.8z" fill-opacity="0.15"/>
<path d="M610.9 507.6l6.4 11.4h-12.8z" fill-opacity="0.15"/>
<path d="M630.6 583.2l6.4 11.4h-12.8z" fill-opacity="0.15"/>
<path d="M648.5 511.7l6.4 11.4h-12.8z" fill-opacity="0.15"/>
<path d="M608.6 472.0l6.4 11.4h-12.8z" fill-opacity="0.15"/>
<path d="M611.9 535.6l6.4 11.4h-12.8z" fill-opacity="0.15"/>
<path d="M656.6 504.4l6.4 11.4h-12.8z" fill-opacity="0.15"/>
<path d="M632.3 436.8l6.4 11.4h-12.8z" fill-opacity="0.15"/>
<path d="M633.8 444.4l6.4 11.4h-12.8z" fill-opacity="0.15"/>
<path d="M627.3 443.8l6.4 11.4h-12.8z" fill-opacity="0.15"/>
<path d="M589.8 478.1l6.4 11.4h-12.8z" fill-opacity="0.15"/>
<path d="M609.8 529.5l6.4 11.4h-12.8z" fill-opacity="0.15"/>
<path d="M627.9 529.9l6.4 11.4h-12.8z" fill-opacity="0.15"/>
<path d="M627.9 574.5l6.4 11.4h-12.8z" fill-opacity="0.15"/>
<path d="M628.1 411.4l6.4 11.4h-12.8z" fill-opacity="0.15"/>
<path d="M614.8 545.0l6.4 11.4h-12.8z" fill-opacity="0.15"/>
<path d="M621.7 436.6l6.4 11.4h-12.8z" fill-opacity="0.15"/>
<path d="M625.1 564.2l6.4 11.4h-12.8z" fill-opacity="0.15"/>
<path d="M629.9 427.5l6.4 11.4h-12.8z" fill-opacity="0.15"/>
<path d="M631.4 452.7l6.4 11.4h-12.8z" fill-opacity="0.15"/>
<path d="M630.3 560.0l6.4 11.4h-12.8z" fill-opacity="0.15"/>
<path d="M625.9 568.7l6.4 11.4h-12.8z" fill-opacity="0.15"/>
<path d="M630.5 551.9l6.4 11.4h-12.8z" fill-opacity="0.15"/>
<path d="M641.8 481.5l6.4 11.4h-12.8z" fill-opacity="0.15"/>
<path d="M613.4 532.0l6.4 11.4h-12.8z" fill-opacity="0.15"/>
<path d="M630.1 452.6l6.4 11.4h-12.8z" fill-opacity="0.15"/>
<path d="M627.3 441.2l6.4 11.4h-12.8z" fill-opacity="0.15"/>
<path d="M632.0 476.7l6.4 11.4h-12.8z" fill-opacity="0.15"/>
<path d="M630.1 433.7l6.4 11.4h-12.8z" fill-opacity="0.15"/>
<path d="M628.2 550.4l6.4 11.4h-12.8z" fill-opacity="0.15"/>
<path d="M612.4 466.8l6.4 11.4h-12.8z" fill-opacity="0.15"/>
<path d="M632.1 576.5l6.4 11.4h-12.8z" fill-opacity="0.15"/>
<path d="M625.8 561.1l6.4 11.4h-12.8z" fill-opacity="0.15"/>
<path d="M627.5 568.9l6.4 11.4h-12.8z" fill-opacity="0.15"/>
<path d="M627.2 443.4l6.4 11.4h-12.8z" fill-opacity="0.15"/>
<path d="M628.4 372.2l6.4 11.4h-12.8z" fill-opacity="0.15"/>
<path d="M628.4 612.7l6.4 11.4h-12.8z" fill-opacity="0.15"/>
<path d="M628.4 617.7l6.4 11.4h-12.8z" fill-opacity="0.15"/>
<path d="M628.4 622.7l6.4 11.4h-12.8z" fill-opacity="0.2"/>
<path d="M628.4 627.7l6.4 11.4h-12.8z" fill-opacity="0.2"/>
<path d="M628.4 633.2l6.4 11.4h-12.8z" fill-opacity="0.15"/>
<path d="M628.4 637.7l6.4 11.4h-12.8z" fill-opacity="0.15"/>
</g>
<rect x="268" y="516.5" width="55" height="6.4" fill="#000" fill-opacity="0.35"/>
<rect x="601" y="465.5" width="55" height="6.4" fill="#000" fill-opacity="0.5"/>
<rect x="601" y="538.5" width="55" height="6.4" fill="#000" fill-opacity="0.5"/>
<rect x="240.3" y="483.5" width="110.4" height="6.2" fill="#f8000a"/>
<rect x="406.8" y="486.2" width="110.4" height="6.4" fill="#f8000a"/>
<rect x="573" y="502.6" width="111" height="6.3" fill="#f8000a"/>
<text x="810.59" y="42.60" font-size="60.29" font-weight="bold" textLength="41.20" lengthAdjust="spacingAndGlyphs" fill="#000">B</text>
<path d="M977.0 35.7H1507.0V565.0H977.0Z" fill="none" stroke="#000" stroke-width="6.1"/>
<path d="M963.4 35.7H977.0" stroke="#000" stroke-width="5.8"/>
<path d="M968.7 101.9H977.0" stroke="#000" stroke-width="5.8"/>
<path d="M963.4 168.0H977.0" stroke="#000" stroke-width="5.8"/>
<path d="M968.7 234.2H977.0" stroke="#000" stroke-width="5.8"/>
<path d="M963.4 300.3H977.0" stroke="#000" stroke-width="5.8"/>
<path d="M968.7 366.5H977.0" stroke="#000" stroke-width="5.8"/>
<path d="M963.4 432.7H977.0" stroke="#000" stroke-width="5.8"/>
<path d="M968.7 498.8H977.0" stroke="#000" stroke-width="5.8"/>
<path d="M963.4 565.0H977.0" stroke="#000" stroke-width="5.8"/>
<text x="915.28" y="47.70" font-size="32.14" font-weight="bold" textLength="44.40" lengthAdjust="spacingAndGlyphs" fill="#000">1.0</text>
<text x="915.96" y="180.02" font-size="32.14" font-weight="bold" textLength="43.23" lengthAdjust="spacingAndGlyphs" fill="#000">0.5</text>
<text x="915.94" y="312.35" font-size="32.14" font-weight="bold" textLength="43.72" lengthAdjust="spacingAndGlyphs" fill="#000">0.0</text>
<text x="904.84" y="444.67" font-size="32.14" font-weight="bold" textLength="54.46" lengthAdjust="spacingAndGlyphs" fill="#000">-0.5</text>
<text x="904.82" y="577.00" font-size="32.14" font-weight="bold" textLength="54.95" lengthAdjust="spacingAndGlyphs" fill="#000">-1.0</text>
<path d="M977.0 565.0V578.6" stroke="#000" stroke-width="5.8"/>
<path d="M1043.2 565.0V573.4" stroke="#000" stroke-width="5.8"/>
<path d="M1109.5 565.0V578.6" stroke="#000" stroke-width="5.8"/>
<path d="M1175.8 565.0V573.4" stroke="#000" stroke-width="5.8"/>
<path d="M1242.0 565.0V578.6" stroke="#000" stroke-width="5.8"/>
<path d="M1308.2 565.0V573.4" stroke="#000" stroke-width="5.8"/>
<path d="M1374.5 565.0V578.6" stroke="#000" stroke-width="5.8"/>
<path d="M1440.8 565.0V573.4" stroke="#000" stroke-width="5.8"/>
<path d="M1507.0 565.0V578.6" stroke="#000" stroke-width="5.8"/>
<text x="949.73" y="613.50" font-size="31.00" font-weight="bold" textLength="54.64" lengthAdjust="spacingAndGlyphs" fill="#000">-1.0</text>
<text x="1082.24" y="613.50" font-size="31.00" font-weight="bold" textLength="54.14" lengthAdjust="spacingAndGlyphs" fill="#000">-0.5</text>
<text x="1220.25" y="613.50" font-size="31.00" font-weight="bold" textLength="43.51" lengthAdjust="spacingAndGlyphs" fill="#000">0.0</text>
<text x="1352.76" y="613.50" font-size="31.00" font-weight="bold" textLength="43.02" lengthAdjust="spacingAndGlyphs" fill="#000">0.5</text>
<text x="1484.82" y="613.50" font-size="31.00" font-weight="bold" textLength="43.64" lengthAdjust="spacingAndGlyphs" fill="#000">1.0</text>
<text x="1191.16" y="672.40" font-size="41.59" font-weight="bold" textLength="94.64" lengthAdjust="spacingAndGlyphs" fill="#000">LTN1</text>
<text x="885.16" y="354.80" font-size="42.17" font-weight="bold" textLength="115.09" lengthAdjust="spacingAndGlyphs" fill="#000" transform="rotate(-90 887.80 354.80)">NEMF</text>
<text x="1008.32" y="80.60" font-size="35.71" font-weight="normal" textLength="159.13" lengthAdjust="spacingAndGlyphs" fill="#000">r = 0.2696</text>
<text x="1008.62" y="120.30" font-size="36.14" font-weight="normal" textLength="150.14" lengthAdjust="spacingAndGlyphs" fill="#000">p &lt;0.0001</text>
<g fill="#000" fill-opacity="0.17"><circle cx="1218.0" cy="340.6" r="6.3"/><circle cx="1224.9" cy="361.4" r="6.3"/><circle cx="1211.7" cy="366.1" r="6.3"/><circle cx="1197.5" cy="316.9" r="6.3"/><circle cx="1207.5" cy="341.4" r="6.3"/><circle cx="1195.2" cy="371.8" r="6.3"/><circle cx="1219.4" cy="354.3" r="6.3"/><circle cx="1248.8" cy="350.3" r="6.3"/><circle cx="1206.7" cy="389.0" r="6.3"/><circle cx="1203.7" cy="328.7" r="6.3"/><circle cx="1229.3" cy="349.2" r="6.3"/><circle cx="1226.2" cy="333.0" r="6.3"/><circle cx="1220.4" cy="387.2" r="6.3"/><circle cx="1196.6" cy="294.3" r="6.3"/><circle cx="1217.3" cy="328.9" r="6.3"/><circle cx="1234.0" cy="332.7" r="6.3"/><circle cx="1187.1" cy="364.9" r="6.3"/><circle cx="1207.5" cy="363.4" r="6.3"/><circle cx="1188.3" cy="304.5" r="6.3"/><circle cx="1212.6" cy="339.1" r="6.3"/><circle cx="1188.8" cy="329.0" r="6.3"/><circle cx="1224.2" cy="361.6" r="6.3"/><circle cx="1221.6" cy="322.2" r="6.3"/><circle cx="1213.7" cy="290.9" r="6.3"/><circle cx="1160.1" cy="337.0" r="6.3"/><circle cx="1205.6" cy="306.6" r="6.3"/><circle cx="1216.9" cy="329.5" r="6.3"/><circle cx="1220.6" cy="357.0" r="6.3"/><circle cx="1182.8" cy="355.4" r="6.3"/><circle cx="1207.0" cy="389.8" r="6.3"/><circle cx="1195.5" cy="341.6" r="6.3"/><circle cx="1199.4" cy="305.6" r="6.3"/><circle cx="1242.4" cy="326.6" r="6.3"/><circle cx="1199.4" cy="322.2" r="6.3"/><circle cx="1217.3" cy="314.1" r="6.3"/><circle cx="1238.3" cy="358.8" r="6.3"/><circle cx="1204.6" cy="329.6" r="6.3"/><circle cx="1215.4" cy="293.6" r="6.3"/><circle cx="1220.5" cy="365.8" r="6.3"/><circle cx="1219.5" cy="344.0" r="6.3"/><circle cx="1189.8" cy="356.6" r="6.3"/><circle cx="1219.8" cy="349.9" r="6.3"/><circle cx="1249.3" cy="364.1" r="6.3"/><circle cx="1182.4" cy="348.0" r="6.3"/><circle cx="1237.8" cy="380.4" r="6.3"/><circle cx="1220.7" cy="358.5" r="6.3"/><circle cx="1203.2" cy="357.6" r="6.3"/><circle cx="1264.0" cy="358.1" r="6.3"/><circle cx="1235.5" cy="307.7" r="6.3"/><circle cx="1190.4" cy="342.6" r="6.3"/><circle cx="1219.7" cy="340.0" r="6.3"/><circle cx="1231.3" cy="352.6" r="6.3"/><circle cx="1213.7" cy="310.3" r="6.3"/><circle cx="1233.7" cy="391.1" r="6.3"/><circle cx="1216.5" cy="349.8" r="6.3"/><circle cx="1233.3" cy="314.3" r="6.3"/><circle cx="1251.1" cy="300.9" r="6.3"/><circle cx="1202.5" cy="339.4" r="6.3"/><circle cx="1222.7" cy="344.6" r="6.3"/><circle cx="1207.3" cy="327.6" r="6.3"/><circle cx="1220.9" cy="349.5" r="6.3"/><circle cx="1190.7" cy="329.7" r="6.3"/><circle cx="1204.7" cy="361.9" r="6.3"/><circle cx="1213.5" cy="327.4" r="6.3"/><circle cx="1238.7" cy="346.0" r="6.3"/><circle cx="1244.3" cy="373.4" r="6.3"/><circle cx="1187.6" cy="416.4" r="6.3"/><circle cx="1199.7" cy="319.8" r="6.3"/><circle cx="1232.9" cy="334.5" r="6.3"/><circle cx="1172.2" cy="324.3" r="6.3"/><circle cx="1207.3" cy="368.2" r="6.3"/><circle cx="1215.8" cy="316.0" r="6.3"/><circle cx="1246.9" cy="333.9" r="6.3"/><circle cx="1233.9" cy="346.2" r="6.3"/><circle cx="1210.5" cy="320.6" r="6.3"/><circle cx="1209.5" cy="321.2" r="6.3"/><circle cx="1212.2" cy="334.2" r="6.3"/><circle cx="1253.0" cy="290.3" r="6.3"/><circle cx="1208.2" cy="308.0" r="6.3"/><circle cx="1211.0" cy="335.8" r="6.3"/><circle cx="1226.1" cy="351.0" r="6.3"/><circle cx="1215.2" cy="342.0" r="6.3"/><circle cx="1213.5" cy="299.1" r="6.3"/><circle cx="1192.4" cy="334.5" r="6.3"/><circle cx="1217.7" cy="368.6" r="6.3"/><circle cx="1207.8" cy="362.0" r="6.3"/><circle cx="1244.8" cy="344.9" r="6.3"/><circle cx="1233.0" cy="323.0" r="6.3"/><circle cx="1217.4" cy="364.0" r="6.3"/><circle cx="1233.4" cy="331.4" r="6.3"/><circle cx="1210.2" cy="315.4" r="6.3"/><circle cx="1242.2" cy="325.3" r="6.3"/><circle cx="1217.9" cy="386.1" r="6.3"/><circle cx="1231.4" cy="352.9" r="6.3"/><circle cx="1188.3" cy="378.3" r="6.3"/><circle cx="1226.0" cy="334.1" r="6.3"/><circle cx="1179.2" cy="372.3" r="6.3"/><circle cx="1171.2" cy="330.8" r="6.3"/><circle cx="1211.0" cy="342.7" r="6.3"/><circle cx="1197.3" cy="414.1" r="6.3"/><circle cx="1221.8" cy="367.7" r="6.3"/><circle cx="1269.6" cy="333.5" r="6.3"/><circle cx="1198.9" cy="344.7" r="6.3"/><circle cx="1203.6" cy="355.8" r="6.3"/><circle cx="1222.7" cy="379.7" r="6.3"/><circle cx="1229.3" cy="333.8" r="6.3"/><circle cx="1213.9" cy="300.0" r="6.3"/><circle cx="1213.3" cy="339.4" r="6.3"/><circle cx="1234.2" cy="347.4" r="6.3"/><circle cx="1230.0" cy="350.0" r="6.3"/><circle cx="1194.2" cy="382.6" r="6.3"/><circle cx="1216.2" cy="355.6" r="6.3"/><circle cx="1218.8" cy="368.9" r="6.3"/><circle cx="1193.7" cy="317.3" r="6.3"/><circle cx="1224.0" cy="370.4" r="6.3"/><circle cx="1198.3" cy="403.6" r="6.3"/><circle cx="1240.4" cy="367.9" r="6.3"/><circle cx="1222.4" cy="353.8" r="6.3"/><circle cx="1220.1" cy="351.2" r="6.3"/><circle cx="1204.4" cy="395.3" r="6.3"/><circle cx="1215.3" cy="322.0" r="6.3"/><circle cx="1172.1" cy="344.0" r="6.3"/><circle cx="1192.0" cy="359.4" r="6.3"/><circle cx="1226.3" cy="367.1" r="6.3"/><circle cx="1169.0" cy="335.2" r="6.3"/><circle cx="1237.5" cy="355.3" r="6.3"/><circle cx="1177.8" cy="339.5" r="6.3"/><circle cx="1235.4" cy="350.3" r="6.3"/><circle cx="1198.6" cy="343.4" r="6.3"/><circle cx="1235.9" cy="316.2" r="6.3"/><circle cx="1221.0" cy="346.4" r="6.3"/><circle cx="1182.7" cy="370.7" r="6.3"/><circle cx="1246.7" cy="320.9" r="6.3"/><circle cx="1251.2" cy="340.5" r="6.3"/><circle cx="1216.5" cy="364.9" r="6.3"/><circle cx="1211.7" cy="318.1" r="6.3"/><circle cx="1214.3" cy="351.9" r="6.3"/><circle cx="1195.6" cy="318.4" r="6.3"/><circle cx="1243.3" cy="377.6" r="6.3"/><circle cx="1205.5" cy="409.4" r="6.3"/><circle cx="1216.8" cy="401.6" r="6.3"/><circle cx="1199.8" cy="341.1" r="6.3"/><circle cx="1203.6" cy="367.0" r="6.3"/><circle cx="1188.6" cy="350.3" r="6.3"/><circle cx="1246.9" cy="349.8" r="6.3"/><circle cx="1214.5" cy="388.8" r="6.3"/><circle cx="1240.2" cy="311.4" r="6.3"/><circle cx="1218.3" cy="375.5" r="6.3"/><circle cx="1202.0" cy="345.7" r="6.3"/><circle cx="1210.5" cy="385.0" r="6.3"/><circle cx="1205.1" cy="352.1" r="6.3"/><circle cx="1218.2" cy="328.8" r="6.3"/><circle cx="1209.4" cy="354.5" r="6.3"/><circle cx="1211.1" cy="366.9" r="6.3"/><circle cx="1186.3" cy="348.0" r="6.3"/><circle cx="1199.4" cy="360.2" r="6.3"/><circle cx="1256.0" cy="332.9" r="6.3"/><circle cx="1202.6" cy="289.4" r="6.3"/><circle cx="1193.8" cy="371.3" r="6.3"/><circle cx="1225.8" cy="365.9" r="6.3"/><circle cx="1250.4" cy="351.0" r="6.3"/><circle cx="1184.6" cy="348.8" r="6.3"/><circle cx="1213.2" cy="375.0" r="6.3"/><circle cx="1203.5" cy="334.7" r="6.3"/><circle cx="1177.5" cy="327.9" r="6.3"/><circle cx="1234.9" cy="341.9" r="6.3"/><circle cx="1217.5" cy="379.1" r="6.3"/><circle cx="1219.6" cy="309.5" r="6.3"/><circle cx="1200.7" cy="379.2" r="6.3"/><circle cx="1228.5" cy="329.7" r="6.3"/><circle cx="1205.6" cy="317.3" r="6.3"/><circle cx="1214.7" cy="381.0" r="6.3"/><circle cx="1192.5" cy="344.4" r="6.3"/><circle cx="1190.0" cy="311.9" r="6.3"/><circle cx="1248.7" cy="337.3" r="6.3"/><circle cx="1206.3" cy="372.1" r="6.3"/><circle cx="1224.7" cy="379.2" r="6.3"/><circle cx="1217.2" cy="335.5" r="6.3"/><circle cx="1207.9" cy="358.0" r="6.3"/><circle cx="1206.3" cy="366.3" r="6.3"/><circle cx="1232.5" cy="329.6" r="6.3"/><circle cx="1211.1" cy="356.6" r="6.3"/><circle cx="1214.5" cy="346.1" r="6.3"/><circle cx="1218.5" cy="332.5" r="6.3"/><circle cx="1245.1" cy="333.7" r="6.3"/><circle cx="1233.7" cy="348.8" r="6.3"/><circle cx="1226.8" cy="347.8" r="6.3"/><circle cx="1205.0" cy="331.7" r="6.3"/><circle cx="1186.2" cy="335.5" r="6.3"/><circle cx="1239.8" cy="377.1" r="6.3"/><circle cx="1240.2" cy="352.8" r="6.3"/><circle cx="1214.8" cy="370.9" r="6.3"/><circle cx="1230.5" cy="379.4" r="6.3"/><circle cx="1236.0" cy="362.9" r="6.3"/><circle cx="1237.1" cy="408.3" r="6.3"/><circle cx="1239.2" cy="324.7" r="6.3"/><circle cx="1207.5" cy="368.8" r="6.3"/><circle cx="1252.8" cy="338.4" r="6.3"/><circle cx="1189.3" cy="397.1" r="6.3"/><circle cx="1237.8" cy="392.9" r="6.3"/><circle cx="1229.4" cy="294.2" r="6.3"/><circle cx="1238.1" cy="320.8" r="6.3"/><circle cx="1261.2" cy="364.9" r="6.3"/><circle cx="1252.1" cy="368.3" r="6.3"/><circle cx="1191.7" cy="366.9" r="6.3"/><circle cx="1179.2" cy="345.1" r="6.3"/><circle cx="1236.8" cy="359.3" r="6.3"/><circle cx="1194.7" cy="364.6" r="6.3"/><circle cx="1217.7" cy="344.9" r="6.3"/><circle cx="1237.3" cy="374.7" r="6.3"/><circle cx="1180.2" cy="286.0" r="6.3"/><circle cx="1169.5" cy="364.1" r="6.3"/><circle cx="1224.0" cy="319.1" r="6.3"/><circle cx="1219.0" cy="372.9" r="6.3"/><circle cx="1212.3" cy="340.8" r="6.3"/><circle cx="1218.9" cy="323.0" r="6.3"/><circle cx="1198.2" cy="357.1" r="6.3"/><circle cx="1183.2" cy="322.4" r="6.3"/><circle cx="1214.2" cy="322.4" r="6.3"/><circle cx="1195.7" cy="304.7" r="6.3"/><circle cx="1180.2" cy="346.3" r="6.3"/><circle cx="1229.6" cy="360.4" r="6.3"/><circle cx="1216.6" cy="374.6" r="6.3"/><circle cx="1227.4" cy="343.2" r="6.3"/><circle cx="1195.2" cy="375.3" r="6.3"/><circle cx="1202.9" cy="347.5" r="6.3"/><circle cx="1195.0" cy="344.5" r="6.3"/><circle cx="1197.6" cy="362.5" r="6.3"/><circle cx="1222.5" cy="375.6" r="6.3"/><circle cx="1200.0" cy="337.8" r="6.3"/><circle cx="1226.2" cy="340.4" r="6.3"/><circle cx="1225.8" cy="342.7" r="6.3"/><circle cx="1264.6" cy="349.2" r="6.3"/><circle cx="1186.0" cy="322.7" r="6.3"/><circle cx="1238.4" cy="374.8" r="6.3"/><circle cx="1215.9" cy="336.2" r="6.3"/><circle cx="1217.7" cy="359.5" r="6.3"/><circle cx="1184.7" cy="324.7" r="6.3"/><circle cx="1207.4" cy="356.7" r="6.3"/><circle cx="1235.1" cy="357.6" r="6.3"/><circle cx="1216.1" cy="335.6" r="6.3"/><circle cx="1219.9" cy="401.6" r="6.3"/><circle cx="1211.3" cy="357.0" r="6.3"/><circle cx="1244.6" cy="395.0" r="6.3"/><circle cx="1217.5" cy="372.9" r="6.3"/><circle cx="1167.4" cy="329.1" r="6.3"/><circle cx="1202.1" cy="336.7" r="6.3"/><circle cx="1172.7" cy="358.8" r="6.3"/><circle cx="1205.8" cy="348.3" r="6.3"/><circle cx="1248.7" cy="339.3" r="6.3"/><circle cx="1219.1" cy="298.2" r="6.3"/><circle cx="1191.0" cy="340.9" r="6.3"/><circle cx="1196.4" cy="287.1" r="6.3"/><circle cx="1244.0" cy="357.0" r="6.3"/><circle cx="1221.6" cy="327.4" r="6.3"/><circle cx="1219.1" cy="327.7" r="6.3"/><circle cx="1216.8" cy="341.1" r="6.3"/><circle cx="1218.9" cy="354.4" r="6.3"/><circle cx="1236.5" cy="308.3" r="6.3"/><circle cx="1230.7" cy="299.8" r="6.3"/><circle cx="1223.0" cy="318.2" r="6.3"/><circle cx="1194.0" cy="291.9" r="6.3"/><circle cx="1229.8" cy="320.9" r="6.3"/><circle cx="1202.3" cy="390.0" r="6.3"/><circle cx="1243.2" cy="318.5" r="6.3"/><circle cx="1188.8" cy="364.6" r="6.3"/><circle cx="1214.8" cy="310.0" r="6.3"/><circle cx="1217.8" cy="355.1" r="6.3"/><circle cx="1187.5" cy="338.4" r="6.3"/><circle cx="1257.6" cy="345.4" r="6.3"/><circle cx="1251.6" cy="362.4" r="6.3"/><circle cx="1207.3" cy="394.4" r="6.3"/><circle cx="1235.7" cy="352.3" r="6.3"/><circle cx="1226.7" cy="350.4" r="6.3"/><circle cx="1157.9" cy="320.7" r="6.3"/><circle cx="1223.8" cy="362.8" r="6.3"/><circle cx="1216.6" cy="340.4" r="6.3"/><circle cx="1219.9" cy="369.5" r="6.3"/><circle cx="1193.2" cy="345.8" r="6.3"/><circle cx="1211.8" cy="394.0" r="6.3"/><circle cx="1213.9" cy="293.5" r="6.3"/><circle cx="1245.3" cy="339.0" r="6.3"/><circle cx="1225.7" cy="370.8" r="6.3"/><circle cx="1217.9" cy="337.5" r="6.3"/><circle cx="1253.2" cy="325.6" r="6.3"/><circle cx="1205.2" cy="339.8" r="6.3"/><circle cx="1209.0" cy="309.7" r="6.3"/><circle cx="1176.2" cy="350.2" r="6.3"/><circle cx="1254.1" cy="412.9" r="6.3"/><circle cx="1240.2" cy="377.9" r="6.3"/><circle cx="1239.1" cy="317.1" r="6.3"/><circle cx="1233.4" cy="323.4" r="6.3"/><circle cx="1220.5" cy="336.1" r="6.3"/><circle cx="1223.0" cy="374.1" r="6.3"/><circle cx="1212.2" cy="324.8" r="6.3"/><circle cx="1213.3" cy="328.4" r="6.3"/><circle cx="1219.2" cy="370.9" r="6.3"/><circle cx="1252.8" cy="370.3" r="6.3"/><circle cx="1230.8" cy="336.9" r="6.3"/><circle cx="1216.7" cy="316.8" r="6.3"/><circle cx="1204.7" cy="305.2" r="6.3"/><circle cx="1203.4" cy="328.1" r="6.3"/><circle cx="1254.9" cy="286.8" r="6.3"/><circle cx="1229.7" cy="367.2" r="6.3"/><circle cx="1219.6" cy="330.0" r="6.3"/><circle cx="1210.0" cy="360.0" r="6.3"/><circle cx="1192.5" cy="397.4" r="6.3"/><circle cx="1216.5" cy="378.7" r="6.3"/><circle cx="1238.1" cy="315.9" r="6.3"/><circle cx="1209.0" cy="370.5" r="6.3"/><circle cx="1212.8" cy="378.3" r="6.3"/><circle cx="1212.9" cy="326.8" r="6.3"/><circle cx="1220.5" cy="321.3" r="6.3"/><circle cx="1181.4" cy="344.0" r="6.3"/><circle cx="1212.6" cy="303.8" r="6.3"/><circle cx="1198.3" cy="386.7" r="6.3"/><circle cx="1238.3" cy="282.1" r="6.3"/><circle cx="1200.3" cy="317.1" r="6.3"/><circle cx="1231.3" cy="339.7" r="6.3"/><circle cx="1253.1" cy="340.9" r="6.3"/><circle cx="1210.8" cy="351.5" r="6.3"/><circle cx="1204.2" cy="354.3" r="6.3"/><circle cx="1222.4" cy="341.2" r="6.3"/><circle cx="1218.0" cy="377.7" r="6.3"/><circle cx="1195.1" cy="289.2" r="6.3"/><circle cx="1228.6" cy="347.0" r="6.3"/><circle cx="1264.4" cy="327.7" r="6.3"/><circle cx="1212.1" cy="350.6" r="6.3"/><circle cx="1213.3" cy="353.0" r="6.3"/><circle cx="1194.0" cy="322.4" r="6.3"/><circle cx="1225.3" cy="329.7" r="6.3"/><circle cx="1189.3" cy="368.4" r="6.3"/><circle cx="1192.5" cy="356.4" r="6.3"/><circle cx="1247.4" cy="328.6" r="6.3"/><circle cx="1197.2" cy="402.1" r="6.3"/><circle cx="1242.9" cy="409.3" r="6.3"/><circle cx="1253.1" cy="307.5" r="6.3"/><circle cx="1224.0" cy="355.1" r="6.3"/><circle cx="1230.7" cy="414.7" r="6.3"/><circle cx="1262.9" cy="368.2" r="6.3"/><circle cx="1213.5" cy="353.0" r="6.3"/><circle cx="1204.4" cy="341.4" r="6.3"/><circle cx="1186.9" cy="332.4" r="6.3"/><circle cx="1219.0" cy="341.3" r="6.3"/><circle cx="1252.0" cy="332.1" r="6.3"/><circle cx="1240.1" cy="367.1" r="6.3"/><circle cx="1196.3" cy="336.2" r="6.3"/><circle cx="1198.3" cy="335.1" r="6.3"/><circle cx="1206.4" cy="314.5" r="6.3"/><circle cx="1224.7" cy="345.7" r="6.3"/><circle cx="1213.3" cy="322.9" r="6.3"/><circle cx="1222.9" cy="342.1" r="6.3"/><circle cx="1224.8" cy="375.1" r="6.3"/><circle cx="1211.1" cy="356.9" r="6.3"/><circle cx="1217.1" cy="360.6" r="6.3"/><circle cx="1222.8" cy="356.6" r="6.3"/><circle cx="1216.1" cy="348.6" r="6.3"/><circle cx="1229.6" cy="343.6" r="6.3"/><circle cx="1261.0" cy="338.7" r="6.3"/><circle cx="1231.6" cy="367.5" r="6.3"/><circle cx="1219.3" cy="317.7" r="6.3"/><circle cx="1179.2" cy="383.2" r="6.3"/><circle cx="1226.9" cy="347.9" r="6.3"/><circle cx="1173.2" cy="326.8" r="6.3"/><circle cx="1185.6" cy="333.8" r="6.3"/><circle cx="1237.7" cy="328.7" r="6.3"/><circle cx="1234.2" cy="351.3" r="6.3"/><circle cx="1214.6" cy="327.6" r="6.3"/><circle cx="1178.7" cy="377.8" r="6.3"/><circle cx="1209.5" cy="325.9" r="6.3"/><circle cx="1202.4" cy="285.6" r="6.3"/><circle cx="1232.6" cy="327.3" r="6.3"/><circle cx="1269.9" cy="292.8" r="6.3"/><circle cx="1223.0" cy="345.9" r="6.3"/><circle cx="1200.1" cy="375.6" r="6.3"/><circle cx="1191.1" cy="364.5" r="6.3"/><circle cx="1216.7" cy="310.9" r="6.3"/><circle cx="1213.9" cy="326.4" r="6.3"/><circle cx="1191.5" cy="395.0" r="6.3"/><circle cx="1220.7" cy="355.6" r="6.3"/><circle cx="1191.5" cy="347.1" r="6.3"/><circle cx="1243.6" cy="375.5" r="6.3"/><circle cx="1242.4" cy="413.2" r="6.3"/><circle cx="1242.9" cy="382.0" r="6.3"/><circle cx="1207.1" cy="350.8" r="6.3"/><circle cx="1229.8" cy="356.6" r="6.3"/><circle cx="1215.0" cy="363.7" r="6.3"/><circle cx="1209.1" cy="330.5" r="6.3"/><circle cx="1210.2" cy="318.4" r="6.3"/><circle cx="1188.1" cy="348.4" r="6.3"/><circle cx="1184.8" cy="321.4" r="6.3"/><circle cx="1236.3" cy="345.3" r="6.3"/><circle cx="1213.6" cy="349.6" r="6.3"/><circle cx="1223.0" cy="410.2" r="6.3"/><circle cx="1241.0" cy="324.0" r="6.3"/><circle cx="1178.1" cy="343.7" r="6.3"/><circle cx="1200.0" cy="342.6" r="6.3"/><circle cx="1222.0" cy="358.8" r="6.3"/><circle cx="1227.0" cy="375.3" r="6.3"/><circle cx="1209.3" cy="333.8" r="6.3"/><circle cx="1241.7" cy="324.8" r="6.3"/><circle cx="1222.8" cy="302.7" r="6.3"/><circle cx="1190.1" cy="322.0" r="6.3"/><circle cx="1196.6" cy="361.5" r="6.3"/><circle cx="1236.5" cy="348.2" r="6.3"/><circle cx="1228.7" cy="319.6" r="6.3"/><circle cx="1174.3" cy="336.9" r="6.3"/><circle cx="1249.0" cy="347.8" r="6.3"/><circle cx="1231.8" cy="360.6" r="6.3"/><circle cx="1248.9" cy="331.0" r="6.3"/><circle cx="1209.2" cy="340.2" r="6.3"/><circle cx="1211.2" cy="297.9" r="6.3"/><circle cx="1192.1" cy="315.9" r="6.3"/><circle cx="1276.3" cy="390.7" r="6.3"/><circle cx="1214.0" cy="287.9" r="6.3"/><circle cx="1254.5" cy="337.9" r="6.3"/><circle cx="1203.1" cy="352.9" r="6.3"/><circle cx="1221.8" cy="336.9" r="6.3"/><circle cx="1179.6" cy="325.2" r="6.3"/><circle cx="1209.2" cy="345.4" r="6.3"/><circle cx="1240.6" cy="346.9" r="6.3"/><circle cx="1189.2" cy="344.8" r="6.3"/><circle cx="1242.7" cy="296.3" r="6.3"/><circle cx="1225.8" cy="343.0" r="6.3"/><circle cx="1194.0" cy="323.9" r="6.3"/><circle cx="1206.5" cy="332.2" r="6.3"/><circle cx="1207.4" cy="353.1" r="6.3"/><circle cx="1216.9" cy="364.3" r="6.3"/><circle cx="1205.7" cy="371.2" r="6.3"/><circle cx="1199.0" cy="333.6" r="6.3"/><circle cx="1211.0" cy="371.9" r="6.3"/><circle cx="1194.4" cy="378.7" r="6.3"/><circle cx="1188.3" cy="377.7" r="6.3"/><circle cx="1216.9" cy="384.5" r="6.3"/><circle cx="1238.3" cy="343.1" r="6.3"/><circle cx="1182.8" cy="342.3" r="6.3"/><circle cx="1218.1" cy="369.3" r="6.3"/><circle cx="1203.1" cy="310.1" r="6.3"/><circle cx="1195.5" cy="352.7" r="6.3"/><circle cx="1237.6" cy="332.7" r="6.3"/><circle cx="1206.1" cy="337.0" r="6.3"/><circle cx="1252.5" cy="300.0" r="6.3"/><circle cx="1200.1" cy="323.0" r="6.3"/><circle cx="1226.9" cy="346.4" r="6.3"/><circle cx="1212.8" cy="371.0" r="6.3"/><circle cx="1200.7" cy="373.7" r="6.3"/><circle cx="1231.5" cy="344.8" r="6.3"/><circle cx="1214.4" cy="341.9" r="6.3"/><circle cx="1231.9" cy="324.6" r="6.3"/><circle cx="1216.9" cy="357.9" r="6.3"/><circle cx="1193.0" cy="340.3" r="6.3"/><circle cx="1215.7" cy="363.4" r="6.3"/><circle cx="1219.2" cy="394.3" r="6.3"/><circle cx="1240.0" cy="346.1" r="6.3"/><circle cx="1197.2" cy="306.6" r="6.3"/><circle cx="1217.1" cy="323.8" r="6.3"/><circle cx="1178.4" cy="307.6" r="6.3"/><circle cx="1233.0" cy="314.7" r="6.3"/><circle cx="1193.1" cy="382.2" r="6.3"/><circle cx="1176.5" cy="353.1" r="6.3"/><circle cx="1216.6" cy="306.0" r="6.3"/><circle cx="1243.4" cy="364.6" r="6.3"/><circle cx="1182.9" cy="381.0" r="6.3"/><circle cx="1193.0" cy="337.3" r="6.3"/><circle cx="1200.9" cy="328.7" r="6.3"/><circle cx="1192.0" cy="337.9" r="6.3"/><circle cx="1226.7" cy="354.7" r="6.3"/><circle cx="1199.4" cy="364.3" r="6.3"/><circle cx="1201.4" cy="378.9" r="6.3"/><circle cx="1231.4" cy="379.7" r="6.3"/><circle cx="1200.6" cy="379.0" r="6.3"/><circle cx="1228.0" cy="383.8" r="6.3"/><circle cx="1195.7" cy="364.9" r="6.3"/><circle cx="1190.1" cy="305.7" r="6.3"/><circle cx="1175.8" cy="343.5" r="6.3"/><circle cx="1260.8" cy="355.5" r="6.3"/><circle cx="1210.6" cy="336.7" r="6.3"/><circle cx="1223.6" cy="371.6" r="6.3"/><circle cx="1217.3" cy="337.3" r="6.3"/><circle cx="1221.7" cy="322.0" r="6.3"/><circle cx="1219.1" cy="386.0" r="6.3"/><circle cx="1261.9" cy="365.0" r="6.3"/><circle cx="1194.1" cy="352.9" r="6.3"/><circle cx="1182.2" cy="372.0" r="6.3"/><circle cx="1194.7" cy="375.7" r="6.3"/><circle cx="1187.3" cy="356.2" r="6.3"/><circle cx="1235.2" cy="280.6" r="6.3"/><circle cx="1236.9" cy="328.8" r="6.3"/><circle cx="1195.9" cy="334.7" r="6.3"/><circle cx="1186.0" cy="320.4" r="6.3"/><circle cx="1209.8" cy="352.4" r="6.3"/><circle cx="1250.0" cy="379.2" r="6.3"/><circle cx="1153.1" cy="333.9" r="6.3"/><circle cx="1230.1" cy="316.4" r="6.3"/><circle cx="1193.3" cy="401.8" r="6.3"/><circle cx="1241.9" cy="334.8" r="6.3"/><circle cx="1193.2" cy="313.7" r="6.3"/><circle cx="1211.4" cy="353.4" r="6.3"/><circle cx="1183.4" cy="358.5" r="6.3"/><circle cx="1195.5" cy="328.0" r="6.3"/><circle cx="1249.9" cy="368.3" r="6.3"/><circle cx="1236.9" cy="333.8" r="6.3"/><circle cx="1208.8" cy="322.1" r="6.3"/><circle cx="1198.0" cy="351.8" r="6.3"/><circle cx="1208.9" cy="329.9" r="6.3"/><circle cx="1217.3" cy="355.9" r="6.3"/><circle cx="1216.1" cy="344.5" r="6.3"/><circle cx="1215.8" cy="423.3" r="6.3"/><circle cx="1192.2" cy="327.9" r="6.3"/><circle cx="1216.5" cy="384.4" r="6.3"/><circle cx="1217.1" cy="345.6" r="6.3"/><circle cx="1247.7" cy="343.6" r="6.3"/><circle cx="1260.9" cy="366.5" r="6.3"/><circle cx="1214.8" cy="371.1" r="6.3"/><circle cx="1200.4" cy="381.2" r="6.3"/><circle cx="1216.5" cy="355.9" r="6.3"/><circle cx="1204.0" cy="330.8" r="6.3"/><circle cx="1200.9" cy="332.5" r="6.3"/><circle cx="1216.7" cy="360.8" r="6.3"/><circle cx="1194.0" cy="362.7" r="6.3"/><circle cx="1231.9" cy="384.7" r="6.3"/><circle cx="1215.6" cy="358.3" r="6.3"/><circle cx="1223.8" cy="375.6" r="6.3"/><circle cx="1213.8" cy="388.0" r="6.3"/><circle cx="1201.3" cy="351.4" r="6.3"/><circle cx="1196.2" cy="306.9" r="6.3"/><circle cx="1212.5" cy="315.2" r="6.3"/><circle cx="1205.4" cy="308.2" r="6.3"/><circle cx="1223.4" cy="390.0" r="6.3"/><circle cx="1217.9" cy="324.1" r="6.3"/><circle cx="1186.7" cy="380.3" r="6.3"/><circle cx="1219.5" cy="362.8" r="6.3"/><circle cx="1187.1" cy="393.3" r="6.3"/><circle cx="1203.8" cy="374.1" r="6.3"/><circle cx="1211.2" cy="344.2" r="6.3"/><circle cx="1170.3" cy="341.6" r="6.3"/><circle cx="1220.1" cy="349.3" r="6.3"/><circle cx="1221.5" cy="351.7" r="6.3"/><circle cx="1214.4" cy="332.7" r="6.3"/><circle cx="1208.2" cy="346.1" r="6.3"/><circle cx="1209.4" cy="390.5" r="6.3"/><circle cx="1195.5" cy="301.0" r="6.3"/><circle cx="1211.8" cy="354.0" r="6.3"/><circle cx="1205.3" cy="322.5" r="6.3"/><circle cx="1220.1" cy="352.1" r="6.3"/><circle cx="1190.3" cy="369.7" r="6.3"/><circle cx="1223.4" cy="345.4" r="6.3"/><circle cx="1221.3" cy="367.9" r="6.3"/><circle cx="1214.7" cy="304.1" r="6.3"/><circle cx="1207.9" cy="376.9" r="6.3"/><circle cx="1230.7" cy="330.7" r="6.3"/><circle cx="1179.7" cy="363.8" r="6.3"/><circle cx="1228.6" cy="351.9" r="6.3"/><circle cx="1223.6" cy="277.2" r="6.3"/><circle cx="1224.5" cy="326.6" r="6.3"/><circle cx="1226.8" cy="353.0" r="6.3"/><circle cx="1203.0" cy="389.0" r="6.3"/><circle cx="1212.0" cy="354.8" r="6.3"/><circle cx="1232.7" cy="354.0" r="6.3"/><circle cx="1227.9" cy="308.9" r="6.3"/><circle cx="1222.8" cy="385.6" r="6.3"/><circle cx="1183.2" cy="395.8" r="6.3"/><circle cx="1230.4" cy="347.8" r="6.3"/><circle cx="1244.9" cy="341.1" r="6.3"/><circle cx="1241.2" cy="303.3" r="6.3"/><circle cx="1223.4" cy="370.8" r="6.3"/><circle cx="1239.7" cy="366.4" r="6.3"/><circle cx="1214.6" cy="381.1" r="6.3"/><circle cx="1159.8" cy="361.6" r="6.3"/><circle cx="1226.7" cy="320.4" r="6.3"/><circle cx="1183.7" cy="383.1" r="6.3"/><circle cx="1188.2" cy="313.7" r="6.3"/><circle cx="1203.4" cy="341.3" r="6.3"/><circle cx="1247.3" cy="354.5" r="6.3"/><circle cx="1209.5" cy="370.8" r="6.3"/><circle cx="1224.2" cy="358.2" r="6.3"/><circle cx="1258.2" cy="357.4" r="6.3"/><circle cx="1254.7" cy="326.4" r="6.3"/><circle cx="1215.6" cy="312.2" r="6.3"/><circle cx="1212.4" cy="348.7" r="6.3"/><circle cx="1189.0" cy="327.8" r="6.3"/><circle cx="1202.0" cy="311.7" r="6.3"/><circle cx="1227.8" cy="312.8" r="6.3"/><circle cx="1227.1" cy="333.8" r="6.3"/><circle cx="1220.5" cy="297.0" r="6.3"/><circle cx="1240.9" cy="310.6" r="6.3"/><circle cx="1200.2" cy="302.9" r="6.3"/><circle cx="1216.7" cy="351.9" r="6.3"/><circle cx="1234.8" cy="358.0" r="6.3"/><circle cx="1231.4" cy="401.2" r="6.3"/><circle cx="1242.6" cy="306.6" r="6.3"/><circle cx="1227.1" cy="328.7" r="6.3"/><circle cx="1210.9" cy="371.6" r="6.3"/><circle cx="1226.3" cy="341.1" r="6.3"/><circle cx="1194.9" cy="338.2" r="6.3"/><circle cx="1180.3" cy="393.1" r="6.3"/><circle cx="1231.4" cy="337.9" r="6.3"/><circle cx="1216.7" cy="315.8" r="6.3"/><circle cx="1225.1" cy="311.4" r="6.3"/><circle cx="1179.0" cy="356.1" r="6.3"/><circle cx="1209.6" cy="355.2" r="6.3"/><circle cx="1204.2" cy="310.0" r="6.3"/><circle cx="1198.1" cy="320.4" r="6.3"/><circle cx="1166.1" cy="361.4" r="6.3"/><circle cx="1210.3" cy="362.6" r="6.3"/><circle cx="1238.6" cy="329.6" r="6.3"/><circle cx="1226.8" cy="363.8" r="6.3"/><circle cx="1204.2" cy="362.4" r="6.3"/><circle cx="1217.7" cy="298.9" r="6.3"/><circle cx="1235.4" cy="338.6" r="6.3"/><circle cx="1154.5" cy="358.2" r="6.3"/><circle cx="1215.1" cy="331.5" r="6.3"/><circle cx="1230.5" cy="289.2" r="6.3"/><circle cx="1233.7" cy="339.4" r="6.3"/><circle cx="1257.1" cy="367.3" r="6.3"/><circle cx="1244.1" cy="389.7" r="6.3"/><circle cx="1225.2" cy="287.8" r="6.3"/><circle cx="1224.9" cy="417.6" r="6.3"/><circle cx="1236.1" cy="316.6" r="6.3"/><circle cx="1205.6" cy="372.8" r="6.3"/><circle cx="1217.1" cy="380.3" r="6.3"/><circle cx="1238.8" cy="373.5" r="6.3"/><circle cx="1263.0" cy="351.0" r="6.3"/><circle cx="1214.3" cy="315.6" r="6.3"/><circle cx="1216.9" cy="363.9" r="6.3"/><circle cx="1222.6" cy="327.7" r="6.3"/><circle cx="1248.9" cy="278.9" r="6.3"/><circle cx="1217.3" cy="423.4" r="6.3"/><circle cx="1251.8" cy="366.1" r="6.3"/><circle cx="1195.8" cy="396.1" r="6.3"/><circle cx="1213.7" cy="322.4" r="6.3"/><circle cx="1213.4" cy="386.6" r="6.3"/><circle cx="1236.1" cy="389.9" r="6.3"/><circle cx="1242.0" cy="389.0" r="6.3"/><circle cx="1183.3" cy="346.4" r="6.3"/><circle cx="1197.0" cy="314.5" r="6.3"/><circle cx="1225.7" cy="342.2" r="6.3"/><circle cx="1202.9" cy="287.5" r="6.3"/><circle cx="1183.0" cy="301.0" r="6.3"/><circle cx="1241.9" cy="349.5" r="6.3"/><circle cx="1229.4" cy="320.2" r="6.3"/><circle cx="1229.3" cy="342.6" r="6.3"/><circle cx="1207.1" cy="344.1" r="6.3"/><circle cx="1241.7" cy="399.1" r="6.3"/><circle cx="1212.5" cy="382.0" r="6.3"/><circle cx="1243.2" cy="345.8" r="6.3"/><circle cx="1197.0" cy="379.6" r="6.3"/><circle cx="1198.4" cy="325.9" r="6.3"/><circle cx="1222.7" cy="337.9" r="6.3"/><circle cx="1201.8" cy="371.6" r="6.3"/><circle cx="1233.5" cy="313.5" r="6.3"/><circle cx="1224.0" cy="339.5" r="6.3"/><circle cx="1196.8" cy="311.3" r="6.3"/><circle cx="1219.7" cy="350.2" r="6.3"/><circle cx="1209.9" cy="391.1" r="6.3"/><circle cx="1239.1" cy="326.7" r="6.3"/><circle cx="1203.5" cy="353.1" r="6.3"/><circle cx="1207.9" cy="322.8" r="6.3"/><circle cx="1245.9" cy="316.0" r="6.3"/><circle cx="1269.5" cy="313.6" r="6.3"/><circle cx="1264.0" cy="386.3" r="6.3"/><circle cx="1219.5" cy="410.8" r="6.3"/><circle cx="1223.0" cy="360.0" r="6.3"/><circle cx="1253.3" cy="327.7" r="6.3"/><circle cx="1215.1" cy="366.0" r="6.3"/><circle cx="1195.5" cy="338.0" r="6.3"/><circle cx="1220.7" cy="368.6" r="6.3"/><circle cx="1228.4" cy="354.9" r="6.3"/><circle cx="1198.9" cy="354.6" r="6.3"/><circle cx="1180.1" cy="363.4" r="6.3"/><circle cx="1185.0" cy="331.4" r="6.3"/><circle cx="1233.3" cy="336.1" r="6.3"/><circle cx="1200.6" cy="300.5" r="6.3"/><circle cx="1214.7" cy="335.1" r="6.3"/><circle cx="1222.9" cy="308.6" r="6.3"/><circle cx="1232.2" cy="343.1" r="6.3"/><circle cx="1210.3" cy="321.1" r="6.3"/><circle cx="1229.5" cy="349.7" r="6.3"/><circle cx="1197.5" cy="359.2" r="6.3"/><circle cx="1209.7" cy="308.7" r="6.3"/><circle cx="1194.4" cy="325.0" r="6.3"/><circle cx="1244.0" cy="321.5" r="6.3"/><circle cx="1217.4" cy="367.2" r="6.3"/><circle cx="1201.0" cy="393.1" r="6.3"/><circle cx="1209.9" cy="370.0" r="6.3"/><circle cx="1212.9" cy="337.6" r="6.3"/><circle cx="1234.1" cy="386.6" r="6.3"/><circle cx="1181.3" cy="306.1" r="6.3"/><circle cx="1194.1" cy="387.5" r="6.3"/><circle cx="1209.3" cy="329.3" r="6.3"/><circle cx="1240.0" cy="418.6" r="6.3"/><circle cx="1215.4" cy="389.6" r="6.3"/><circle cx="1234.4" cy="319.1" r="6.3"/><circle cx="1265.3" cy="351.6" r="6.3"/><circle cx="1212.6" cy="341.2" r="6.3"/><circle cx="1209.6" cy="349.8" r="6.3"/><circle cx="1245.9" cy="307.0" r="6.3"/><circle cx="1229.4" cy="328.6" r="6.3"/><circle cx="1233.4" cy="359.6" r="6.3"/><circle cx="1206.3" cy="353.0" r="6.3"/><circle cx="1262.3" cy="379.4" r="6.3"/><circle cx="1257.3" cy="349.2" r="6.3"/><circle cx="1231.0" cy="410.4" r="6.3"/><circle cx="1233.7" cy="327.7" r="6.3"/><circle cx="1171.4" cy="354.0" r="6.3"/><circle cx="1232.7" cy="295.3" r="6.3"/><circle cx="1213.5" cy="313.2" r="6.3"/><circle cx="1228.0" cy="382.9" r="6.3"/><circle cx="1233.7" cy="321.5" r="6.3"/><circle cx="1210.2" cy="361.3" r="6.3"/><circle cx="1179.1" cy="345.3" r="6.3"/><circle cx="1226.5" cy="318.8" r="6.3"/><circle cx="1200.9" cy="337.6" r="6.3"/><circle cx="1210.4" cy="333.1" r="6.3"/><circle cx="1204.1" cy="333.8" r="6.3"/><circle cx="1210.1" cy="367.3" r="6.3"/><circle cx="1164.9" cy="364.6" r="6.3"/><circle cx="1246.0" cy="331.4" r="6.3"/><circle cx="1223.8" cy="322.5" r="6.3"/><circle cx="1243.6" cy="354.6" r="6.3"/><circle cx="1263.5" cy="344.3" r="6.3"/><circle cx="1218.5" cy="374.8" r="6.3"/><circle cx="1197.4" cy="369.8" r="6.3"/><circle cx="1190.2" cy="346.1" r="6.3"/><circle cx="1206.5" cy="342.4" r="6.3"/><circle cx="1219.8" cy="323.9" r="6.3"/><circle cx="1171.9" cy="322.5" r="6.3"/><circle cx="1225.9" cy="319.9" r="6.3"/><circle cx="1183.3" cy="336.3" r="6.3"/><circle cx="1224.8" cy="335.5" r="6.3"/><circle cx="1215.5" cy="367.1" r="6.3"/><circle cx="1210.8" cy="336.2" r="6.3"/><circle cx="1216.3" cy="341.7" r="6.3"/><circle cx="1205.6" cy="314.1" r="6.3"/><circle cx="1203.9" cy="391.4" r="6.3"/><circle cx="1179.3" cy="360.7" r="6.3"/><circle cx="1217.3" cy="395.3" r="6.3"/><circle cx="1260.4" cy="368.5" r="6.3"/><circle cx="1263.6" cy="387.2" r="6.3"/><circle cx="1248.4" cy="340.3" r="6.3"/><circle cx="1234.2" cy="366.4" r="6.3"/><circle cx="1202.4" cy="420.0" r="6.3"/><circle cx="1251.2" cy="314.0" r="6.3"/><circle cx="1216.7" cy="378.8" r="6.3"/><circle cx="1216.4" cy="392.8" r="6.3"/><circle cx="1211.3" cy="358.4" r="6.3"/><circle cx="1220.1" cy="367.7" r="6.3"/><circle cx="1208.0" cy="381.6" r="6.3"/><circle cx="1216.1" cy="328.9" r="6.3"/><circle cx="1193.1" cy="358.3" r="6.3"/><circle cx="1209.4" cy="323.0" r="6.3"/><circle cx="1270.5" cy="328.3" r="6.3"/><circle cx="1216.4" cy="329.9" r="6.3"/><circle cx="1217.2" cy="369.2" r="6.3"/><circle cx="1226.9" cy="408.6" r="6.3"/><circle cx="1237.3" cy="270.8" r="6.3"/><circle cx="1174.1" cy="343.4" r="6.3"/><circle cx="1261.1" cy="367.7" r="6.3"/><circle cx="1246.5" cy="309.9" r="6.3"/><circle cx="1209.9" cy="342.1" r="6.3"/><circle cx="1219.0" cy="306.4" r="6.3"/><circle cx="1240.5" cy="375.9" r="6.3"/><circle cx="1235.9" cy="352.0" r="6.3"/><circle cx="1165.2" cy="341.5" r="6.3"/><circle cx="1247.1" cy="362.8" r="6.3"/><circle cx="1255.6" cy="371.8" r="6.3"/><circle cx="1234.5" cy="359.5" r="6.3"/><circle cx="1218.2" cy="341.8" r="6.3"/><circle cx="1268.4" cy="387.4" r="6.3"/><circle cx="1182.0" cy="396.7" r="6.3"/><circle cx="1227.5" cy="304.3" r="6.3"/><circle cx="1271.6" cy="316.8" r="6.3"/><circle cx="1215.3" cy="409.9" r="6.3"/><circle cx="1207.8" cy="404.8" r="6.3"/><circle cx="1225.9" cy="318.5" r="6.3"/><circle cx="1206.9" cy="300.8" r="6.3"/><circle cx="1274.4" cy="322.5" r="6.3"/><circle cx="1191.2" cy="328.1" r="6.3"/><circle cx="1251.6" cy="284.6" r="6.3"/><circle cx="1179.5" cy="349.2" r="6.3"/><circle cx="1244.7" cy="296.8" r="6.3"/><circle cx="1218.4" cy="299.6" r="6.3"/><circle cx="1221.8" cy="320.7" r="6.3"/><circle cx="1185.8" cy="345.1" r="6.3"/><circle cx="1206.9" cy="373.2" r="6.3"/><circle cx="1274.2" cy="380.5" r="6.3"/><circle cx="1184.1" cy="334.5" r="6.3"/><circle cx="1186.0" cy="349.8" r="6.3"/><circle cx="1270.9" cy="315.0" r="6.3"/><circle cx="1225.9" cy="417.9" r="6.3"/><circle cx="1274.3" cy="374.0" r="6.3"/><circle cx="1233.0" cy="303.9" r="6.3"/><circle cx="1192.1" cy="348.2" r="6.3"/><circle cx="1219.8" cy="376.5" r="6.3"/><circle cx="1263.7" cy="367.2" r="6.3"/><circle cx="1222.0" cy="402.9" r="6.3"/><circle cx="1223.7" cy="326.4" r="6.3"/><circle cx="1218.2" cy="344.4" r="6.3"/><circle cx="1202.4" cy="296.7" r="6.3"/><circle cx="1287.5" cy="358.0" r="6.3"/><circle cx="1222.2" cy="354.0" r="6.3"/><circle cx="1205.8" cy="351.9" r="6.3"/><circle cx="1243.8" cy="321.1" r="6.3"/><circle cx="1217.3" cy="352.5" r="6.3"/><circle cx="1199.3" cy="297.8" r="6.3"/><circle cx="1222.8" cy="313.3" r="6.3"/><circle cx="1165.2" cy="333.4" r="6.3"/><circle cx="1177.8" cy="361.7" r="6.3"/><circle cx="1249.1" cy="341.4" r="6.3"/><circle cx="1205.7" cy="312.4" r="6.3"/><circle cx="1234.7" cy="379.5" r="6.3"/><circle cx="1263.3" cy="326.4" r="6.3"/><circle cx="1244.0" cy="328.0" r="6.3"/><circle cx="1222.7" cy="292.8" r="6.3"/><circle cx="1244.7" cy="374.1" r="6.3"/><circle cx="1210.0" cy="283.3" r="6.3"/><circle cx="1246.8" cy="345.2" r="6.3"/><circle cx="1235.8" cy="376.7" r="6.3"/><circle cx="1193.0" cy="332.9" r="6.3"/><circle cx="1224.5" cy="357.6" r="6.3"/><circle cx="1216.4" cy="303.3" r="6.3"/><circle cx="1216.2" cy="392.0" r="6.3"/><circle cx="1212.4" cy="357.4" r="6.3"/><circle cx="1207.1" cy="277.8" r="6.3"/><circle cx="1166.2" cy="306.2" r="6.3"/><circle cx="1210.0" cy="387.1" r="6.3"/><circle cx="1220.7" cy="416.5" r="6.3"/><circle cx="1225.5" cy="359.9" r="6.3"/><circle cx="1183.5" cy="397.9" r="6.3"/><circle cx="1243.5" cy="323.7" r="6.3"/><circle cx="1180.8" cy="340.4" r="6.3"/><circle cx="1214.4" cy="348.0" r="6.3"/><circle cx="1266.3" cy="364.9" r="6.3"/><circle cx="1198.5" cy="286.8" r="6.3"/><circle cx="1204.7" cy="385.6" r="6.3"/><circle cx="1258.4" cy="400.9" r="6.3"/><circle cx="1209.0" cy="302.1" r="6.3"/><circle cx="1211.9" cy="293.8" r="6.3"/><circle cx="1229.5" cy="362.0" r="6.3"/><circle cx="1257.6" cy="321.8" r="6.3"/><circle cx="1193.9" cy="380.3" r="6.3"/><circle cx="1187.8" cy="354.2" r="6.3"/><circle cx="1185.2" cy="328.9" r="6.3"/><circle cx="1193.6" cy="353.6" r="6.3"/><circle cx="1232.2" cy="317.9" r="6.3"/><circle cx="1191.9" cy="352.0" r="6.3"/><circle cx="1226.1" cy="306.4" r="6.3"/><circle cx="1235.6" cy="317.5" r="6.3"/><circle cx="1197.3" cy="363.5" r="6.3"/><circle cx="1226.4" cy="325.8" r="6.3"/><circle cx="1277.4" cy="330.0" r="6.3"/><circle cx="1232.9" cy="414.8" r="6.3"/><circle cx="1200.5" cy="382.4" r="6.3"/><circle cx="1219.8" cy="380.1" r="6.3"/><circle cx="1191.0" cy="369.2" r="6.3"/><circle cx="1231.1" cy="367.4" r="6.3"/><circle cx="1251.1" cy="406.3" r="6.3"/><circle cx="1194.3" cy="347.2" r="6.3"/><circle cx="1214.9" cy="422.2" r="6.3"/><circle cx="1259.5" cy="309.9" r="6.3"/><circle cx="1205.2" cy="337.8" r="6.3"/><circle cx="1228.3" cy="292.9" r="6.3"/><circle cx="1187.5" cy="334.2" r="6.3"/><circle cx="1194.4" cy="368.7" r="6.3"/><circle cx="1204.7" cy="406.0" r="6.3"/><circle cx="1208.5" cy="348.2" r="6.3"/><circle cx="1204.5" cy="333.6" r="6.3"/><circle cx="1203.4" cy="318.5" r="6.3"/><circle cx="1216.5" cy="300.4" r="6.3"/><circle cx="1243.6" cy="350.4" r="6.3"/><circle cx="1228.3" cy="278.7" r="6.3"/><circle cx="1229.1" cy="348.8" r="6.3"/><circle cx="1269.8" cy="321.7" r="6.3"/><circle cx="1231.1" cy="307.6" r="6.3"/><circle cx="1242.0" cy="292.6" r="6.3"/><circle cx="1217.8" cy="294.3" r="6.3"/><circle cx="1219.7" cy="410.3" r="6.3"/><circle cx="1214.0" cy="372.0" r="6.3"/><circle cx="1251.1" cy="301.7" r="6.3"/><circle cx="1209.2" cy="389.7" r="6.3"/><circle cx="1207.5" cy="417.2" r="6.3"/><circle cx="1213.6" cy="310.6" r="6.3"/><circle cx="1214.5" cy="336.1" r="6.3"/><circle cx="1235.4" cy="390.1" r="6.3"/><circle cx="1180.1" cy="361.4" r="6.3"/><circle cx="1231.6" cy="325.2" r="6.3"/><circle cx="1226.8" cy="369.7" r="6.3"/><circle cx="1209.6" cy="298.0" r="6.3"/><circle cx="1194.5" cy="318.8" r="6.3"/><circle cx="1261.0" cy="343.0" r="6.3"/><circle cx="1187.1" cy="342.4" r="6.3"/><circle cx="1249.9" cy="334.4" r="6.3"/><circle cx="1207.1" cy="347.5" r="6.3"/><circle cx="1247.8" cy="371.7" r="6.3"/><circle cx="1164.9" cy="345.5" r="6.3"/><circle cx="1179.4" cy="389.6" r="6.3"/><circle cx="1208.5" cy="368.7" r="6.3"/><circle cx="1211.3" cy="336.2" r="6.3"/><circle cx="1205.0" cy="351.1" r="6.3"/><circle cx="1225.3" cy="349.1" r="6.3"/><circle cx="1238.3" cy="396.5" r="6.3"/><circle cx="1175.2" cy="292.6" r="6.3"/><circle cx="1200.2" cy="394.8" r="6.3"/><circle cx="1208.4" cy="386.2" r="6.3"/><circle cx="1183.8" cy="344.3" r="6.3"/><circle cx="1176.8" cy="317.4" r="6.3"/><circle cx="1188.8" cy="338.9" r="6.3"/><circle cx="1221.6" cy="366.9" r="6.3"/><circle cx="1241.5" cy="377.7" r="6.3"/><circle cx="1240.6" cy="359.5" r="6.3"/><circle cx="1189.2" cy="387.7" r="6.3"/><circle cx="1195.9" cy="325.7" r="6.3"/><circle cx="1191.6" cy="357.4" r="6.3"/><circle cx="1236.8" cy="285.3" r="6.3"/><circle cx="1262.9" cy="354.1" r="6.3"/><circle cx="1206.0" cy="331.4" r="6.3"/><circle cx="1196.1" cy="394.5" r="6.3"/><circle cx="1233.2" cy="375.7" r="6.3"/><circle cx="1233.3" cy="349.6" r="6.3"/><circle cx="1256.7" cy="289.8" r="6.3"/><circle cx="1226.4" cy="390.7" r="6.3"/><circle cx="1263.1" cy="327.3" r="6.3"/><circle cx="1218.7" cy="351.0" r="6.3"/><circle cx="1269.5" cy="338.0" r="6.3"/><circle cx="1227.4" cy="362.0" r="6.3"/><circle cx="1224.9" cy="373.8" r="6.3"/><circle cx="1191.6" cy="399.5" r="6.3"/><circle cx="1212.5" cy="308.5" r="6.3"/><circle cx="1247.7" cy="410.9" r="6.3"/><circle cx="1178.7" cy="310.7" r="6.3"/><circle cx="1243.4" cy="359.1" r="6.3"/><circle cx="1233.5" cy="394.3" r="6.3"/><circle cx="1231.2" cy="376.5" r="6.3"/><circle cx="1218.6" cy="319.9" r="6.3"/><circle cx="1243.4" cy="329.5" r="6.3"/><circle cx="1196.8" cy="346.0" r="6.3"/><circle cx="1225.0" cy="393.9" r="6.3"/><circle cx="1244.2" cy="366.7" r="6.3"/><circle cx="1200.1" cy="372.4" r="6.3"/><circle cx="1250.8" cy="370.3" r="6.3"/><circle cx="1244.8" cy="408.7" r="6.3"/><circle cx="1214.2" cy="367.5" r="6.3"/><circle cx="1248.7" cy="382.3" r="6.3"/><circle cx="1191.5" cy="370.5" r="6.3"/><circle cx="1201.6" cy="419.7" r="6.3"/><circle cx="1194.6" cy="399.3" r="6.3"/><circle cx="1198.7" cy="337.6" r="6.3"/><circle cx="1212.9" cy="336.8" r="6.3"/><circle cx="1188.3" cy="309.2" r="6.3"/><circle cx="1278.9" cy="332.7" r="6.3"/><circle cx="1198.8" cy="320.5" r="6.3"/><circle cx="1260.7" cy="289.1" r="6.3"/><circle cx="1258.6" cy="405.3" r="6.3"/><circle cx="1249.1" cy="358.9" r="6.3"/><circle cx="1260.2" cy="338.1" r="6.3"/><circle cx="1193.4" cy="319.6" r="6.3"/><circle cx="1216.4" cy="316.5" r="6.3"/><circle cx="1176.3" cy="302.8" r="6.3"/><circle cx="1175.2" cy="326.2" r="6.3"/><circle cx="1254.4" cy="348.2" r="6.3"/><circle cx="1199.8" cy="340.9" r="6.3"/><circle cx="1224.4" cy="337.4" r="6.3"/><circle cx="1200.9" cy="312.3" r="6.3"/><circle cx="1248.3" cy="354.4" r="6.3"/><circle cx="1238.0" cy="373.0" r="6.3"/><circle cx="1181.8" cy="335.5" r="6.3"/><circle cx="1234.2" cy="283.0" r="6.3"/><circle cx="1267.4" cy="291.4" r="6.3"/><circle cx="1205.7" cy="280.5" r="6.3"/><circle cx="1196.5" cy="377.0" r="6.3"/><circle cx="1255.5" cy="317.4" r="6.3"/><circle cx="1226.6" cy="350.5" r="6.3"/><circle cx="1185.6" cy="323.1" r="6.3"/><circle cx="1209.5" cy="351.6" r="6.3"/><circle cx="1197.1" cy="404.1" r="6.3"/><circle cx="1231.8" cy="320.6" r="6.3"/><circle cx="1225.6" cy="334.4" r="6.3"/><circle cx="1260.0" cy="315.7" r="6.3"/><circle cx="1245.4" cy="383.0" r="6.3"/><circle cx="1170.4" cy="307.0" r="6.3"/><circle cx="1235.4" cy="302.7" r="6.3"/><circle cx="1251.6" cy="292.5" r="6.3"/><circle cx="1237.0" cy="291.7" r="6.3"/><circle cx="1256.0" cy="366.8" r="6.3"/><circle cx="1190.6" cy="308.2" r="6.3"/><circle cx="1252.7" cy="386.1" r="6.3"/><circle cx="1186.8" cy="358.0" r="6.3"/><circle cx="1255.8" cy="336.9" r="6.3"/><circle cx="1198.1" cy="338.7" r="6.3"/><circle cx="1211.9" cy="320.4" r="6.3"/><circle cx="1183.8" cy="363.2" r="6.3"/><circle cx="1210.1" cy="361.3" r="6.3"/><circle cx="1234.2" cy="324.8" r="6.3"/><circle cx="1246.8" cy="383.1" r="6.3"/><circle cx="1183.0" cy="354.1" r="6.3"/><circle cx="1186.8" cy="364.7" r="6.3"/><circle cx="1244.4" cy="375.7" r="6.3"/><circle cx="1219.5" cy="266.7" r="6.3"/><circle cx="1193.6" cy="387.2" r="6.3"/><circle cx="1230.2" cy="388.5" r="6.3"/><circle cx="1228.6" cy="291.7" r="6.3"/><circle cx="1268.6" cy="343.3" r="6.3"/><circle cx="1207.0" cy="315.5" r="6.3"/><circle cx="1255.3" cy="324.5" r="6.3"/><circle cx="1197.5" cy="386.7" r="6.3"/><circle cx="1259.0" cy="315.8" r="6.3"/><circle cx="1196.8" cy="342.8" r="6.3"/><circle cx="1210.0" cy="271.7" r="6.3"/><circle cx="1284.6" cy="341.7" r="6.3"/><circle cx="1232.5" cy="351.6" r="6.3"/><circle cx="1225.6" cy="319.8" r="6.3"/><circle cx="1233.9" cy="423.5" r="6.3"/><circle cx="1195.1" cy="299.6" r="6.3"/><circle cx="1246.2" cy="306.0" r="6.3"/><circle cx="1183.0" cy="315.6" r="6.3"/><circle cx="1259.2" cy="396.0" r="6.3"/><circle cx="1203.1" cy="361.3" r="6.3"/><circle cx="1201.3" cy="319.3" r="6.3"/><circle cx="1227.8" cy="330.9" r="6.3"/><circle cx="1222.5" cy="390.6" r="6.3"/><circle cx="1189.7" cy="311.6" r="6.3"/><circle cx="1240.7" cy="406.1" r="6.3"/><circle cx="1207.7" cy="350.8" r="6.3"/><circle cx="1208.7" cy="373.8" r="6.3"/><circle cx="1213.0" cy="378.0" r="6.3"/><circle cx="1232.1" cy="410.2" r="6.3"/><circle cx="1181.5" cy="305.9" r="6.3"/><circle cx="1241.4" cy="395.2" r="6.3"/><circle cx="1216.1" cy="333.0" r="6.3"/><circle cx="1200.5" cy="317.3" r="6.3"/><circle cx="1176.9" cy="352.1" r="6.3"/><circle cx="1183.0" cy="339.4" r="6.3"/><circle cx="1233.9" cy="308.5" r="6.3"/><circle cx="1190.2" cy="284.1" r="6.3"/><circle cx="1224.1" cy="310.3" r="6.3"/><circle cx="1257.0" cy="406.1" r="6.3"/><circle cx="1273.5" cy="374.0" r="6.3"/><circle cx="1212.2" cy="395.4" r="6.3"/><circle cx="1186.2" cy="327.3" r="6.3"/><circle cx="1255.7" cy="344.9" r="6.3"/><circle cx="1232.2" cy="359.3" r="6.3"/><circle cx="1259.1" cy="304.7" r="6.3"/><circle cx="1222.4" cy="308.4" r="6.3"/><circle cx="1261.5" cy="351.9" r="6.3"/><circle cx="1249.9" cy="335.2" r="6.3"/><circle cx="1245.6" cy="305.5" r="6.3"/><circle cx="1238.6" cy="363.5" r="6.3"/><circle cx="1235.1" cy="337.5" r="6.3"/><circle cx="1229.7" cy="388.9" r="6.3"/><circle cx="1229.5" cy="347.8" r="6.3"/><circle cx="1254.7" cy="336.0" r="6.3"/><circle cx="1205.1" cy="353.1" r="6.3"/><circle cx="1279.3" cy="341.1" r="6.3"/><circle cx="1218.5" cy="321.3" r="6.3"/><circle cx="1254.5" cy="331.9" r="6.3"/><circle cx="1219.0" cy="378.0" r="6.3"/><circle cx="1213.9" cy="373.9" r="6.3"/><circle cx="1211.8" cy="280.3" r="6.3"/><circle cx="1179.9" cy="332.3" r="6.3"/><circle cx="1198.4" cy="331.4" r="6.3"/><circle cx="1211.5" cy="354.9" r="6.3"/><circle cx="1228.8" cy="327.5" r="6.3"/><circle cx="1252.8" cy="379.3" r="6.3"/><circle cx="1188.9" cy="355.1" r="6.3"/><circle cx="1233.6" cy="301.3" r="6.3"/><circle cx="1244.2" cy="401.4" r="6.3"/><circle cx="1199.0" cy="325.0" r="6.3"/><circle cx="1241.9" cy="381.3" r="6.3"/><circle cx="1232.0" cy="318.6" r="6.3"/><circle cx="1188.3" cy="393.0" r="6.3"/><circle cx="1221.4" cy="339.3" r="6.3"/><circle cx="1213.3" cy="315.9" r="6.3"/><circle cx="1241.8" cy="317.4" r="6.3"/><circle cx="1239.8" cy="355.7" r="6.3"/><circle cx="1207.5" cy="355.0" r="6.3"/><circle cx="1177.8" cy="349.4" r="6.3"/><circle cx="1270.8" cy="325.7" r="6.3"/><circle cx="1255.6" cy="351.7" r="6.3"/><circle cx="1204.8" cy="357.8" r="6.3"/><circle cx="1248.8" cy="393.2" r="6.3"/><circle cx="1214.0" cy="359.0" r="6.3"/><circle cx="1219.9" cy="332.4" r="6.3"/><circle cx="1219.2" cy="340.8" r="6.3"/><circle cx="1222.0" cy="342.7" r="6.3"/><circle cx="1258.8" cy="326.0" r="6.3"/><circle cx="1226.1" cy="324.6" r="6.3"/><circle cx="1216.9" cy="311.0" r="6.3"/><circle cx="1212.9" cy="395.5" r="6.3"/><circle cx="1233.3" cy="347.4" r="6.3"/><circle cx="1192.5" cy="386.3" r="6.3"/><circle cx="1205.4" cy="338.0" r="6.3"/><circle cx="1220.3" cy="350.9" r="6.3"/><circle cx="1203.3" cy="341.2" r="6.3"/><circle cx="1218.1" cy="366.5" r="6.3"/><circle cx="1201.8" cy="381.1" r="6.3"/><circle cx="1265.9" cy="321.0" r="6.3"/><circle cx="1236.8" cy="316.8" r="6.3"/><circle cx="1220.2" cy="414.4" r="6.3"/><circle cx="1232.7" cy="336.4" r="6.3"/><circle cx="1219.1" cy="406.6" r="6.3"/><circle cx="1232.0" cy="391.5" r="6.3"/><circle cx="1232.1" cy="369.4" r="6.3"/><circle cx="1268.5" cy="332.0" r="6.3"/><circle cx="1192.9" cy="369.9" r="6.3"/><circle cx="1244.9" cy="341.2" r="6.3"/><circle cx="1188.9" cy="291.4" r="6.3"/><circle cx="1211.1" cy="364.3" r="6.3"/><circle cx="1220.1" cy="363.7" r="6.3"/><circle cx="1252.5" cy="338.4" r="6.3"/><circle cx="1263.4" cy="301.1" r="6.3"/><circle cx="1185.3" cy="290.3" r="6.3"/><circle cx="1210.6" cy="334.9" r="6.3"/><circle cx="1176.0" cy="289.8" r="6.3"/><circle cx="1226.5" cy="384.0" r="6.3"/><circle cx="1218.7" cy="394.1" r="6.3"/><circle cx="1199.4" cy="383.1" r="6.3"/><circle cx="1209.3" cy="324.3" r="6.3"/><circle cx="1197.4" cy="313.1" r="6.3"/><circle cx="1298.7" cy="225.9" r="6.3"/><circle cx="1294.6" cy="258.2" r="6.3"/><circle cx="1303.1" cy="282.7" r="6.3"/><circle cx="1054.8" cy="270.8" r="6.3"/><circle cx="1051.4" cy="338.2" r="6.3"/><circle cx="1374.6" cy="351.8" r="6.3"/><circle cx="1076.3" cy="363.7" r="6.3"/><circle cx="1121.8" cy="346.7" r="6.3"/><circle cx="1120.5" cy="312.0" r="6.3"/><circle cx="1162.7" cy="278.6" r="6.3"/><circle cx="1197.7" cy="262.3" r="6.3"/><circle cx="1277.6" cy="419.8" r="6.3"/><circle cx="1269.1" cy="472.5" r="6.3"/><circle cx="1255.5" cy="459.6" r="6.3"/><circle cx="1177.3" cy="454.1" r="6.3"/><circle cx="1189.9" cy="437.5" r="6.3"/><circle cx="1135.4" cy="326.9" r="6.3"/><circle cx="1143.3" cy="332.0" r="6.3"/><circle cx="1296.3" cy="334.8" r="6.3"/><circle cx="1291.2" cy="342.2" r="6.3"/><circle cx="1279.3" cy="274.2" r="6.3"/><circle cx="1269.1" cy="264.0" r="6.3"/><circle cx="1253.8" cy="265.0" r="6.3"/><circle cx="1247.0" cy="258.9" r="6.3"/><circle cx="1284.4" cy="295.6" r="6.3"/><circle cx="1141.6" cy="304.1" r="6.3"/><circle cx="1131.4" cy="365.4" r="6.3"/><circle cx="1143.3" cy="355.2" r="6.3"/><circle cx="1233.4" cy="443.6" r="6.3"/><circle cx="1211.3" cy="440.2" r="6.3"/><circle cx="1219.8" cy="431.7" r="6.3"/><circle cx="1255.5" cy="411.3" r="6.3"/><circle cx="1272.5" cy="380.7" r="6.3"/><circle cx="1265.0" cy="290.0" r="6.3"/><circle cx="1258.0" cy="282.0" r="6.3"/><circle cx="1170.0" cy="300.0" r="6.3"/><circle cx="1160.0" cy="320.0" r="6.3"/><circle cx="1150.0" cy="345.0" r="6.3"/><circle cx="1285.0" cy="320.0" r="6.3"/><circle cx="1280.0" cy="360.0" r="6.3"/><circle cx="1270.0" cy="395.0" r="6.3"/><circle cx="1262.0" cy="430.0" r="6.3"/><circle cx="1245.0" cy="445.0" r="6.3"/><circle cx="1200.0" cy="430.0" r="6.3"/><circle cx="1190.0" cy="420.0" r="6.3"/><circle cx="1183.0" cy="448.0" r="6.3"/><circle cx="1225.0" cy="452.0" r="6.3"/><circle cx="1240.0" cy="455.0" r="6.3"/></g>
<g fill="#0000ff" fill-opacity="0.5"><circle cx="1054.8" cy="436.1" r="6.3"/><circle cx="1104.1" cy="390.2" r="6.3"/><circle cx="1117.8" cy="385.8" r="6.3"/><circle cx="1126.3" cy="390.9" r="6.3"/><circle cx="1117.8" cy="398.7" r="6.3"/><circle cx="1133.1" cy="380.7" r="6.3"/><circle cx="1136.5" cy="371.2" r="6.3"/><circle cx="1119.5" cy="418.1" r="6.3"/><circle cx="1125.2" cy="424.9" r="6.3"/><circle cx="1127.3" cy="464.7" r="6.3"/><circle cx="1141.9" cy="467.4" r="6.3"/><circle cx="1145.0" cy="429.0" r="6.3"/><circle cx="1145.5" cy="429.5" r="6.3"/><circle cx="1135.8" cy="399.4" r="6.3"/><circle cx="1136.5" cy="406.2" r="6.3"/><circle cx="1160.3" cy="440.9" r="6.3"/><circle cx="1171.5" cy="434.1" r="6.3"/><circle cx="1148.4" cy="411.3" r="6.3"/><circle cx="1156.9" cy="416.4" r="6.3"/><circle cx="1165.4" cy="414.7" r="6.3"/><circle cx="1162.0" cy="404.5" r="6.3"/><circle cx="1150.1" cy="394.3" r="6.3"/><circle cx="1160.3" cy="394.3" r="6.3"/><circle cx="1148.4" cy="382.4" r="6.3"/><circle cx="1155.2" cy="368.8" r="6.3"/><circle cx="1163.7" cy="373.9" r="6.3"/><circle cx="1170.5" cy="370.5" r="6.3"/><circle cx="1172.2" cy="380.7" r="6.3"/><circle cx="1173.9" cy="390.9" r="6.3"/><circle cx="1165.4" cy="384.1" r="6.3"/><circle cx="1156.9" cy="377.3" r="6.3"/><circle cx="1175.6" cy="399.4" r="6.3"/><circle cx="1153.5" cy="424.9" r="6.3"/><circle cx="1162.0" cy="431.7" r="6.3"/><circle cx="1150.1" cy="404.5" r="6.3"/><circle cx="1139.9" cy="401.1" r="6.3"/><circle cx="1168.0" cy="377.0" r="6.3"/><circle cx="1171.0" cy="387.0" r="6.3"/><circle cx="1166.0" cy="368.0" r="6.3"/><circle cx="1160.0" cy="385.0" r="6.3"/><circle cx="1158.0" cy="446.0" r="6.3"/><circle cx="1168.0" cy="395.0" r="6.3"/><circle cx="1176.0" cy="405.0" r="6.3"/><circle cx="1158.0" cy="402.0" r="6.3"/></g>
<path d="M989.5 300.4H1492" stroke="#000" stroke-width="4.3" stroke-linecap="round" stroke-dasharray="0 12.56"/>
<path d="M1242 48.7V563" stroke="#000" stroke-width="4.3" stroke-linecap="round" stroke-dasharray="0 12.543"/>
<text x="810.91" y="798.30" font-size="60.57" font-weight="bold" textLength="39.47" lengthAdjust="spacingAndGlyphs" fill="#000">C</text>
<text x="1132.20" y="718.00" font-size="20.00" font-weight="normal" textLength="82.59" lengthAdjust="spacingAndGlyphs" fill="#0a6ed1" stroke="#0a6ed1" stroke-width="0.23">pancreas</text>
<text x="1167.80" y="751.30" font-size="25.28" font-weight="normal" textLength="67.75" lengthAdjust="spacingAndGlyphs" fill="#0a6ed1" stroke="#0a6ed1" stroke-width="0.29">blood</text>
<text x="983.33" y="762.30" font-size="20.19" font-weight="normal" textLength="172.14" lengthAdjust="spacingAndGlyphs" fill="#0a6ed1" stroke="#0a6ed1" stroke-width="0.24">upper aerodigestive</text>
<text x="1401.98" y="729.20" font-size="19.43" font-weight="normal" textLength="102.59" lengthAdjust="spacingAndGlyphs" fill="#04c8f4" stroke="#04c8f4" stroke-width="0.23">lymphocyte</text>
<text x="1429.35" y="768.10" font-size="8.49" font-weight="bold" textLength="31.21" lengthAdjust="spacingAndGlyphs" fill="#0a6ed1">embryo</text>
<text x="1074.06" y="805.80" font-size="39.25" font-weight="normal" textLength="273.69" lengthAdjust="spacingAndGlyphs" fill="#0a6ed1" stroke="#0a6ed1" stroke-width="0.46">nervous system</text>
<text x="1038.27" y="852.40" font-size="47.36" font-weight="normal" textLength="214.06" lengthAdjust="spacingAndGlyphs" fill="#99cbf8" stroke="#99cbf8" stroke-width="0.55">soft tissue</text>
<text x="1260.63" y="835.10" font-size="15.47" font-weight="normal" textLength="54.45" lengthAdjust="spacingAndGlyphs" fill="#99cbf8" stroke="#99cbf8" stroke-width="0.18">uterus</text>
<text x="1325.69" y="827.80" font-size="18.30" font-weight="normal" textLength="44.70" lengthAdjust="spacingAndGlyphs" fill="#1e3148" stroke="#1e3148" stroke-width="0.21">bone</text>
<text x="1405.44" y="826.00" font-size="9.62" font-weight="bold" textLength="16.56" lengthAdjust="spacingAndGlyphs" fill="#0a6ed1">liver</text>
<text x="1303.11" y="861.00" font-size="18.87" font-weight="normal" textLength="73.88" lengthAdjust="spacingAndGlyphs" fill="#04c8f4" stroke="#04c8f4" stroke-width="0.22">bile duct</text>
<text x="1087.81" y="883.50" font-size="24.72" font-weight="normal" textLength="116.25" lengthAdjust="spacingAndGlyphs" fill="#04c8f4" stroke="#04c8f4" stroke-width="0.29">colorectal</text>
<text x="1215.14" y="882.50" font-size="29.43" font-weight="normal" textLength="51.02" lengthAdjust="spacingAndGlyphs" fill="#99cbf8" stroke="#99cbf8" stroke-width="0.34">skin</text>
<text x="1143.82" y="901.20" font-size="11.13" font-weight="normal" textLength="22.98" lengthAdjust="spacingAndGlyphs" fill="#0a6ed1" stroke="#0a6ed1" stroke-width="0.13">ovary</text>
<text x="1286.39" y="900.00" font-size="36.04" font-weight="normal" textLength="72.94" lengthAdjust="spacingAndGlyphs" fill="#0a6ed1" stroke="#0a6ed1" stroke-width="0.42">lung</text>
<text x="1379.91" y="917.40" font-size="25.28" font-weight="normal" textLength="75.00" lengthAdjust="spacingAndGlyphs" fill="#1e3148" stroke="#1e3148" stroke-width="0.29">kidney</text>
<text x="1324.54" y="926.20" font-size="9.25" font-weight="bold" textLength="46.13" lengthAdjust="spacingAndGlyphs" fill="#0a6ed1">plasma cell</text>
<text x="960.76" y="933.60" font-size="27.74" font-weight="normal" textLength="267.45" lengthAdjust="spacingAndGlyphs" fill="#0a6ed1" stroke="#0a6ed1" stroke-width="0.32">central nervous system</text>
<text x="1225.05" y="958.00" font-size="28.30" font-weight="normal" textLength="166.55" lengthAdjust="spacingAndGlyphs" fill="#1e3148" stroke="#1e3148" stroke-width="0.33">urinary tract</text>
<text x="1105.93" y="993.70" font-size="32.26" font-weight="normal" textLength="370.27" lengthAdjust="spacingAndGlyphs" fill="#99cbf8" stroke="#99cbf8" stroke-width="0.38">peripherals nervous system</text>
<g>
<path d="M283 1302 L283.2 1308.5 C278 1311.5 266 1312.5 260.5 1316 C256.5 1319.5 254.5 1331 251.8 1344 C248 1356 246 1362 243.6 1370 C239 1382 235 1390 231 1398 C226 1400 218 1402 213 1405 C213.5 1407.5 219 1406.5 222 1406 C219 1411 216.5 1418 217.5 1424 C219 1427 222 1426 224 1422 C228 1416 234 1412 238 1406 L240 1400 C246 1388 252 1378 256.5 1370 C261 1361 264 1352 266.5 1345 C268 1352 269.5 1360 268.9 1368 C265 1380 261 1395 259.6 1413 C259.5 1430 262 1455 264.5 1474 C263.5 1490 266 1512 268 1530 C265 1538 260.5 1544 260.2 1549 C261 1553 271 1554 276.5 1552 C277.5 1545 277.5 1538 277.8 1530 C278.5 1510 279.5 1490 281.4 1474 C283.5 1458 287.5 1440 289.3 1421 C291 1440 295 1458 297.2 1474 C299.2 1490 300.5 1510 301.8 1530 C302 1538 302 1545 303.1 1552 C308.5 1554 318 1553 318.9 1549 C318.6 1544 314 1538 312 1530 C314 1512 316 1490 314 1474 C316.5 1455 319.5 1430 319.4 1413 C318 1395 314 1380 310.1 1368 C309.5 1360 311 1352 312.5 1345 C315 1352 318 1361 322.5 1370 C327 1378 333 1388 339 1400 L341 1406 C345 1412 351 1416 355 1422 C357 1426 360 1427 361.5 1424 C362.5 1418 360 1411 357 1406 C360 1406.5 365.5 1407.5 366 1405 C361 1402 353 1400 348 1398 C344 1390 340 1382 335.4 1370 C333 1362 331 1356 327.2 1344 C324.5 1331 322.5 1319.5 318.5 1316 C313 1312.5 301 1311.5 295.8 1308.5 L296 1302 Z" fill="#c4968b" stroke="#b08176" stroke-width="0.8"/>
<ellipse cx="289.5" cy="1290.5" rx="12" ry="14.5" fill="#c4968b"/>
<path d="M277.5 1303.5 C271 1297 270 1288 271.2 1280 C273 1269 281 1263.5 289.5 1263.8 C299 1264 306 1270 307.7 1280 C309 1290 306 1298 301.2 1302.7 C301 1296 301.5 1288 300 1281 C297 1284 289 1283 282 1278 C279 1285 278 1295 277.5 1303.5Z" fill="#4e3b36"/>
<path d="M284 1290.5h3.5M292 1290.5h3.5M288 1298.5h3" stroke="#a67a70" stroke-width="0.7"/>
<path d="M270 1352 q4 3 8 1 M301 1353 q4 2 8 -1 M266.6 1402.8 q12 10 22.7 16.8 q12 -6 23.7 -15.8" stroke="#b08176" stroke-width="0.7" fill="none"/>
</g>
<text x="2.03" y="1112.60" font-size="60.29" font-weight="bold" textLength="40.75" lengthAdjust="spacingAndGlyphs" fill="#000">D</text>
<text x="471.92" y="1052.70" font-size="29.24" font-weight="bold" textLength="242.57" lengthAdjust="spacingAndGlyphs" fill="#000">Number of values</text>
<text x="494.47" y="1118.30" font-size="28.86" font-weight="bold" textLength="44.28" lengthAdjust="spacingAndGlyphs" fill="#000" transform="rotate(-90 495.40 1118.30)">600</text>
<text x="567.30" y="1118.30" font-size="28.86" font-weight="bold" textLength="44.56" lengthAdjust="spacingAndGlyphs" fill="#000" transform="rotate(-90 567.70 1118.30)">400</text>
<text x="638.57" y="1118.30" font-size="28.86" font-weight="bold" textLength="44.49" lengthAdjust="spacingAndGlyphs" fill="#000" transform="rotate(-90 639.50 1118.30)">200</text>
<text x="710.64" y="1118.30" font-size="28.86" font-weight="bold" textLength="14.75" lengthAdjust="spacingAndGlyphs" fill="#000" transform="rotate(-90 711.70 1118.30)">0</text>
<path d="M501.6 1212.9H700" stroke="#0000f0" stroke-width="6" stroke-linecap="round" stroke-dasharray="0 15.9"/>
<path d="M501.3 1457.8H700" stroke="#000" stroke-width="5.3" stroke-linecap="round" stroke-dasharray="0 16.0"/>
<polygon points="700,1141 551.8,1141 551.8,1142.5 576.3,1144.5 587.7,1149.4 600.8,1155.2 623.7,1160.9 638.4,1165 623.7,1169.9 633.5,1174 649.9,1185.4 647.4,1191.9 648.2,1200.1 646.6,1206.7 651.5,1211.6 653.9,1218.1 655.6,1227.9 654.8,1234.5 657.2,1239.4 649.9,1245.1 658,1250.8 658,1262.3 652.3,1266.3 658.8,1272.9 656.4,1278.6 660.5,1283.5 667,1287.6 660.5,1293.3 660.5,1302.3 649,1308 653.9,1313.8 649,1319.5 657.2,1326.8 658,1332.6 662.9,1335.8 658,1340.7 640,1345.6 649.9,1350.5 654.8,1357.1 653.9,1363.6 659.7,1368.5 643.3,1373.4 656.4,1378.3 658,1383.2 651.5,1389.8 639.6,1394 647.5,1400.4 649.2,1404.8 644,1410.9 644,1416.1 652.7,1425.7 642.2,1430.9 646.6,1436.1 640.5,1442.2 641.4,1450 644,1455.2 631.8,1463.1 639.6,1468.3 629.2,1473.5 637,1479.6 622.2,1484.8 630.1,1490 617,1500.5 631.8,1505.7 620.5,1510 623.1,1518.7 627.4,1522.2 617.9,1526.6 628.3,1531.8 610.9,1537 609.2,1547.4 601.3,1552.7 607.4,1557.9 608.3,1571.8 591.8,1579.6 600.5,1584.9 586.6,1590.1 584.8,1597.9 585.7,1605.7 579.6,1611 580.5,1617.9 586.6,1622.3 605.7,1627.5 610.9,1631.8 642.2,1642.3 652.7,1652.7 687.5,1664 697.9,1667.5 700,1668" fill="rgb(237,237,59)" fill-opacity="0.27"/>
<polyline points="551.8,1142.5 576.3,1144.5 587.7,1149.4 600.8,1155.2 623.7,1160.9 638.4,1165 623.7,1169.9 633.5,1174 649.9,1185.4 647.4,1191.9 648.2,1200.1 646.6,1206.7 651.5,1211.6 653.9,1218.1 655.6,1227.9 654.8,1234.5 657.2,1239.4 649.9,1245.1 658,1250.8 658,1262.3 652.3,1266.3 658.8,1272.9 656.4,1278.6 660.5,1283.5 667,1287.6 660.5,1293.3 660.5,1302.3 649,1308 653.9,1313.8 649,1319.5 657.2,1326.8 658,1332.6 662.9,1335.8 658,1340.7 640,1345.6 649.9,1350.5 654.8,1357.1 653.9,1363.6 659.7,1368.5 643.3,1373.4 656.4,1378.3 658,1383.2 651.5,1389.8 639.6,1394 647.5,1400.4 649.2,1404.8 644,1410.9 644,1416.1 652.7,1425.7 642.2,1430.9 646.6,1436.1 640.5,1442.2 641.4,1450 644,1455.2 631.8,1463.1 639.6,1468.3 629.2,1473.5 637,1479.6 622.2,1484.8 630.1,1490 617,1500.5 631.8,1505.7 620.5,1510 623.1,1518.7 627.4,1522.2 617.9,1526.6 628.3,1531.8 610.9,1537 609.2,1547.4 601.3,1552.7 607.4,1557.9 608.3,1571.8 591.8,1579.6 600.5,1584.9 586.6,1590.1 584.8,1597.9 585.7,1605.7 579.6,1611 580.5,1617.9 586.6,1622.3 605.7,1627.5 610.9,1631.8 642.2,1642.3 652.7,1652.7 687.5,1664 697.9,1667.5" fill="none" stroke="#000" stroke-width="5" stroke-linejoin="round"/>
<path d="M551.8 1139.5V1145.6L570 1146.2L592 1144.6L615 1142.2L632 1141V1139.5Z" fill="#000"/>
<path d="M485.5 1135V1671" stroke="#000" stroke-width="5"/>
<path d="M483 1138.2H1319.4" stroke="#000" stroke-width="6"/>
<path d="M483 1668.4H1319.2" stroke="#000" stroke-width="6"/>
<path d="M485.6 1138V1127.2" stroke="#000" stroke-width="5"/>
<path d="M485.6 1668V1680.5" stroke="#000" stroke-width="5"/>
<path d="M557.6 1138V1127.2" stroke="#000" stroke-width="5"/>
<path d="M557.6 1668V1680.5" stroke="#000" stroke-width="5"/>
<path d="M629.4 1138V1127.2" stroke="#000" stroke-width="5"/>
<path d="M629.4 1668V1680.5" stroke="#000" stroke-width="5"/>
<path d="M701.6 1138V1127.2" stroke="#000" stroke-width="5"/>
<path d="M701.6 1668V1680.5" stroke="#000" stroke-width="5"/>
<path d="M704.2 1135.5V1671" stroke="#000" stroke-width="10"/>
<path d="M1306.5 1136V1671" stroke="#000" stroke-width="5.5"/>
<path d="M1306.5 1667.7H1319.5" stroke="#000" stroke-width="5.5"/>
<text x="1325.58" y="1678.00" font-size="30.86" font-weight="bold" textLength="42.34" lengthAdjust="spacingAndGlyphs" fill="#000">0.0</text>
<path d="M1306.5 1561.8H1319.5" stroke="#000" stroke-width="5.5"/>
<path d="M708 1561.8H713.5" stroke="#000" stroke-width="4.6"/>
<text x="1325.58" y="1572.10" font-size="30.86" font-weight="bold" textLength="42.34" lengthAdjust="spacingAndGlyphs" fill="#000">0.2</text>
<path d="M1306.5 1455.9H1319.5" stroke="#000" stroke-width="5.5"/>
<path d="M708 1455.9H713.5" stroke="#000" stroke-width="4.6"/>
<text x="1325.61" y="1466.20" font-size="30.86" font-weight="bold" textLength="41.24" lengthAdjust="spacingAndGlyphs" fill="#000">0.4</text>
<path d="M1306.5 1350.0H1319.5" stroke="#000" stroke-width="5.5"/>
<path d="M708 1350.0H713.5" stroke="#000" stroke-width="4.6"/>
<text x="1325.59" y="1360.30" font-size="30.86" font-weight="bold" textLength="42.18" lengthAdjust="spacingAndGlyphs" fill="#000">0.6</text>
<path d="M1306.5 1244.1H1319.5" stroke="#000" stroke-width="5.5"/>
<path d="M708 1244.1H713.5" stroke="#000" stroke-width="4.6"/>
<text x="1325.59" y="1254.40" font-size="30.86" font-weight="bold" textLength="42.02" lengthAdjust="spacingAndGlyphs" fill="#000">0.8</text>
<path d="M1306.5 1138.2H1319.5" stroke="#000" stroke-width="5.5"/>
<text x="1324.94" y="1148.50" font-size="30.86" font-weight="bold" textLength="43.00" lengthAdjust="spacingAndGlyphs" fill="#000">1.0</text>
<path d="M798.5 1668V1679.5" stroke="#000" stroke-width="5"/>
<path d="M936.4 1668V1679.5" stroke="#000" stroke-width="5"/>
<path d="M1074.7 1668V1679.5" stroke="#000" stroke-width="5"/>
<path d="M1212.9 1668V1679.5" stroke="#000" stroke-width="5"/>
<text x="1408.72" y="1204.20" font-size="39.03" font-weight="bold" textLength="455.73" lengthAdjust="spacingAndGlyphs" fill="#000" transform="rotate(90 1411.20 1204.20)">Haploinsufficiency Score</text>
<rect x="753" y="1270.6" width="91.8" height="11.4" fill="#000"/>
<rect x="891.2" y="1402.8" width="91.8" height="12" fill="#0000f5"/>
<rect x="1029.6" y="1333.6" width="91.8" height="12.3" fill="#f8000a"/>
<rect x="1167.3" y="1445.2" width="91.9" height="12" fill="#22fcfc"/>
<path d="M724.5 1212.4H1303" stroke="#0000f0" stroke-width="6.9" stroke-linecap="round" stroke-dasharray="0 18.05"/>
<path d="M724.8 1456.8H1303" stroke="#000" stroke-width="6.2" stroke-linecap="round" stroke-dasharray="0 18.0"/>
<text x="749.93" y="1720.70" font-size="39.13" font-weight="bold" textLength="92.05" lengthAdjust="spacingAndGlyphs" fill="#000">LTN1</text>
<text x="878.21" y="1720.70" font-size="38.71" font-weight="bold" textLength="118.00" lengthAdjust="spacingAndGlyphs" fill="#000">TCF25</text>
<text x="1020.51" y="1720.60" font-size="39.28" font-weight="bold" textLength="108.66" lengthAdjust="spacingAndGlyphs" fill="#000">NEMF</text>
<text x="1143.24" y="1720.60" font-size="38.86" font-weight="bold" textLength="139.51" lengthAdjust="spacingAndGlyphs" fill="#000">ZNF598</text>
</svg>
</body></html>
